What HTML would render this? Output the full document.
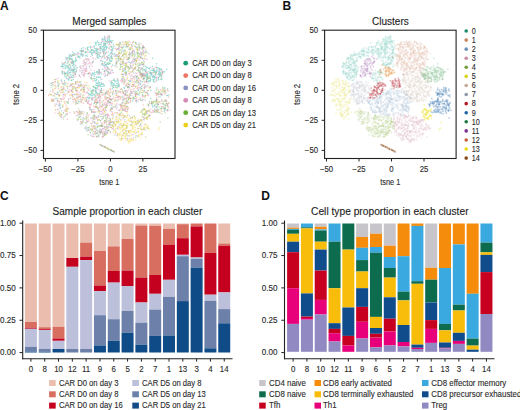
<!DOCTYPE html>
<html><head><meta charset="utf-8"><style>
html,body{margin:0;padding:0;background:#fff;width:520px;height:410px;overflow:hidden}
svg{display:block}
text{font-family:"Liberation Sans",sans-serif}
</style></head><body>
<svg width="520" height="410" viewBox="0 0 520 410">
<text x="0.0" y="9.6" font-size="12" text-anchor="start" fill="#111" font-weight="bold">A</text>
<text x="282.5" y="9.9" font-size="12" text-anchor="start" fill="#111" font-weight="bold">B</text>
<text x="-0.1" y="200.1" font-size="12" text-anchor="start" fill="#111" font-weight="bold">C</text>
<text x="261.2" y="200.0" font-size="12" text-anchor="start" fill="#111" font-weight="bold">D</text>
<defs><filter id="bl" x="-5%" y="-5%" width="110%" height="110%"><feGaussianBlur stdDeviation="0.35"/></filter></defs><g filter="url(#bl)"><path d="M71.5 63.4h0M92.8 49.4h0M76.2 71.8h0M65.7 90.6h0M101.3 90.3h0M142.8 76.0h0M99.7 72.6h0M136.1 76.7h0M66.6 73.1h0M147.5 73.3h0M123.9 87.6h0M95.6 80.9h0M147.3 74.4h0M143.7 78.7h0M112.8 85.5h0M84.9 62.4h0M144.6 88.2h0M67.0 58.5h0M103.4 48.2h0M142.3 99.5h0M83.6 74.7h0M55.2 79.4h0M90.3 94.3h0M72.7 55.2h0M119.3 84.9h0M100.6 145.1h0M162.7 73.1h0M65.9 57.6h0M75.5 61.6h0M167.7 89.1h0M56.5 94.3h0M112.0 50.4h0M148.7 68.6h0M73.7 68.9h0M161.6 94.2h0M98.4 77.2h0M103.7 45.4h0M97.2 87.2h0M125.3 69.4h0M106.0 52.8h0M70.2 58.2h0M145.0 85.0h0M74.9 69.8h0M161.6 76.7h0M125.4 74.5h0M111.8 42.8h0M117.9 84.9h0M104.3 49.1h0M73.6 63.1h0M73.0 69.5h0M164.7 110.9h0M91.1 77.7h0M96.6 92.8h0M73.0 70.1h0M149.9 78.1h0M63.9 66.7h0M100.9 79.1h0M166.7 69.2h0M159.0 74.3h0M118.6 86.5h0M152.9 77.5h0M93.4 50.8h0M75.1 71.7h0M91.7 53.3h0M85.2 51.7h0M138.9 94.9h0M111.1 86.0h0M123.4 71.1h0M98.5 80.9h0M130.6 81.3h0M79.7 56.6h0M128.9 84.5h0M71.2 55.0h0M98.5 58.1h0M93.0 52.5h0M82.7 54.1h0M65.7 73.5h0M89.0 94.0h0M111.0 61.5h0M74.0 72.0h0M75.3 73.4h0M93.6 74.0h0M69.6 69.4h0M110.3 53.9h0M116.9 81.0h0M67.2 67.8h0M104.9 42.9h0M148.4 81.3h0M144.4 90.8h0M167.9 110.5h0M88.3 98.4h0M103.5 65.0h0M92.6 90.1h0M89.8 97.2h0M112.9 40.7h0M157.3 106.4h0M159.4 76.0h0M83.1 66.1h0M157.1 70.8h0M110.9 52.9h0M99.6 85.3h0M111.5 55.7h0M108.4 52.0h0M95.0 91.2h0M104.7 47.4h0M164.8 91.8h0M92.5 95.4h0M104.4 44.3h0M138.5 94.1h0M71.5 58.7h0M154.4 105.5h0M106.3 70.5h0M152.3 76.4h0M105.3 64.6h0M97.8 54.7h0M110.9 150.2h0M103.9 43.0h0M164.5 87.9h0M145.5 70.7h0M111.4 60.4h0M103.4 50.8h0M152.9 106.7h0M88.0 73.7h0M95.4 91.3h0M91.2 49.9h0M69.2 56.4h0M97.3 54.1h0M64.2 64.8h0M160.5 74.4h0M105.3 65.2h0M104.0 54.2h0M166.0 101.1h0M164.6 71.8h0M107.4 42.6h0M146.4 67.9h0M156.5 63.8h0M109.6 102.1h0M123.2 74.6h0M112.3 88.6h0M146.2 70.9h0M57.6 82.3h0M148.0 78.7h0M62.2 73.3h0M100.4 46.6h0M150.8 72.6h0M69.8 78.1h0M99.5 93.3h0M104.4 71.3h0M102.7 65.1h0M161.1 73.2h0M112.5 49.4h0M140.9 64.2h0M142.7 75.5h0M155.5 77.8h0M98.3 83.9h0M159.2 70.9h0M165.3 109.0h0M67.0 58.1h0M157.2 70.4h0M107.4 64.2h0M143.2 75.6h0M115.7 85.4h0M94.4 103.1h0M89.3 97.9h0M75.0 61.0h0M111.0 82.3h0M109.3 64.1h0M71.4 70.0h0M102.2 50.5h0M88.2 50.1h0M105.0 76.2h0M80.2 51.1h0M144.6 78.7h0M133.5 69.9h0M104.9 147.2h0M99.2 55.7h0M151.9 103.9h0M71.8 62.2h0M100.1 50.7h0M102.7 51.5h0M108.3 57.4h0M107.5 67.2h0M98.5 86.1h0M100.4 92.0h0M67.5 86.8h0M95.1 50.4h0M144.0 74.4h0M75.8 59.3h0M111.3 84.3h0M67.6 67.6h0M150.8 90.4h0M107.4 40.5h0M97.8 93.7h0M104.2 43.7h0M101.8 83.6h0M101.2 48.6h0M136.1 93.6h0M154.4 82.0h0M156.7 71.4h0M142.7 70.7h0M98.5 45.1h0M90.0 88.2h0M100.4 48.3h0M128.6 86.9h0M161.9 79.2h0M64.4 73.6h0M153.0 79.7h0M65.1 116.1h0M97.2 83.6h0M90.7 78.2h0M158.1 104.6h0M114.5 53.5h0M150.0 72.4h0M161.2 108.4h0M162.9 107.1h0M153.4 81.2h0M72.8 70.7h0M71.4 59.7h0M103.0 56.0h0M103.4 43.5h0M118.2 82.6h0M111.0 40.8h0M97.0 52.0h0M67.7 62.5h0M74.2 67.2h0M114.9 81.8h0M60.1 105.0h0M140.3 80.8h0M147.3 75.7h0M88.5 93.6h0M101.9 63.8h0M152.4 66.2h0M102.1 49.5h0M88.2 46.9h0M91.8 74.1h0M97.0 54.0h0M96.9 72.9h0M138.5 90.4h0M125.2 90.8h0M102.4 38.5h0M74.6 53.4h0M70.5 67.9h0M100.3 76.9h0M94.3 76.3h0M158.6 77.4h0M103.5 43.4h0M109.9 72.5h0M105.6 44.3h0M65.4 68.6h0M149.5 101.7h0M118.8 53.2h0M101.7 84.0h0M101.4 88.6h0M103.3 39.8h0M70.4 68.1h0M104.5 36.6h0M107.4 75.1h0M106.1 147.7h0M108.0 148.6h0M153.4 75.4h0M107.7 71.4h0M140.4 84.4h0M145.1 76.1h0M102.5 39.8h0M69.5 64.7h0M89.2 66.2h0M151.3 75.1h0M141.7 68.8h0M96.2 80.5h0M96.1 48.4h0M136.5 77.7h0M128.9 87.4h0M152.5 70.6h0M67.9 71.7h0M59.8 104.2h0M67.0 65.5h0M113.3 47.0h0M109.2 63.0h0M95.1 90.4h0M73.9 66.7h0M157.2 104.5h0M130.6 94.9h0M73.2 54.3h0M118.7 85.7h0M113.5 83.4h0M158.3 104.1h0M97.2 71.6h0M112.3 83.1h0M99.9 144.7h0M79.3 75.7h0M101.1 84.3h0M109.6 39.8h0M154.7 110.9h0M96.7 77.6h0M62.4 64.9h0M143.1 73.9h0M112.4 53.9h0M100.3 53.0h0M163.4 104.0h0M126.2 73.5h0M129.1 97.3h0M90.6 46.4h0M65.9 78.0h0M86.9 55.0h0M67.5 74.0h0M92.1 75.1h0M142.4 76.5h0M79.5 56.9h0M73.5 64.1h0M90.5 47.8h0M79.9 58.0h0M110.6 149.9h0M102.4 61.5h0M101.3 82.7h0M64.6 80.7h0M91.2 75.6h0M99.3 44.4h0M111.6 105.6h0M105.0 58.2h0M93.4 94.1h0M71.6 62.3h0M160.0 96.9h0M145.1 86.9h0M123.9 54.2h0M153.4 70.2h0M72.8 52.2h0M80.2 50.9h0M111.9 82.6h0M91.9 97.6h0M85.9 59.0h0M106.3 64.4h0M69.8 69.5h0M79.1 101.7h0M137.8 49.2h0M73.3 79.6h0M76.4 60.5h0M51.1 94.6h0M108.8 101.7h0M84.1 88.1h0M158.0 74.6h0M105.6 53.6h0M146.9 77.7h0M68.2 76.1h0M114.5 84.4h0M104.4 85.5h0M72.2 63.5h0M156.9 67.2h0M147.6 93.8h0M105.3 40.0h0M153.6 69.2h0M98.6 42.7h0M98.9 73.2h0M81.9 70.5h0M95.6 93.1h0M73.6 70.8h0M72.9 54.7h0M96.4 72.0h0M103.9 86.0h0M98.5 53.9h0M112.5 65.1h0M101.4 44.6h0M167.3 109.5h0M91.0 90.9h0M71.1 75.9h0M163.0 71.9h0M151.4 103.5h0M107.9 58.1h0M109.1 35.6h0M94.8 74.6h0M106.3 48.2h0M99.1 93.9h0M95.0 78.5h0M64.7 72.6h0M92.3 90.5h0M83.2 47.8h0M114.1 79.0h0M81.4 48.8h0M71.6 56.4h0M140.2 72.8h0M75.3 74.4h0M156.8 88.1h0M96.9 77.0h0M104.0 146.8h0M95.5 43.7h0M107.1 47.3h0M156.5 99.2h0M127.7 86.9h0M78.0 52.6h0M90.4 47.0h0M125.9 71.6h0M98.9 69.4h0M107.2 42.8h0M128.5 59.1h0M117.9 86.9h0M100.9 47.1h0M104.4 39.8h0M154.0 68.5h0M57.7 92.7h0M146.0 75.3h0M156.8 80.3h0M141.7 86.3h0M104.4 62.9h0M63.2 63.7h0M155.5 73.7h0M72.4 65.7h0M94.6 94.9h0M152.4 106.1h0M118.2 83.9h0M65.4 62.7h0M102.0 84.3h0M96.2 85.6h0M96.5 51.2h0M144.2 69.9h0M95.4 87.7h0M107.1 63.0h0M95.8 90.3h0M133.6 97.3h0M68.4 78.4h0M111.4 83.5h0M110.4 41.0h0M136.2 100.5h0M102.5 56.8h0M105.2 47.0h0M111.6 60.6h0M92.9 89.4h0M89.1 97.6h0M150.3 81.3h0M62.8 88.9h0M151.9 73.0h0M62.7 66.4h0M140.6 75.2h0M96.6 49.7h0M72.7 72.0h0M66.1 76.8h0M104.0 49.4h0M161.6 69.3h0M109.4 39.9h0M106.9 56.6h0M87.1 56.2h0M85.8 52.3h0M73.6 64.6h0M90.8 93.7h0M168.9 94.9h0M154.2 76.9h0M160.5 74.1h0M101.5 89.9h0M100.3 90.3h0M139.8 83.9h0M103.5 84.3h0M75.6 58.0h0M91.6 50.1h0M100.6 56.4h0M62.8 72.9h0M122.4 74.6h0M77.9 52.4h0M148.0 77.9h0M94.7 72.8h0M69.4 54.7h0M81.7 50.3h0M114.6 80.5h0M85.3 52.8h0M73.1 75.1h0M158.9 68.4h0M160.3 72.4h0M94.6 52.7h0M99.7 73.6h0M113.4 44.5h0M156.6 71.3h0M94.4 46.1h0M161.8 75.8h0M158.8 109.5h0M160.0 75.3h0M71.6 76.9h0M67.1 67.3h0M101.1 60.5h0M114.2 85.0h0M76.6 70.0h0M64.8 73.9h0M142.3 76.4h0M60.6 107.7h0M148.5 105.2h0M72.8 61.1h0M96.2 82.8h0M96.7 82.9h0M158.6 73.4h0M146.3 74.0h0M158.5 112.5h0M72.3 59.5h0M96.0 43.3h0M94.0 94.5h0M160.3 69.4h0M111.8 52.5h0M144.7 78.6h0M106.3 66.3h0M73.9 61.4h0M149.4 69.1h0M160.1 75.4h0M160.8 79.3h0M135.8 90.9h0M154.4 79.0h0M143.8 73.9h0M96.3 48.6h0M109.1 55.3h0M94.8 95.1h0M130.6 91.6h0M94.9 48.7h0M117.6 79.8h0M131.9 45.2h0M97.4 85.6h0M92.2 92.1h0M147.1 67.4h0M118.2 82.0h0M93.4 86.5h0M70.8 74.8h0M68.1 102.8h0M116.6 83.3h0M97.8 102.2h0M110.7 41.2h0M71.7 80.3h0M161.8 79.0h0M79.1 56.7h0M98.7 82.4h0M97.0 42.4h0M73.6 62.8h0M147.7 77.9h0M111.5 58.2h0M99.4 70.4h0M113.0 48.5h0M144.3 74.2h0M141.5 88.6h0M70.4 66.7h0M149.0 71.7h0M152.8 58.3h0M148.8 76.1h0M107.5 38.9h0M97.0 56.0h0M153.5 69.8h0M99.6 85.4h0M80.8 54.6h0M101.4 73.9h0M92.4 90.8h0M109.4 37.6h0M82.7 56.2h0M94.1 51.8h0M109.3 48.1h0M82.3 54.4h0M83.3 50.4h0M65.9 66.1h0M154.0 79.7h0M99.0 56.7h0M156.0 77.5h0M109.3 73.2h0M118.7 86.2h0M150.7 98.6h0M150.4 78.5h0M129.8 81.3h0M143.6 47.6h0M98.6 58.0h0M158.2 78.7h0M91.5 50.4h0M150.3 80.5h0M68.1 76.0h0M164.5 109.6h0M138.3 82.4h0M110.9 82.6h0M110.5 53.6h0M121.8 79.1h0M77.0 97.2h0M59.2 105.7h0M104.7 50.7h0M158.6 79.7h0M109.0 38.9h0M160.0 68.8h0M102.5 69.3h0M81.4 51.7h0M110.4 61.5h0M111.2 41.6h0M99.6 77.3h0M70.1 65.1h0M112.8 85.3h0M135.5 42.6h0M111.8 52.0h0M165.0 105.3h0M69.1 70.2h0M161.5 79.6h0M100.3 49.1h0M159.5 72.4h0M126.1 72.6h0M115.5 87.2h0M92.3 93.4h0M61.4 80.6h0M69.3 59.3h0M141.6 74.8h0M153.6 72.0h0M109.4 60.4h0M113.5 80.3h0M154.3 71.1h0M85.9 70.1h0M96.7 48.6h0M109.5 58.4h0M149.2 68.1h0M62.4 71.7h0M51.3 85.5h0M156.0 71.9h0M64.8 76.0h0M99.5 46.7h0M72.6 70.6h0M74.5 69.7h0M97.3 57.4h0M105.1 61.7h0M76.1 54.4h0M142.2 73.6h0M79.9 66.8h0M97.4 88.1h0M111.3 47.1h0M67.9 71.0h0M145.7 66.4h0M69.6 72.8h0M105.2 40.1h0M89.5 52.1h0M74.0 69.6h0M108.2 72.3h0M94.2 87.4h0M112.3 70.2h0M155.4 74.9h0M142.5 76.5h0M96.1 91.6h0M160.4 72.2h0M91.0 52.1h0M133.1 99.3h0M147.3 77.3h0M166.9 95.4h0M142.3 47.7h0M110.3 57.0h0M111.0 99.7h0M113.5 87.6h0M124.4 88.2h0M94.5 80.1h0M111.7 57.1h0M100.9 44.5h0M104.6 62.6h0M154.2 76.2h0M74.8 68.8h0M156.8 69.9h0M105.7 43.5h0M67.0 60.1h0M146.7 81.4h0M61.5 80.1h0M73.4 61.5h0M101.3 42.2h0M108.9 41.9h0M99.5 83.0h0M107.1 59.7h0M87.4 48.8h0M85.4 55.7h0M75.7 65.8h0M102.1 86.4h0M149.9 81.6h0M102.4 46.7h0M81.2 55.3h0M142.8 95.3h0M143.7 77.8h0M65.2 84.0h0M95.8 85.3h0M97.3 50.2h0M90.2 52.5h0M61.2 66.7h0M66.2 77.1h0M140.4 57.3h0M141.1 100.6h0M153.8 70.4h0M99.3 93.8h0M95.8 96.7h0M100.4 48.5h0M151.6 74.3h0M144.3 69.4h0M159.7 91.8h0M145.1 76.2h0M93.3 89.9h0M108.3 64.3h0M111.9 57.1h0M61.7 66.2h0M154.8 77.6h0M154.8 72.3h0M102.1 64.1h0M104.7 65.7h0M68.9 79.9h0M151.1 70.3h0M104.8 44.0h0M136.4 101.9h0M68.2 66.6h0M104.0 85.3h0M67.5 75.6h0M98.1 52.2h0M165.0 88.1h0M164.3 111.6h0M94.0 86.9h0M82.5 51.5h0M109.0 37.3h0M164.3 71.8h0M160.9 75.0h0M65.4 62.0h0M103.9 48.9h0M73.0 75.6h0M122.8 47.2h0M165.2 107.1h0M92.5 62.8h0M157.0 103.3h0M78.2 57.3h0M96.6 79.6h0M114.7 81.1h0M86.3 52.3h0M135.5 96.6h0M97.3 87.6h0M67.7 58.0h0M155.1 71.8h0M76.7 67.7h0M106.0 49.7h0M68.3 79.8h0M91.1 95.5h0M58.4 85.1h0M144.4 78.3h0M107.4 63.7h0M104.9 38.2h0M70.8 72.3h0M100.6 86.2h0M109.4 43.5h0M96.1 45.0h0M69.1 57.7h0M97.3 88.2h0M115.2 80.9h0M146.8 79.8h0M67.2 73.2h0M95.4 42.5h0M109.2 63.1h0M68.0 63.8h0M73.8 65.0h0M94.3 47.0h0M68.4 68.0h0M97.5 49.5h0M138.8 70.7h0M159.1 69.0h0M146.7 80.3h0M150.6 79.4h0M153.9 79.6h0M97.5 41.1h0M159.8 76.3h0M156.3 72.9h0M110.0 41.8h0M150.2 74.1h0M92.8 73.0h0M102.0 64.3h0M71.1 70.8h0M153.2 76.9h0M95.9 88.8h0M117.3 85.5h0M156.7 100.8h0M62.0 72.0h0M78.0 55.8h0M99.3 71.2h0M112.1 49.4h0M65.3 68.0h0M89.4 107.8h0M137.0 80.1h0M72.5 77.2h0M89.6 94.7h0M103.6 53.1h0M61.2 66.4h0M75.9 54.6h0M65.6 65.4h0M140.6 72.3h0M105.3 45.5h0M91.3 91.1h0M113.9 85.5h0M111.7 49.4h0M105.5 41.0h0M141.8 74.7h0M106.7 41.3h0M87.3 47.8h0M157.9 67.7h0M154.8 70.7h0M149.4 80.8h0M72.0 69.6h0M68.8 74.0h0M151.8 74.8h0M106.5 46.5h0M96.9 48.9h0M70.0 55.9h0M103.5 46.4h0M132.7 101.0h0M111.5 150.5h0M98.9 72.4h0M91.8 54.6h0M111.6 46.7h0M134.6 56.0h0M81.3 53.5h0M138.8 94.7h0M91.1 93.3h0M159.5 73.5h0M109.0 41.3h0M104.9 45.4h0M92.3 55.2h0M150.1 76.8h0M112.4 58.8h0M107.7 67.0h0M51.5 83.3h0M83.0 54.4h0M97.0 83.8h0M56.1 98.3h0M122.2 50.0h0M63.8 83.5h0M154.6 108.9h0M150.5 73.6h0M155.0 71.0h0M153.5 76.2h0M100.4 84.9h0M145.4 71.7h0M145.5 69.7h0M69.3 68.6h0M129.3 62.6h0" stroke="#1fb0a0" stroke-width="1.5" stroke-linecap="round" stroke-opacity="0.45" fill="none"/>
<path d="M94.8 116.4h0M143.1 104.9h0M78.3 54.3h0M76.5 101.3h0M77.5 90.3h0M101.9 94.6h0M132.0 93.3h0M77.9 99.4h0M166.7 100.8h0M109.4 127.0h0M118.6 96.1h0M83.5 87.6h0M135.5 100.9h0M104.0 113.2h0M132.4 117.2h0M130.9 62.9h0M96.6 99.1h0M87.4 92.8h0M106.2 97.2h0M142.3 75.7h0M156.4 95.2h0M147.1 118.0h0M126.1 101.7h0M87.7 88.0h0M125.6 95.0h0M107.3 133.2h0M104.1 53.8h0M100.0 48.8h0M103.1 136.5h0M81.2 68.4h0M129.3 94.0h0M128.9 97.1h0M125.0 98.0h0M167.1 110.6h0M52.3 101.0h0M55.3 88.2h0M102.7 94.9h0M130.2 98.6h0M84.1 112.1h0M108.9 98.0h0M110.3 102.7h0M100.6 102.8h0M82.2 122.1h0M111.5 127.4h0M110.8 103.3h0M107.9 130.6h0M108.0 101.9h0M102.6 113.7h0M69.7 58.7h0M157.4 111.8h0M142.8 96.8h0M55.3 81.4h0M150.0 112.0h0M111.6 99.4h0M103.2 109.6h0M101.4 124.7h0M137.5 50.3h0M73.0 84.6h0M152.2 68.3h0M93.0 80.8h0M135.1 68.1h0M131.0 89.4h0M124.2 84.1h0M69.3 92.0h0M136.8 73.5h0M90.2 132.6h0M102.8 63.3h0M109.8 95.4h0M96.1 101.2h0M105.2 96.7h0M133.7 85.8h0M118.8 99.5h0M110.3 49.9h0M55.4 82.3h0M145.9 81.3h0M78.5 85.7h0M142.1 58.4h0M104.5 134.1h0M72.2 62.2h0M163.8 92.3h0M130.8 91.4h0M82.0 97.4h0M130.0 130.7h0M84.2 85.6h0M115.5 133.0h0M78.3 97.7h0M84.6 92.0h0M149.0 78.3h0M108.2 37.1h0M102.2 137.0h0M122.1 79.8h0M126.9 44.6h0M101.6 132.4h0M161.7 106.4h0M128.5 54.6h0M112.4 113.9h0M104.7 97.8h0M129.0 41.3h0M91.8 136.0h0M61.0 116.8h0M67.4 119.2h0M86.4 117.4h0M52.7 84.6h0M110.6 44.9h0M162.4 72.5h0M58.4 88.5h0M111.2 125.2h0M142.6 64.6h0M106.9 124.3h0M79.1 96.5h0M155.9 81.4h0M126.9 83.2h0M128.1 86.8h0M156.1 95.0h0M98.1 111.1h0M61.8 99.5h0M64.4 98.0h0M110.4 111.1h0M117.2 78.5h0M168.1 91.1h0M128.6 97.0h0M87.2 102.4h0M85.6 71.2h0M114.6 112.9h0M84.8 64.7h0M131.7 78.5h0M69.6 77.7h0M164.2 91.0h0M125.7 108.2h0M88.8 115.3h0M88.3 119.8h0M121.0 106.4h0M84.6 60.1h0M73.5 73.0h0M160.3 92.9h0M107.9 118.6h0M67.9 83.7h0M104.5 111.1h0M149.6 103.2h0M70.4 62.2h0M99.9 102.6h0M156.9 99.4h0M113.4 91.6h0M104.1 103.7h0M100.9 90.9h0M115.6 97.7h0M76.7 94.6h0M105.6 115.6h0M63.7 116.9h0M121.3 81.2h0M121.2 47.4h0M115.0 99.4h0M101.0 92.3h0M80.5 121.5h0M146.8 82.3h0M79.1 94.3h0M91.8 130.2h0M61.8 86.8h0M76.1 82.5h0M100.0 100.2h0M59.8 95.3h0M112.4 103.7h0M122.5 80.9h0M158.0 111.1h0M127.9 109.2h0M158.2 102.3h0M131.2 44.5h0M64.0 89.2h0M109.6 98.5h0M88.9 90.3h0M76.9 91.4h0M102.9 110.1h0M79.2 110.9h0M107.8 115.9h0M88.7 63.8h0M52.9 90.5h0M117.5 112.4h0M117.3 49.1h0M132.9 84.5h0M95.3 106.3h0M115.7 90.9h0M160.2 74.9h0M71.7 84.0h0M101.8 130.2h0M164.8 107.5h0M123.3 93.3h0M73.4 101.7h0M156.1 101.4h0M64.6 82.2h0M101.4 107.0h0M73.3 69.7h0M168.8 96.9h0M79.6 111.6h0M129.2 98.2h0M139.7 73.1h0M105.2 102.5h0M132.7 53.4h0M90.1 106.8h0M91.6 111.5h0M101.9 106.2h0M107.6 36.3h0M161.3 77.8h0M167.4 90.1h0M156.5 72.8h0M69.3 86.4h0M96.3 117.4h0M48.7 95.3h0M96.6 106.3h0M98.5 97.6h0M117.5 93.3h0M122.5 114.7h0M153.1 72.7h0M130.2 100.4h0M94.5 128.6h0M128.2 57.7h0M60.4 98.7h0M107.1 105.3h0M63.6 88.7h0M98.5 95.8h0M110.3 99.5h0M62.2 83.7h0M108.5 120.7h0M101.3 111.1h0M107.8 113.9h0M142.4 101.0h0M142.8 74.3h0M110.6 109.8h0M145.2 92.5h0M107.6 97.8h0M135.2 86.4h0M61.1 89.6h0M122.1 107.1h0M120.4 98.8h0M71.6 91.4h0M92.2 66.5h0M86.7 71.3h0M137.8 87.5h0M126.4 99.9h0M98.1 108.3h0M129.9 84.0h0M161.5 101.5h0M98.8 97.4h0M134.2 88.6h0M75.3 87.9h0M73.1 87.6h0M95.3 131.5h0M49.9 94.1h0M161.9 111.2h0M103.5 52.5h0M162.3 74.1h0M87.4 102.4h0M67.2 113.5h0M94.3 136.4h0M111.7 66.7h0M122.3 109.6h0M130.7 101.2h0M159.7 94.0h0M139.4 49.7h0M107.3 100.8h0M80.7 113.0h0M122.5 99.5h0M108.1 91.9h0M155.6 67.2h0M108.0 92.1h0M64.6 63.1h0M110.8 90.0h0M83.2 103.3h0M110.2 88.9h0M80.3 96.6h0M69.9 95.5h0M66.5 108.2h0M80.8 90.4h0M107.7 128.1h0M155.9 110.6h0M104.7 126.9h0M102.6 122.9h0M103.2 108.6h0M105.6 99.6h0M126.8 111.6h0M83.8 91.5h0M118.3 96.9h0M85.7 63.6h0M98.1 49.1h0M147.9 73.5h0M104.2 131.6h0M71.7 90.3h0M93.9 111.2h0M96.9 100.0h0M166.7 103.7h0M149.9 115.3h0M103.1 105.7h0M132.2 80.7h0M95.2 102.3h0M106.1 99.2h0M96.8 136.9h0M96.4 99.6h0M107.8 42.3h0M97.9 120.0h0M92.3 128.7h0M123.3 105.8h0M105.7 129.6h0M143.9 47.6h0M160.6 89.7h0M52.6 89.9h0M65.6 111.0h0M74.5 113.2h0M81.2 102.5h0M74.5 98.7h0M77.9 112.6h0M55.7 109.9h0M103.6 100.4h0M151.0 73.6h0M119.8 114.1h0M108.1 94.2h0M51.6 99.6h0M122.8 54.9h0M126.1 121.9h0M128.3 98.9h0M125.2 110.9h0M142.5 76.5h0M67.0 114.8h0M124.5 83.0h0M132.8 51.4h0M121.1 107.7h0M80.6 85.3h0M86.9 83.0h0M65.0 95.0h0M133.3 50.5h0M53.1 95.5h0M125.6 94.4h0M98.6 86.3h0M125.0 104.1h0M126.6 107.7h0M142.7 52.3h0M138.9 99.6h0M84.8 99.0h0M74.7 73.5h0M139.0 60.1h0M96.2 106.9h0M124.6 98.5h0M83.5 89.6h0M89.7 107.8h0M91.7 125.7h0M165.2 90.2h0M158.1 101.7h0M105.1 108.4h0M116.5 95.5h0M169.1 102.7h0M120.4 59.0h0M52.4 99.4h0M110.3 118.7h0M91.7 112.5h0M67.8 108.2h0M89.3 104.5h0M143.7 47.0h0M125.2 81.6h0M138.5 81.1h0M142.5 46.1h0M86.5 59.3h0M76.6 90.2h0M79.6 82.4h0M111.6 114.6h0M122.1 102.7h0M125.4 109.6h0M94.5 133.7h0M103.4 132.1h0M70.1 90.0h0M118.4 97.4h0M79.5 82.0h0M84.3 74.9h0M132.7 42.8h0M138.0 85.6h0M75.5 83.6h0M94.8 97.2h0M104.2 57.1h0M82.0 100.3h0M165.5 99.7h0M156.7 93.4h0M101.3 132.1h0M63.6 99.2h0M108.2 115.1h0M134.6 61.2h0M99.2 94.3h0M132.6 70.9h0M107.8 114.2h0M117.0 103.7h0M79.5 110.4h0M110.2 99.1h0M103.6 109.5h0M135.3 60.2h0M106.4 52.3h0M135.4 94.8h0M140.1 55.0h0M147.7 110.9h0M109.5 122.7h0M112.7 113.1h0M143.6 78.9h0M54.7 93.8h0M152.7 101.8h0M134.5 84.3h0M86.0 97.8h0M151.8 112.5h0M103.2 135.1h0M79.5 86.1h0M100.6 96.1h0M113.0 128.5h0M125.2 104.2h0M89.1 73.6h0M130.8 79.1h0M162.5 72.1h0M119.6 109.9h0M145.4 95.7h0M76.4 98.4h0M109.7 88.7h0M106.6 104.7h0M129.7 73.2h0M97.3 95.0h0M88.2 89.4h0M107.4 92.4h0M150.3 109.0h0M157.8 104.1h0M109.2 95.5h0M73.1 97.1h0M118.9 91.8h0M105.3 99.0h0M130.4 102.0h0M151.3 102.2h0M112.1 108.5h0M120.8 92.8h0M84.6 73.4h0M108.4 101.3h0M88.9 121.3h0M112.1 98.9h0M104.5 57.3h0M117.4 97.2h0M127.5 106.7h0M103.9 89.9h0M124.7 104.1h0M139.9 74.3h0M68.8 92.0h0M158.5 89.8h0M168.2 106.7h0M76.1 111.7h0M76.7 115.5h0M103.5 136.7h0M120.3 89.7h0M162.6 94.7h0M68.6 65.9h0M126.8 67.3h0M110.7 99.2h0M114.1 151.7h0M120.4 105.6h0M59.4 101.1h0M83.4 91.7h0M107.6 100.5h0M135.8 95.5h0M164.9 93.8h0M109.5 99.4h0M84.8 87.1h0M144.2 117.7h0M90.4 108.1h0M108.9 44.4h0M59.5 103.2h0M154.2 112.1h0M128.3 107.9h0M135.7 95.1h0M127.0 103.2h0M83.5 114.0h0M115.1 48.5h0M128.8 44.7h0M113.7 97.2h0M87.0 115.8h0M100.9 132.6h0M99.5 111.7h0M116.8 63.2h0M75.6 90.6h0M72.4 92.0h0M104.3 122.1h0M107.0 57.6h0M97.1 118.6h0M102.1 126.5h0M118.1 121.1h0M141.1 74.4h0M87.6 102.4h0M141.3 77.1h0M164.8 108.3h0M99.3 119.7h0M156.9 97.7h0M100.9 98.1h0M146.2 72.5h0M88.5 59.9h0M128.2 102.9h0M90.1 104.7h0M92.7 121.7h0M70.9 84.6h0M124.2 58.1h0M66.7 110.1h0M93.5 106.3h0M99.5 95.0h0M57.9 113.6h0M87.3 121.8h0M127.4 59.5h0M141.9 73.2h0M125.6 42.6h0M75.3 100.7h0M101.8 114.2h0M79.7 76.0h0M108.7 91.1h0M113.3 107.1h0M83.8 95.0h0M73.2 96.2h0M53.0 92.1h0M93.1 112.1h0M137.1 88.6h0M79.3 112.9h0M146.7 81.7h0M126.4 85.5h0M138.4 84.9h0M169.8 110.3h0M144.1 85.0h0M72.7 99.4h0M153.7 110.5h0M81.1 122.3h0M82.9 99.1h0M162.5 89.1h0M100.0 105.8h0M83.3 51.5h0M77.0 87.4h0M102.4 109.9h0M146.1 82.1h0M157.1 110.0h0M156.7 77.8h0M85.2 101.1h0M84.2 89.7h0M101.4 126.1h0M146.8 112.3h0M104.9 104.3h0M144.5 75.7h0M64.9 103.3h0M162.4 70.9h0M118.7 49.1h0M96.4 102.7h0M120.1 96.6h0M91.0 123.4h0M111.0 92.2h0M124.7 110.7h0M118.8 43.8h0" stroke="#f07868" stroke-width="1.5" stroke-linecap="round" stroke-opacity="0.45" fill="none"/>
<path d="M119.6 50.5h0M138.7 67.4h0M142.5 116.2h0M61.7 110.7h0M123.6 76.7h0M125.0 95.0h0M105.6 109.7h0M138.9 67.2h0M134.1 59.2h0M110.3 123.1h0M100.0 114.4h0M112.8 93.7h0M144.2 109.1h0M137.9 122.8h0M115.9 65.4h0M101.7 129.7h0M126.8 59.8h0M107.4 68.1h0M100.0 96.7h0M59.8 108.3h0M86.8 114.2h0M138.1 89.0h0M117.9 128.5h0M104.7 123.5h0M129.0 135.8h0M132.3 53.0h0M134.5 51.9h0M57.2 100.0h0M161.4 95.5h0M131.4 125.0h0M97.4 126.8h0M96.9 116.9h0M145.4 118.1h0M110.1 97.1h0M123.8 50.5h0M127.7 115.3h0M142.4 64.9h0M142.0 55.1h0M95.6 128.4h0M138.1 120.2h0M127.2 101.3h0M143.7 114.6h0M82.0 111.6h0M81.2 112.0h0M107.8 130.3h0M110.1 102.5h0M130.0 64.9h0M112.9 98.8h0M107.5 116.6h0M98.5 135.0h0M94.7 102.5h0M77.7 103.5h0M135.6 67.1h0M63.0 94.9h0M96.1 92.7h0M134.9 52.9h0M107.1 117.4h0M102.3 146.1h0M126.8 46.8h0M136.6 61.8h0M143.4 117.5h0M147.8 128.3h0M130.2 53.8h0M120.1 44.1h0M135.1 58.7h0M136.7 132.5h0M156.5 107.2h0M77.9 115.8h0M118.2 58.5h0M80.9 83.2h0M74.1 94.7h0M92.8 136.4h0M90.7 135.1h0M133.6 138.1h0M122.9 101.1h0M118.4 44.9h0M115.7 63.0h0M71.9 91.0h0M124.3 116.3h0M105.8 93.6h0M83.2 120.4h0M87.1 64.1h0M137.3 53.3h0M123.6 100.3h0M95.9 128.3h0M105.3 127.8h0M64.2 92.9h0M155.6 93.2h0M110.0 99.2h0M87.6 127.7h0M116.0 101.1h0M121.9 83.1h0M120.1 42.2h0M108.6 100.3h0M128.8 102.3h0M133.1 62.1h0M88.9 129.5h0M141.1 121.1h0M96.8 102.4h0M113.4 115.3h0M63.6 94.8h0M61.7 117.4h0M120.7 119.4h0M104.9 120.5h0M136.1 135.6h0M120.6 58.1h0M134.6 52.1h0M131.7 62.2h0M138.0 78.1h0M99.4 101.1h0M102.1 145.9h0M144.3 114.5h0M116.4 93.1h0M122.7 78.4h0M75.4 99.7h0M129.0 58.3h0M99.9 131.7h0M115.1 106.5h0M132.1 55.6h0M78.0 97.2h0M92.8 127.3h0M140.3 57.0h0M110.4 122.4h0M127.4 135.8h0M130.8 66.7h0M98.5 110.0h0M121.6 97.2h0M106.8 121.9h0M141.1 53.0h0M92.2 98.7h0M146.8 79.7h0M128.7 49.2h0M123.9 80.3h0M137.1 94.3h0M113.9 126.3h0M112.3 109.1h0M139.7 64.1h0M86.9 91.7h0M159.0 71.5h0M55.2 105.8h0M107.6 148.5h0M117.7 55.7h0M120.3 68.9h0M101.4 122.9h0M136.1 64.0h0M113.8 54.8h0M113.1 124.0h0M161.4 70.8h0M102.7 128.4h0M80.3 99.7h0M111.8 111.5h0M147.9 128.1h0M141.1 81.4h0M145.4 130.1h0M143.6 50.3h0M107.0 132.3h0M102.2 101.6h0M132.2 52.5h0M95.1 100.3h0M150.4 67.2h0M149.9 116.2h0M114.8 65.5h0M105.3 131.4h0M130.2 80.8h0M150.8 73.0h0M92.4 100.2h0M92.1 109.6h0M139.0 42.9h0M91.0 109.8h0M117.3 128.7h0M100.6 132.0h0M131.7 121.2h0M141.6 68.0h0M113.8 122.9h0M118.2 49.2h0M133.1 58.1h0M117.7 134.0h0M122.7 55.2h0M96.7 124.2h0M84.7 128.1h0M50.7 91.2h0M143.6 128.7h0M119.6 124.8h0M125.5 94.9h0M81.3 85.3h0M141.6 126.0h0M102.7 134.0h0M107.6 127.1h0M102.8 136.6h0M143.8 66.7h0M122.5 41.9h0M125.1 67.6h0M134.1 77.7h0M78.8 85.8h0M61.1 99.1h0M95.3 123.2h0M100.4 125.6h0M63.5 112.4h0M119.4 110.5h0M98.3 115.5h0M124.2 68.5h0M119.2 55.3h0M126.8 130.9h0M83.1 86.4h0M87.7 130.8h0M125.6 91.8h0M144.8 52.4h0M102.6 116.8h0M158.3 94.3h0M135.5 122.7h0M140.0 65.6h0M99.8 113.5h0M136.4 124.7h0M116.4 55.0h0M119.5 104.6h0M105.2 132.3h0M123.9 116.7h0M141.0 52.0h0M112.1 50.6h0M116.2 93.6h0M161.2 94.3h0M128.5 61.2h0M144.2 119.8h0M146.2 76.9h0M112.4 150.9h0M155.1 106.4h0M123.9 108.9h0M124.8 116.5h0M123.4 98.6h0M97.3 130.2h0M120.8 115.7h0M94.6 122.2h0M108.8 149.4h0M122.6 130.0h0M71.4 90.2h0M143.6 60.7h0M94.9 126.1h0M101.7 125.7h0M122.4 103.7h0M101.0 125.9h0M139.9 64.8h0M102.3 133.0h0M119.0 48.2h0M140.6 124.1h0M98.1 116.8h0M137.5 123.5h0M105.3 115.4h0M87.7 103.2h0M107.9 130.9h0M124.6 120.0h0M119.8 45.0h0M118.0 59.5h0M141.3 129.2h0M89.0 130.2h0M123.1 110.2h0M95.0 119.3h0M109.7 120.7h0M86.2 130.1h0M101.7 119.0h0M136.0 62.3h0M115.3 54.9h0M74.3 87.1h0M116.9 105.6h0M87.2 114.1h0M141.0 87.8h0M135.1 59.8h0M123.7 46.8h0M96.4 133.1h0M141.5 62.5h0M130.5 76.5h0M137.8 136.2h0M134.6 68.2h0M136.9 44.6h0M121.1 138.4h0M108.5 126.7h0M122.3 64.3h0M135.6 82.0h0M123.0 135.0h0M132.1 93.1h0M141.8 134.7h0M119.2 96.7h0M100.5 106.0h0M91.8 118.6h0M141.0 56.7h0M132.2 51.4h0M127.8 138.3h0M106.0 110.6h0M145.0 124.3h0M145.9 50.6h0M124.9 94.8h0M105.6 93.5h0M93.0 120.0h0M126.2 45.5h0M139.9 47.2h0M101.4 145.5h0M94.5 112.8h0M123.0 44.6h0M68.9 98.8h0M117.2 107.4h0M110.1 59.7h0M130.9 72.0h0M134.8 98.1h0M108.8 123.9h0M98.2 49.4h0M74.6 94.2h0M99.1 136.2h0M143.9 47.2h0M76.9 111.5h0M119.3 56.7h0M126.7 127.6h0M149.6 115.5h0M143.9 48.1h0M140.0 53.3h0M106.0 114.2h0M130.7 117.9h0M91.8 111.7h0M105.1 105.0h0M132.1 67.8h0M147.2 113.2h0M104.1 94.9h0M137.4 47.1h0M99.3 110.5h0M145.2 100.1h0M133.1 58.9h0M118.1 61.0h0M96.9 136.5h0M116.9 56.4h0M134.1 50.3h0M136.2 43.9h0M132.6 65.5h0M125.4 85.9h0M129.6 116.1h0M116.1 62.7h0M100.6 120.8h0M92.6 133.1h0M143.3 53.6h0M86.3 100.5h0M90.5 118.1h0M82.6 123.8h0M102.4 146.1h0M123.3 118.4h0M109.9 124.0h0M121.9 125.0h0M126.4 72.5h0M97.1 130.8h0M135.7 73.0h0M138.3 70.0h0M93.2 118.9h0M106.3 106.1h0M94.5 115.5h0M124.8 115.7h0M120.7 64.3h0M75.5 102.2h0M127.4 140.0h0M114.9 135.1h0M79.0 114.4h0M83.3 117.4h0M113.0 117.6h0M129.8 49.0h0M116.3 120.9h0M97.5 133.2h0M88.2 127.5h0M145.9 51.2h0M120.6 104.3h0M123.7 50.7h0M78.7 84.6h0M132.0 61.4h0M140.4 82.9h0M147.0 111.0h0M130.7 97.9h0M87.4 97.2h0M80.3 123.8h0M149.1 53.8h0M99.4 132.8h0M125.8 111.2h0M105.3 132.8h0M76.6 102.9h0M116.6 56.2h0M125.8 130.7h0M113.8 129.5h0M89.7 109.6h0M79.1 91.9h0M67.6 88.5h0M93.4 134.5h0M98.7 109.2h0M142.5 59.1h0M132.6 134.6h0M116.9 49.2h0M91.8 123.4h0M136.1 47.6h0M97.3 102.8h0M148.0 83.1h0M56.5 104.1h0M149.5 111.1h0M124.4 70.5h0M123.8 133.0h0M138.6 128.5h0M118.2 60.1h0M138.1 122.2h0M128.3 46.7h0M140.0 125.2h0M64.5 85.1h0M129.1 54.7h0M137.7 120.6h0M103.6 116.4h0M103.1 129.1h0M99.8 104.0h0M116.6 116.5h0M105.5 74.9h0M136.0 93.6h0M143.3 119.6h0M123.8 52.3h0M126.6 56.2h0M143.3 108.5h0M93.9 117.3h0M97.9 125.5h0M105.2 134.1h0M167.5 95.6h0M131.1 54.6h0M119.1 115.1h0M99.0 130.9h0M111.3 57.1h0M103.0 104.3h0M105.6 106.9h0M88.7 101.3h0M81.7 72.7h0M87.0 128.5h0M133.7 73.1h0M112.5 122.2h0M93.5 112.5h0M124.0 117.1h0M87.4 121.5h0M132.1 52.2h0M113.1 107.0h0M133.9 61.5h0M111.4 107.8h0M104.6 146.6h0M102.8 126.2h0M80.2 116.9h0M107.0 103.7h0M141.4 120.1h0M105.7 133.1h0M116.7 49.8h0M130.7 62.9h0M95.3 132.8h0M118.6 126.6h0M144.1 129.0h0M111.8 122.4h0M142.2 129.7h0M128.7 67.6h0M107.1 130.7h0M117.2 128.5h0M87.4 131.1h0M72.7 94.2h0M100.9 111.7h0M68.6 101.1h0M77.5 120.6h0M86.2 125.9h0M110.8 108.2h0M104.2 134.4h0M140.4 57.2h0M116.3 61.5h0M124.3 109.0h0M162.0 100.6h0M111.4 150.2h0M100.0 128.9h0M116.9 135.4h0M99.5 99.0h0M136.8 76.6h0M132.1 123.2h0M70.7 85.6h0M115.4 124.8h0M72.5 94.4h0M106.3 133.1h0M139.0 68.5h0M81.7 87.9h0M142.2 64.4h0M58.8 109.8h0M113.5 90.4h0M109.0 124.0h0M150.4 87.5h0M80.1 95.9h0M96.8 103.2h0M60.5 116.0h0M83.5 118.4h0M95.1 129.5h0M110.2 149.4h0M126.0 98.7h0M130.9 93.2h0" stroke="#8c96d0" stroke-width="1.5" stroke-linecap="round" stroke-opacity="0.45" fill="none"/>
<path d="M83.2 55.6h0M94.7 126.4h0M132.6 78.9h0M111.1 73.3h0M55.2 98.7h0M116.8 54.4h0M80.7 66.0h0M125.7 93.0h0M62.7 68.4h0M131.5 52.9h0M147.6 90.7h0M69.8 112.5h0M107.1 94.0h0M90.4 50.9h0M144.0 73.0h0M101.7 39.9h0M87.7 59.8h0M123.0 93.7h0M132.2 75.2h0M124.3 94.1h0M109.1 73.9h0M107.6 59.1h0M108.1 114.5h0M126.6 74.8h0M110.6 73.0h0M55.1 85.1h0M141.7 74.0h0M106.9 103.9h0M104.8 72.1h0M58.8 113.3h0M77.4 67.5h0M124.1 95.9h0M121.1 64.8h0M140.7 98.1h0M125.8 75.0h0M99.1 72.9h0M54.9 104.0h0M105.5 147.4h0M137.1 81.2h0M103.9 51.6h0M136.3 98.5h0M65.7 105.1h0M99.8 71.9h0M62.0 92.8h0M86.1 92.9h0M58.8 101.7h0M86.0 69.0h0M96.7 94.3h0M91.5 75.7h0M95.3 51.7h0M104.6 71.2h0M121.5 73.9h0M131.8 86.6h0M143.6 51.1h0M120.5 104.8h0M117.7 48.2h0M85.0 64.8h0M106.7 37.9h0M95.8 53.4h0M101.8 79.2h0M104.3 66.7h0M71.7 69.0h0M106.8 126.6h0M127.5 84.1h0M88.1 102.5h0M103.9 49.4h0M81.0 101.6h0M120.4 91.7h0M129.9 121.3h0M104.2 38.7h0M125.3 105.9h0M68.0 61.5h0M156.7 94.2h0M90.4 72.8h0M134.0 42.0h0M107.7 67.6h0M168.5 108.3h0M94.6 100.9h0M142.8 75.1h0M70.8 77.6h0M62.3 74.3h0M131.7 138.8h0M113.2 151.5h0M85.8 73.4h0M167.7 105.2h0M107.3 132.4h0M83.3 63.6h0M51.6 100.9h0M92.4 62.8h0M160.9 103.7h0M99.1 107.5h0M146.5 81.7h0M83.3 76.0h0M139.6 45.2h0M165.1 101.7h0M127.0 62.4h0M146.4 59.5h0M95.1 112.1h0M61.9 115.1h0M84.8 62.6h0M101.3 58.4h0M163.1 108.4h0M86.5 68.3h0M99.5 69.6h0M60.3 92.1h0M105.7 75.5h0M81.5 89.8h0M75.3 74.8h0M108.5 41.7h0M93.5 90.6h0M127.5 90.6h0M106.3 121.8h0M110.2 46.6h0M62.0 98.6h0M83.0 68.3h0M158.5 96.4h0M82.2 50.4h0M121.1 59.3h0M52.7 100.6h0M103.7 74.3h0M110.9 104.3h0M57.4 101.7h0M62.0 82.6h0M143.6 75.3h0M103.6 110.8h0M141.1 74.9h0M131.7 47.8h0M93.3 58.8h0M102.2 41.8h0M91.4 77.4h0M134.4 91.5h0M93.9 126.4h0M130.8 57.1h0M129.9 85.3h0M139.5 54.5h0M129.4 52.2h0M91.8 47.4h0M115.8 105.0h0M149.0 87.3h0M132.0 91.8h0M123.7 78.8h0M148.6 95.7h0M104.3 55.6h0M90.8 62.7h0M136.1 99.7h0M120.5 62.1h0M142.2 85.4h0M140.4 97.4h0M111.3 150.4h0M104.1 52.0h0M62.7 63.7h0M155.7 76.0h0M57.0 94.3h0M127.5 111.1h0M58.6 102.3h0M65.8 59.4h0M95.0 107.4h0M142.4 49.1h0M127.6 95.5h0M156.7 99.7h0M72.1 87.1h0M120.8 108.9h0M136.5 100.8h0M119.2 56.4h0M162.9 107.0h0M141.7 76.1h0M118.9 84.0h0M78.0 95.7h0M58.5 94.5h0M87.9 100.8h0M77.5 56.4h0M139.9 48.4h0M84.0 61.3h0M133.2 86.6h0M132.9 50.5h0M132.3 46.4h0M84.0 72.8h0M91.9 53.6h0M144.1 87.7h0M110.0 69.8h0M129.2 57.9h0M121.4 88.8h0M104.5 67.9h0M86.4 66.0h0M91.1 98.6h0M95.8 117.6h0M84.7 68.3h0M104.8 73.3h0M93.3 61.6h0M98.0 132.3h0M108.0 55.7h0M157.9 77.2h0M143.5 54.4h0M56.5 78.9h0M131.5 92.6h0M132.7 60.2h0M94.1 122.7h0M63.7 87.9h0M101.8 131.4h0M115.7 90.2h0M68.8 72.6h0M136.2 58.3h0M100.8 47.3h0M118.2 110.1h0M99.6 54.4h0M146.1 92.5h0M161.7 93.8h0M128.5 73.8h0M146.8 59.2h0M64.0 71.7h0M151.2 103.4h0M89.4 100.3h0M97.2 56.1h0M107.3 101.9h0M102.8 83.6h0M135.3 75.5h0M139.6 86.9h0M89.2 62.9h0M95.7 58.9h0M137.9 100.8h0M83.3 61.1h0M146.5 91.9h0M140.6 67.9h0M98.8 70.7h0M111.3 42.5h0M79.8 70.0h0M92.2 100.1h0M103.2 128.5h0M89.0 72.2h0M52.3 82.6h0M130.3 94.7h0M109.5 104.9h0M122.8 69.1h0M98.7 89.6h0M120.9 80.4h0M90.9 56.5h0M58.1 78.3h0M139.4 87.5h0M110.0 37.0h0M92.7 58.0h0M88.7 103.5h0M145.0 58.7h0M138.5 52.8h0M149.0 104.3h0M76.3 71.5h0M91.9 63.1h0M119.6 46.8h0M129.9 88.1h0M94.8 131.5h0M156.4 68.0h0M77.1 93.0h0M101.1 65.2h0M135.0 69.3h0M109.0 115.5h0M73.2 99.3h0M137.7 75.5h0M124.7 63.6h0M114.5 93.4h0M105.4 92.4h0M85.3 70.8h0M67.0 78.8h0M147.2 95.5h0M133.2 63.8h0M161.6 109.9h0M123.2 92.5h0M138.9 72.7h0M61.9 90.0h0M160.0 113.3h0M86.4 66.5h0M121.7 106.0h0M71.0 59.5h0M104.0 44.8h0M106.8 125.6h0M113.0 121.7h0M130.4 42.8h0M136.2 77.9h0M97.9 74.6h0M138.0 79.3h0M85.3 48.7h0M89.5 61.2h0M101.6 72.2h0M128.7 67.3h0M59.3 105.8h0M143.0 90.3h0M166.0 101.4h0M93.4 97.9h0M80.3 94.5h0M123.3 61.3h0M134.2 93.8h0M123.6 61.8h0M96.2 89.4h0M91.2 103.0h0M122.8 74.4h0M126.4 44.5h0M118.2 47.9h0M146.9 72.1h0M75.3 74.0h0M132.3 96.0h0M88.0 52.6h0M53.6 101.2h0M104.6 146.9h0M89.7 68.0h0M82.6 72.1h0M80.6 67.8h0M58.1 104.8h0M86.7 61.4h0M143.0 79.2h0M107.1 93.8h0M137.1 58.8h0M82.1 51.3h0M156.2 109.3h0M148.6 106.6h0M134.0 82.7h0M84.2 68.8h0M81.4 54.1h0M91.0 64.8h0M108.1 74.1h0M144.7 86.9h0M102.2 57.6h0M99.0 52.7h0M84.4 70.7h0M140.2 58.7h0M63.9 94.6h0M101.8 107.0h0M130.8 98.4h0M133.5 85.0h0M107.9 58.5h0M143.4 45.8h0M93.4 117.7h0M62.3 63.0h0M87.5 52.1h0M68.1 91.0h0M134.2 81.5h0M159.5 69.8h0M83.7 63.3h0M97.5 98.3h0M127.6 91.3h0M161.7 99.4h0M111.3 99.3h0M155.8 76.3h0M135.7 95.2h0M135.8 94.4h0M101.5 88.7h0M54.0 101.0h0M69.5 76.7h0M111.9 54.0h0M110.6 73.7h0M139.7 79.7h0M65.7 96.1h0M105.6 64.7h0M142.9 84.8h0M88.6 95.5h0M127.2 97.2h0M79.1 74.8h0M126.8 80.1h0M67.1 93.4h0M98.7 74.6h0M100.5 60.7h0M131.7 74.8h0M63.2 97.0h0M120.8 61.8h0M94.4 70.5h0M145.4 71.1h0M89.0 59.0h0M55.0 112.9h0M77.0 83.9h0M89.7 74.0h0M99.0 96.6h0M150.1 87.5h0M104.5 129.0h0M62.9 107.0h0M123.4 138.6h0M110.4 132.8h0M86.8 69.4h0M111.6 52.7h0M144.4 75.5h0M79.6 53.5h0M90.8 69.9h0M138.3 101.1h0M74.9 54.8h0M126.1 63.8h0M133.3 89.5h0M68.7 90.5h0M123.0 63.2h0M123.8 92.4h0M80.1 97.4h0M130.0 75.1h0M113.9 151.6h0M107.3 75.5h0M108.4 103.0h0M64.5 110.7h0M116.3 108.7h0M70.3 85.7h0M112.2 128.7h0M86.9 97.4h0M107.0 38.1h0M107.0 69.9h0M89.2 76.5h0M154.1 69.9h0M100.0 72.3h0M106.0 68.2h0M82.8 72.6h0M140.3 70.3h0M117.6 101.1h0M109.6 117.9h0M133.3 76.7h0M166.7 104.9h0M143.2 96.1h0M119.1 53.8h0M158.5 104.4h0M102.6 112.3h0M73.3 54.2h0M128.5 132.0h0M133.5 69.1h0M139.4 82.7h0M152.8 76.5h0M134.4 76.6h0M80.0 71.8h0M68.9 99.5h0M117.5 97.4h0M77.4 53.6h0M104.8 37.3h0M70.7 55.9h0M91.3 104.9h0M72.6 62.9h0M118.4 80.4h0M154.8 92.1h0M57.7 109.6h0M105.8 147.1h0M110.3 41.9h0M100.7 52.7h0M119.2 86.7h0M156.2 79.8h0M103.9 93.4h0M167.2 110.8h0M128.7 89.8h0M137.1 94.2h0M126.2 90.6h0M110.8 121.9h0M61.8 81.4h0M146.5 85.9h0M106.9 91.7h0M100.1 100.6h0M65.2 101.6h0M85.0 69.3h0M105.5 41.8h0M101.3 90.7h0M112.7 72.5h0M110.2 72.6h0M75.7 81.4h0M107.5 75.4h0M86.6 120.4h0M124.8 90.9h0M104.7 122.7h0M107.5 57.3h0M90.8 104.4h0M100.8 129.8h0M72.0 95.2h0M126.2 74.3h0M62.1 114.7h0M124.1 109.6h0M93.0 61.5h0M114.8 45.9h0M100.0 43.3h0M57.7 85.7h0M144.6 82.5h0M77.7 86.9h0M80.9 115.1h0M111.8 102.3h0M58.4 83.6h0M67.2 113.8h0M145.8 87.2h0M108.6 69.0h0M152.7 110.6h0M93.3 46.7h0M134.9 98.4h0M141.2 74.1h0M75.0 65.1h0M145.3 74.5h0M134.6 78.9h0M81.7 74.4h0M101.4 145.5h0M110.6 71.8h0M141.1 53.4h0M148.0 94.3h0M108.4 71.2h0M103.8 41.4h0M131.3 67.7h0M87.7 58.5h0M100.2 72.3h0M138.2 89.6h0M124.8 106.4h0M97.9 101.2h0M77.3 94.1h0M129.0 86.2h0M84.3 75.9h0M152.9 111.9h0M111.6 70.3h0M88.2 73.7h0M108.6 48.8h0M83.1 84.4h0M67.0 58.1h0M143.4 64.4h0M93.2 98.5h0M138.4 89.7h0M143.6 99.4h0M65.0 73.8h0M121.4 47.0h0M94.3 98.0h0M167.8 104.2h0M122.6 81.2h0M109.2 122.8h0M141.5 89.8h0M105.9 106.0h0M82.8 66.2h0M127.0 77.9h0M130.5 65.9h0M113.5 72.5h0M94.0 109.8h0M157.7 93.9h0M61.9 62.4h0M106.8 59.9h0M77.9 113.4h0M100.1 91.7h0M105.8 70.7h0M80.5 76.9h0M114.3 56.2h0M83.1 70.5h0M54.1 81.9h0M104.1 68.1h0M143.7 96.3h0M122.7 109.0h0M83.6 63.4h0M109.3 80.8h0M127.7 86.1h0M143.6 51.4h0M119.3 92.1h0M158.4 94.7h0M124.6 73.3h0M73.7 77.4h0M102.4 145.4h0M140.2 87.5h0M105.5 68.9h0M117.9 96.4h0M97.8 98.2h0M75.1 76.6h0M111.2 81.2h0" stroke="#e08cc0" stroke-width="1.5" stroke-linecap="round" stroke-opacity="0.45" fill="none"/>
<path d="M137.1 83.3h0M106.4 119.5h0M57.8 92.0h0M144.2 81.2h0M126.8 95.0h0M124.7 80.8h0M143.5 63.4h0M75.1 88.9h0M80.0 116.3h0M81.3 99.3h0M142.9 62.9h0M116.0 58.5h0M165.4 105.2h0M121.9 56.6h0M63.6 87.1h0M99.6 131.8h0M140.3 99.5h0M136.8 76.3h0M81.4 123.7h0M144.8 96.1h0M89.3 127.3h0M155.3 104.6h0M90.6 129.9h0M50.9 87.8h0M106.6 98.6h0M122.3 76.8h0M116.5 63.9h0M121.5 88.9h0M61.3 101.4h0M146.2 111.2h0M123.2 102.7h0M136.0 81.7h0M156.2 107.1h0M100.2 126.1h0M145.8 51.9h0M101.8 126.0h0M126.5 65.2h0M86.3 101.3h0M106.9 121.1h0M112.3 125.5h0M125.4 46.7h0M141.4 92.7h0M146.9 92.4h0M139.7 48.1h0M78.4 108.8h0M80.5 86.3h0M106.6 98.6h0M141.3 54.3h0M105.3 120.8h0M105.7 129.8h0M138.5 47.6h0M77.5 81.4h0M155.0 112.1h0M103.9 115.0h0M54.5 96.0h0M55.0 93.4h0M98.1 120.0h0M86.0 118.9h0M110.3 119.4h0M97.5 108.4h0M132.3 117.2h0M68.2 109.0h0M107.2 105.8h0M94.1 121.8h0M118.6 56.7h0M132.9 55.3h0M59.5 115.1h0M59.6 95.7h0M102.8 124.7h0M146.8 92.9h0M125.7 67.1h0M94.8 116.0h0M130.4 68.6h0M140.1 91.4h0M125.1 50.2h0M138.5 44.7h0M145.1 97.2h0M110.4 63.4h0M137.0 52.9h0M83.9 90.2h0M150.0 86.7h0M132.9 71.8h0M141.5 111.6h0M139.6 71.4h0M163.8 89.1h0M142.4 68.4h0M122.9 110.6h0M85.7 122.6h0M80.8 89.8h0M128.9 44.2h0M65.9 83.0h0M110.9 100.1h0M137.0 70.6h0M91.5 78.9h0M105.9 118.5h0M128.0 66.6h0M90.3 132.2h0M85.2 122.4h0M130.0 98.5h0M137.5 65.9h0M133.6 54.0h0M128.0 67.8h0M113.9 121.4h0M104.5 121.0h0M61.5 89.8h0M126.9 42.1h0M82.0 119.3h0M115.3 107.0h0M95.7 95.7h0M87.2 49.8h0M156.7 90.1h0M147.9 104.2h0M134.4 116.3h0M148.3 116.7h0M126.7 98.0h0M75.8 104.0h0M125.2 54.2h0M147.0 52.7h0M139.0 71.2h0M111.6 150.4h0M114.0 101.3h0M141.9 110.5h0M134.2 45.5h0M118.8 60.8h0M58.8 95.0h0M167.7 106.6h0M122.7 96.9h0M142.5 52.4h0M106.2 126.9h0M86.0 116.6h0M100.8 132.5h0M160.8 94.3h0M121.9 51.9h0M156.2 89.9h0M157.0 111.1h0M135.1 63.8h0M129.9 53.0h0M83.7 89.3h0M145.7 137.1h0M162.7 87.3h0M165.9 92.8h0M148.6 110.9h0M125.2 49.7h0M142.3 94.8h0M129.2 58.8h0M72.9 83.2h0M144.5 109.6h0M93.3 131.3h0M86.4 99.6h0M82.4 95.7h0M165.2 108.4h0M116.3 113.1h0M147.8 78.0h0M120.5 50.1h0M116.9 62.3h0M96.3 53.6h0M96.9 107.0h0M120.4 67.4h0M81.2 113.7h0M157.3 92.9h0M147.3 78.7h0M95.8 106.7h0M163.6 104.3h0M137.9 57.9h0M97.6 107.8h0M99.9 130.2h0M81.1 93.8h0M126.4 102.8h0M137.5 54.6h0M122.8 62.1h0M97.5 103.1h0M131.6 86.5h0M146.6 118.9h0M158.6 93.1h0M97.6 126.8h0M146.1 114.1h0M81.2 101.5h0M139.4 121.8h0M97.8 120.2h0M137.1 57.1h0M81.1 84.7h0M108.7 124.8h0M68.8 60.7h0M138.0 50.9h0M158.5 91.4h0M125.3 72.8h0M108.2 62.8h0M128.0 58.4h0M110.1 122.2h0M89.0 128.1h0M98.0 72.0h0M79.1 112.1h0M76.2 88.0h0M83.9 90.4h0M93.4 78.4h0M53.6 100.6h0M157.5 109.1h0M97.6 123.1h0M103.1 117.7h0M72.8 86.6h0M125.0 51.3h0M77.1 119.4h0M156.4 111.0h0M127.4 109.4h0M163.0 103.6h0M162.9 90.7h0M100.0 134.1h0M109.2 69.0h0M139.1 65.2h0M98.9 117.0h0M125.5 62.9h0M109.5 102.5h0M68.0 103.3h0M133.1 77.0h0M115.7 91.8h0M133.2 98.2h0M66.9 111.6h0M144.9 115.3h0M90.9 128.9h0M142.5 81.7h0M153.6 102.5h0M120.8 53.4h0M122.7 125.8h0M120.4 113.6h0M143.1 69.2h0M120.9 66.6h0M92.6 117.0h0M136.4 60.6h0M119.2 45.5h0M127.3 46.9h0M59.5 111.9h0M105.5 94.1h0M127.0 92.5h0M142.5 113.8h0M99.2 125.9h0M61.2 115.1h0M128.1 86.9h0M129.3 68.8h0M116.5 64.3h0M138.8 55.7h0M137.5 52.6h0M127.3 42.4h0M113.9 151.9h0M122.3 90.3h0M58.4 86.4h0M138.5 78.3h0M142.0 112.3h0M121.3 105.3h0M140.7 123.9h0M71.3 80.3h0M80.7 111.9h0M121.7 66.4h0M57.8 100.5h0M65.2 74.3h0M78.5 100.9h0M124.9 44.4h0M67.3 102.0h0M68.1 92.1h0M117.0 88.0h0M93.4 61.3h0M128.7 58.0h0M108.8 130.5h0M167.3 104.9h0M136.2 47.9h0M164.9 100.5h0M108.0 90.2h0M162.5 103.6h0M110.3 96.2h0M128.6 80.6h0M135.0 68.8h0M160.2 122.1h0M126.9 126.3h0M75.5 82.3h0M94.4 118.4h0M148.4 105.1h0M111.9 109.1h0M122.2 108.0h0M166.1 103.5h0M63.5 113.2h0M144.5 114.9h0M75.3 84.2h0M135.5 86.8h0M80.4 119.3h0M126.5 43.9h0M109.9 93.1h0M118.2 91.1h0M112.0 80.8h0M144.3 61.9h0M71.3 84.9h0M75.9 94.5h0M125.4 65.5h0M155.0 101.1h0M141.8 57.8h0M88.5 73.4h0M128.1 71.1h0M143.1 110.1h0M98.5 97.3h0M53.1 82.9h0M128.6 99.3h0M121.6 105.2h0M121.8 47.8h0M128.7 84.3h0M126.8 95.5h0M126.2 106.3h0M92.3 78.6h0M139.7 71.8h0M110.0 124.8h0M62.7 106.4h0M142.1 49.0h0M125.3 69.3h0M107.9 73.3h0M105.0 107.4h0M127.3 101.3h0M146.9 76.8h0M82.0 121.9h0M73.6 75.7h0M57.9 98.6h0M116.2 87.0h0M135.1 54.8h0M124.6 99.7h0M93.8 103.8h0M129.5 95.7h0M119.8 69.5h0M117.1 44.7h0M78.0 103.0h0M139.3 46.6h0M153.0 103.8h0M98.9 126.5h0M142.8 92.5h0M88.1 130.0h0M130.5 48.1h0M72.3 96.1h0M117.9 122.6h0M123.5 59.8h0M91.5 91.7h0M106.8 128.3h0M164.9 90.5h0M91.6 99.5h0M63.1 84.3h0M123.3 63.0h0M146.8 117.3h0M156.2 112.3h0M125.4 103.2h0M86.9 85.8h0M143.9 65.0h0M123.7 64.9h0M122.8 96.9h0M88.0 117.6h0M129.9 49.6h0M91.7 50.1h0M153.7 101.5h0M121.6 112.8h0M130.7 65.9h0M140.8 43.9h0M73.2 89.1h0M142.1 62.5h0M97.2 136.3h0M119.3 52.7h0M129.5 56.3h0M138.7 56.4h0M116.4 44.6h0M168.4 103.6h0M167.9 117.9h0M122.2 48.2h0M154.8 101.1h0M129.7 55.0h0M100.4 120.4h0M161.3 108.3h0M122.9 69.0h0M136.0 43.0h0M74.0 112.0h0M83.2 97.6h0M84.4 119.1h0M127.0 106.4h0M88.1 134.8h0M81.1 51.1h0M59.7 90.6h0M147.7 85.8h0M135.7 137.2h0M61.4 114.3h0M66.1 110.1h0M102.9 146.2h0M85.8 128.6h0M106.1 92.9h0M123.6 57.0h0M110.2 131.8h0M121.4 51.9h0M157.7 93.9h0M148.7 115.2h0M112.7 86.7h0M105.2 94.7h0M129.5 67.9h0M128.3 131.0h0M50.1 83.8h0M98.2 136.0h0M125.4 66.0h0M102.5 92.8h0M72.8 55.3h0M110.5 110.0h0M116.9 67.0h0M133.8 98.5h0M96.9 133.2h0M133.4 91.6h0M63.2 91.2h0M123.3 91.8h0M70.7 97.9h0M138.1 55.4h0M94.4 115.1h0M121.1 59.4h0M163.7 101.6h0M120.5 65.0h0M145.6 112.0h0M124.4 105.8h0M138.1 65.4h0M106.0 117.5h0M94.0 125.7h0M116.6 62.3h0M66.6 102.0h0M112.9 151.0h0M104.3 126.6h0M137.0 92.0h0M128.8 69.6h0M122.3 62.8h0M125.8 54.8h0M78.9 117.6h0M112.7 94.6h0M87.0 112.5h0M144.1 58.3h0M62.2 105.8h0M87.4 112.9h0M155.6 101.9h0M111.0 127.6h0M135.4 46.6h0M72.4 61.2h0M106.1 114.9h0M101.4 126.1h0M151.6 101.3h0M143.9 64.1h0M136.9 52.6h0M140.9 44.0h0M135.4 92.8h0M117.1 99.7h0M74.3 55.6h0M148.3 90.6h0M92.5 129.7h0M115.6 56.3h0M97.4 127.6h0M119.2 58.7h0M96.1 104.6h0M119.9 63.5h0M130.8 48.9h0M102.8 118.5h0M85.5 52.2h0M95.8 134.4h0M82.3 113.3h0M125.2 93.7h0M119.0 46.8h0M106.5 91.5h0M85.5 84.9h0M132.7 84.6h0M95.7 99.2h0M59.4 84.2h0M72.5 89.0h0M140.6 69.4h0M123.2 91.9h0M63.0 119.1h0M131.0 49.1h0M145.7 55.7h0M165.3 113.0h0M127.1 65.9h0M143.0 78.6h0M111.7 46.7h0M116.8 90.9h0M53.1 85.9h0M108.6 130.1h0M104.6 135.5h0M127.5 87.4h0M122.4 91.4h0M126.1 133.6h0M145.8 113.0h0M138.8 67.6h0M108.3 149.2h0M86.7 118.7h0M140.8 73.9h0M96.7 130.0h0M120.1 42.4h0M62.2 71.0h0M123.6 125.2h0M138.1 69.5h0M83.0 121.8h0M130.6 124.8h0M116.1 95.0h0M120.1 43.7h0M138.8 53.4h0M119.1 117.9h0M129.5 54.0h0M162.0 113.7h0M110.5 121.0h0M93.3 86.8h0M122.5 71.6h0M86.4 123.1h0M120.9 67.1h0M156.9 101.0h0M138.8 63.3h0M139.5 92.7h0M128.3 99.7h0M53.5 99.3h0M79.3 116.9h0M125.4 41.5h0M127.2 45.9h0M166.9 103.2h0M163.9 108.5h0M56.0 86.8h0M122.2 61.1h0M159.7 102.3h0M107.9 97.4h0M140.4 89.0h0M118.4 58.3h0M95.8 112.0h0M65.8 114.5h0M105.5 44.0h0M132.6 51.8h0M102.3 104.7h0M128.0 42.8h0M100.7 116.5h0M134.7 59.5h0M112.3 126.1h0M118.1 56.9h0M151.9 103.4h0M152.4 103.1h0M124.7 79.4h0M135.7 64.6h0M144.3 113.6h0M86.0 127.6h0M133.3 41.5h0M80.3 81.4h0M144.0 91.4h0M123.8 82.6h0M120.0 58.9h0M142.7 47.6h0M126.2 85.1h0M162.3 91.7h0M124.4 54.1h0M136.8 80.4h0M93.6 115.4h0M104.4 133.5h0M107.7 69.2h0M76.1 90.2h0M159.1 107.0h0M112.5 92.6h0M104.3 70.8h0M106.4 107.5h0M78.4 118.9h0M101.6 92.4h0M91.3 110.3h0M105.7 134.5h0M95.6 88.1h0M79.6 114.2h0" stroke="#78b840" stroke-width="1.5" stroke-linecap="round" stroke-opacity="0.45" fill="none"/>
<path d="M63.2 104.7h0M122.4 139.0h0M134.8 131.2h0M123.3 133.3h0M116.5 121.8h0M116.0 132.5h0M133.0 126.5h0M129.8 46.9h0M124.7 129.4h0M124.2 115.9h0M82.5 91.8h0M88.9 86.0h0M140.5 112.2h0M121.7 115.6h0M122.9 105.8h0M125.7 135.7h0M115.2 100.5h0M140.1 119.5h0M125.4 128.3h0M76.0 100.3h0M135.6 117.5h0M133.1 140.6h0M128.8 130.9h0M124.0 42.4h0M93.7 128.1h0M127.9 140.5h0M114.3 104.3h0M84.8 82.0h0M132.1 129.2h0M130.3 130.8h0M126.0 131.2h0M134.4 80.0h0M143.6 129.4h0M117.2 127.7h0M144.4 109.5h0M118.2 119.6h0M140.2 127.1h0M147.0 125.9h0M125.9 57.7h0M126.2 128.7h0M118.2 51.2h0M130.6 138.3h0M59.9 115.1h0M125.7 138.3h0M134.6 67.8h0M131.5 135.6h0M116.9 122.8h0M128.2 120.4h0M57.8 80.7h0M66.3 106.4h0M127.6 78.7h0M147.1 117.4h0M158.2 129.6h0M78.1 82.6h0M124.0 132.5h0M113.4 132.0h0M135.1 129.5h0M129.2 141.5h0M100.4 144.8h0M127.1 116.7h0M123.7 125.1h0M145.1 124.2h0M149.2 77.8h0M135.9 122.0h0M123.3 129.9h0M149.3 88.5h0M122.4 70.7h0M131.9 139.9h0M122.6 67.2h0M122.3 117.7h0M148.4 110.2h0M134.2 131.8h0M119.5 116.1h0M128.4 142.7h0M133.1 128.6h0M142.6 116.8h0M138.4 131.2h0M108.1 148.6h0M126.4 53.3h0M134.2 131.8h0M89.7 42.9h0M70.7 94.0h0M131.2 125.7h0M51.5 95.2h0M142.5 114.3h0M131.6 72.2h0M160.0 112.0h0M116.8 95.6h0M117.9 133.7h0M122.4 125.6h0M114.6 122.7h0M126.3 138.5h0M147.8 125.6h0M82.0 86.1h0M145.6 110.8h0M121.2 123.8h0M135.6 43.4h0M136.2 61.3h0M66.6 111.2h0M121.1 110.9h0M120.4 132.8h0M112.8 125.3h0M124.8 136.2h0M73.2 92.1h0M115.9 59.7h0M120.5 128.3h0M123.5 123.0h0M54.2 89.2h0M129.4 132.6h0M142.6 109.9h0M140.2 76.9h0M98.2 112.0h0M139.9 134.9h0M61.2 87.2h0M141.3 63.2h0M74.3 99.0h0M120.0 140.3h0M123.1 127.7h0M141.5 119.7h0M145.2 110.1h0M120.4 97.5h0M125.2 137.1h0M116.7 44.5h0M142.1 134.1h0M122.3 127.1h0M145.1 127.7h0M142.2 121.8h0M137.2 60.2h0M129.7 141.2h0M141.2 120.4h0M141.2 133.4h0M98.7 111.9h0M128.1 120.1h0M131.2 132.0h0M106.5 148.3h0M122.4 135.4h0M132.4 123.5h0M106.0 122.6h0M95.5 101.4h0M82.8 88.9h0M120.9 134.9h0M121.7 137.8h0M145.1 112.9h0M142.4 132.8h0M131.9 125.4h0M129.7 120.9h0M66.0 85.9h0M119.3 135.1h0M137.9 128.8h0M114.9 121.9h0M148.2 115.9h0M139.3 120.5h0M156.3 103.1h0M133.1 128.1h0M134.9 127.6h0M134.1 56.9h0M109.3 93.4h0M127.3 126.7h0M154.9 74.1h0M124.0 129.5h0M65.2 109.6h0M141.0 120.3h0M67.3 75.0h0M115.8 128.9h0M105.3 112.2h0M147.6 128.1h0M135.1 117.7h0M137.4 121.7h0M78.7 87.8h0M141.7 119.7h0M116.2 119.4h0M135.3 133.5h0M51.4 101.2h0M79.3 87.7h0M112.0 58.2h0M55.8 109.5h0M137.9 81.2h0M133.0 132.1h0M162.0 91.0h0M126.9 128.3h0M133.8 121.5h0M129.8 139.9h0M132.1 98.3h0M129.7 94.5h0M120.0 122.3h0M133.7 121.3h0M121.1 127.7h0M160.7 109.4h0M111.5 121.4h0M117.9 126.9h0M144.0 76.8h0M118.6 56.5h0M138.1 136.4h0M145.8 94.7h0M123.6 54.7h0M78.1 97.6h0M106.4 135.1h0M95.0 127.3h0M145.6 49.0h0M120.7 59.3h0M120.7 123.7h0M137.5 130.9h0M72.6 89.1h0M54.8 105.7h0M55.0 85.8h0M120.8 128.6h0M126.6 134.3h0M116.0 117.9h0M119.9 129.1h0M121.6 74.3h0M128.8 131.7h0M135.5 122.4h0M114.7 124.0h0M124.5 134.3h0M130.2 49.8h0M54.5 79.7h0M132.8 122.6h0M67.4 86.2h0M136.5 123.4h0M122.7 131.3h0M122.3 62.8h0M74.4 86.5h0M136.2 86.5h0M140.7 129.2h0M130.2 118.5h0M144.6 129.3h0M115.9 124.9h0M91.5 126.3h0M142.7 54.8h0M134.1 125.0h0M130.5 121.2h0M112.6 119.0h0M126.5 64.3h0M136.1 121.1h0M128.2 82.8h0M115.2 126.2h0M135.7 124.4h0M132.6 85.1h0M121.6 136.2h0M144.9 118.4h0M130.9 139.8h0M106.4 107.2h0M136.8 60.1h0M125.5 72.6h0M118.7 119.5h0M113.1 126.0h0M129.4 140.1h0M125.8 117.1h0M127.0 51.8h0M132.2 46.6h0M125.3 65.0h0M123.6 77.4h0M147.4 119.0h0M125.9 117.4h0M115.2 130.5h0M124.9 121.6h0M121.2 139.4h0M64.1 101.7h0M123.6 133.5h0M132.4 127.5h0M145.0 53.8h0M124.7 125.1h0M118.2 121.8h0M119.8 115.4h0M145.7 110.7h0M140.6 137.6h0M129.7 133.3h0M138.9 78.0h0M127.6 123.4h0M126.6 125.0h0M159.3 128.1h0M115.6 131.8h0M138.6 132.8h0M119.2 134.0h0M128.8 119.2h0M137.4 63.9h0M142.3 129.7h0M126.7 126.9h0M133.3 65.0h0M127.1 113.1h0M138.3 135.8h0M135.4 96.3h0M113.9 131.3h0M125.0 53.2h0M137.9 123.8h0M126.5 56.0h0M121.8 44.9h0M125.9 132.1h0M71.3 94.4h0M110.2 149.6h0M135.2 119.0h0M119.5 127.5h0M150.3 118.4h0M118.1 44.8h0M63.0 92.4h0M124.7 124.1h0M118.3 134.0h0M131.9 118.7h0M146.7 127.8h0M125.6 132.2h0M96.6 123.6h0M135.1 121.8h0M121.7 136.3h0M61.2 92.2h0M135.7 67.3h0M128.5 132.2h0M125.4 53.6h0M134.8 118.5h0M139.1 125.9h0M136.5 123.8h0M126.5 117.1h0M116.8 117.8h0M149.1 129.4h0M130.2 141.9h0M113.3 127.3h0M116.0 124.2h0M136.8 97.0h0M105.9 147.3h0M101.9 101.9h0M123.7 115.2h0M75.9 103.7h0M135.8 121.9h0M132.9 131.7h0M93.4 91.8h0M144.4 127.0h0M107.5 148.6h0M112.6 116.0h0M117.8 114.5h0M126.6 52.3h0M133.3 139.2h0M122.8 55.6h0M62.3 89.2h0M127.2 115.4h0M59.9 113.0h0M137.3 48.5h0M118.0 54.8h0M129.0 71.4h0M126.8 44.0h0M134.0 122.3h0M131.9 121.5h0M133.0 68.9h0M133.4 139.5h0M121.3 139.6h0M118.6 121.3h0M143.3 127.8h0M104.1 146.8h0M127.1 76.0h0M134.5 133.1h0M123.7 44.2h0M145.7 114.4h0M121.2 131.3h0M114.8 100.2h0M121.5 59.2h0M136.7 49.6h0M119.5 138.0h0M132.5 48.8h0M93.1 119.3h0M132.1 82.6h0M141.0 133.8h0M120.9 125.8h0M77.0 94.8h0M128.0 125.4h0M159.6 101.3h0M123.7 115.4h0M127.9 41.9h0M144.8 56.3h0M138.3 135.0h0M137.2 93.2h0M144.0 88.0h0M128.8 119.0h0M128.7 131.6h0M119.5 135.1h0M112.8 118.8h0M78.4 88.0h0M124.0 116.9h0M125.9 68.8h0M100.2 108.6h0M65.3 94.8h0M131.6 71.7h0M119.6 52.6h0M146.7 127.5h0M139.5 121.4h0M94.7 132.8h0M124.8 125.1h0M114.2 123.6h0M129.3 136.1h0M124.7 136.4h0M119.1 113.9h0M135.7 139.9h0M58.6 81.0h0M60.5 113.3h0M132.0 118.2h0M124.2 129.0h0M118.0 136.1h0M139.6 56.8h0M130.8 130.6h0M126.0 139.2h0M140.2 128.4h0M58.8 96.2h0M145.6 125.1h0M128.8 45.5h0M83.6 98.0h0M149.0 128.2h0M50.0 94.0h0M121.6 140.0h0M115.2 131.1h0M142.3 90.5h0M138.4 121.8h0M121.0 120.6h0M127.2 133.8h0M156.6 93.1h0M144.7 108.8h0M125.9 125.4h0M69.4 64.2h0M124.5 107.4h0M118.6 53.8h0M132.4 56.0h0M104.7 111.3h0M126.6 134.8h0" stroke="#f0cc18" stroke-width="1.5" stroke-linecap="round" stroke-opacity="0.45" fill="none"/>
<path d="M352.6 63.4h0M357.3 71.8h0M380.8 72.6h0M348.1 58.5h0M347.0 57.6h0M393.1 50.4h0M387.1 52.8h0M385.4 49.1h0M354.1 69.5h0M372.2 77.7h0M374.5 50.8h0M366.3 51.7h0M385.0 51.6h0M363.8 54.1h0M392.1 61.5h0M355.1 72.0h0M376.4 51.7h0M350.7 69.4h0M391.4 53.9h0M386.0 42.9h0M350.8 58.7h0M376.9 53.4h0M392.0 52.9h0M392.6 55.7h0M385.8 47.4h0M352.8 69.0h0M374.1 80.8h0M378.9 54.7h0M385.0 43.0h0M385.3 38.7h0M372.3 49.9h0M378.4 54.1h0M386.4 65.2h0M388.5 42.6h0M351.9 77.6h0M391.4 49.9h0M391.5 63.4h0M383.8 65.1h0M393.6 49.4h0M356.1 61.0h0M380.3 55.7h0M383.8 51.5h0M382.4 58.4h0M348.7 67.6h0M388.5 40.5h0M385.3 43.7h0M382.3 48.6h0M356.4 74.8h0M391.3 46.6h0M384.5 43.5h0M348.8 62.5h0M383.3 41.8h0M372.5 77.4h0M383.0 63.8h0M383.2 49.5h0M372.9 74.1h0M355.7 53.4h0M351.6 67.9h0M381.4 76.9h0M375.4 76.3h0M346.5 68.6h0M384.4 39.8h0M351.5 68.1h0M350.6 64.7h0M377.3 80.5h0M377.2 48.4h0M394.4 47.0h0M390.3 63.0h0M377.4 53.6h0M358.6 56.4h0M381.4 53.0h0M347.0 78.0h0M373.0 53.6h0M360.6 56.9h0M383.5 61.5h0M379.1 72.0h0M348.4 75.0h0M361.3 50.9h0M374.5 78.4h0M387.4 64.4h0M349.3 76.1h0M353.3 63.5h0M393.1 58.2h0M379.7 42.7h0M354.7 70.8h0M354.0 54.7h0M382.5 44.6h0M352.2 75.9h0M390.2 35.6h0M375.9 74.6h0M387.4 48.2h0M376.1 78.5h0M364.3 47.8h0M362.5 48.8h0M356.4 74.4h0M378.0 77.0h0M371.5 47.0h0M382.0 47.1h0M385.5 39.8h0M344.3 63.7h0M353.5 65.7h0M377.6 51.2h0M349.5 78.4h0M384.6 52.5h0M352.4 80.3h0M353.8 72.0h0M388.0 56.6h0M381.7 56.4h0M379.2 49.1h0M375.7 52.7h0M394.5 44.5h0M379.0 74.6h0M388.9 42.3h0M353.9 61.1h0M353.4 59.5h0M377.4 48.6h0M391.2 59.7h0M379.3 49.4h0M363.2 51.3h0M391.8 41.2h0M378.1 42.4h0M354.7 62.8h0M355.8 73.5h0M394.1 48.5h0M351.5 66.7h0M361.9 54.6h0M389.0 58.5h0M382.5 73.9h0M343.4 63.0h0M363.8 56.2h0M375.2 51.8h0M364.4 50.4h0M347.0 66.1h0M380.1 56.7h0M349.2 76.0h0M362.5 51.7h0M350.2 70.2h0M345.9 76.0h0M353.7 70.6h0M392.7 52.7h0M360.7 53.5h0M353.9 55.3h0M370.6 52.1h0M354.4 54.2h0M382.0 44.5h0M348.1 60.1h0M385.9 37.3h0M354.5 61.5h0M388.2 59.7h0M368.5 48.8h0M366.5 55.7h0M353.5 61.2h0M371.3 52.5h0M342.3 66.7h0M381.5 48.5h0M349.7 65.9h0M389.4 64.3h0M393.0 57.1h0M385.8 65.7h0M379.2 52.2h0M390.1 37.3h0M385.0 48.9h0M386.0 38.2h0M390.5 43.5h0M350.2 57.7h0M376.5 42.5h0M356.1 65.1h0M378.6 41.1h0M352.2 70.8h0M389.7 48.8h0M343.1 72.0h0M359.1 55.8h0M384.7 53.1h0M346.1 73.8h0M392.8 49.4h0M386.6 41.0h0M343.0 62.4h0M387.8 41.3h0M368.4 47.8h0M349.9 74.0h0M387.6 46.5h0M395.4 56.2h0M372.9 54.6h0M386.0 45.4h0M373.4 55.2h0M350.4 68.6h0" stroke="#22a088" stroke-width="1.8" stroke-linecap="round" stroke-opacity="0.16" fill="none"/>
<path d="M419.8 67.4h0M412.6 52.9h0M397.0 65.4h0M407.9 59.8h0M412.0 62.9h0M403.0 56.6h0M413.4 53.0h0M397.6 63.9h0M423.1 55.1h0M402.2 64.8h0M424.7 51.1h0M399.3 51.2h0M416.0 52.9h0M398.8 48.2h0M422.4 54.3h0M416.2 58.7h0M419.6 47.6h0M399.3 58.5h0M399.7 56.7h0M415.1 42.0h0M418.1 52.9h0M423.5 68.4h0M414.2 62.1h0M420.7 45.2h0M401.7 58.1h0M408.1 62.4h0M409.1 66.6h0M410.1 41.3h0M414.7 54.0h0M410.1 58.3h0M409.1 67.8h0M416.7 43.4h0M428.1 52.7h0M411.9 66.7h0M402.2 59.3h0M399.9 60.8h0M420.8 64.1h0M423.6 52.4h0M398.8 55.7h0M397.8 44.5h0M401.4 68.9h0M411.0 53.0h0M424.7 50.3h0M395.9 65.5h0M401.5 67.4h0M421.0 48.4h0M403.9 62.1h0M422.7 68.0h0M410.3 57.9h0M399.3 49.2h0M414.2 58.1h0M415.2 56.9h0M418.9 49.2h0M405.3 68.5h0M417.3 58.3h0M397.5 55.0h0M426.7 49.0h0M424.2 69.2h0M417.5 60.6h0M400.3 45.5h0M408.4 46.9h0M400.7 46.8h0M421.0 64.8h0M420.5 49.7h0M411.3 49.8h0M400.1 48.2h0M400.9 45.0h0M399.1 59.5h0M414.3 63.8h0M423.8 54.8h0M407.6 43.9h0M416.2 59.8h0M425.4 61.9h0M422.6 62.5h0M417.9 60.1h0M413.3 46.6h0M406.4 65.0h0M404.7 61.8h0M421.0 47.2h0M399.3 47.9h0M403.9 54.9h0M413.9 51.4h0M413.0 45.2h0M398.2 44.7h0M420.4 46.6h0M425.0 47.2h0M414.4 50.5h0M411.6 48.1h0M420.1 60.1h0M404.6 59.8h0M418.5 47.1h0M399.2 61.0h0M414.4 65.0h0M413.7 65.5h0M421.9 43.9h0M400.4 52.7h0M419.8 56.4h0M407.6 56.0h0M402.9 44.9h0M410.8 55.0h0M424.4 53.6h0M404.0 69.0h0M417.1 43.0h0M399.2 44.8h0M415.7 61.2h0M413.7 70.9h0M401.9 61.8h0M401.8 64.3h0M410.6 67.9h0M416.8 67.3h0M407.2 63.8h0M398.0 67.0h0M404.1 63.2h0M410.9 49.0h0M427.0 51.2h0M413.1 61.4h0M402.2 59.4h0M430.2 53.8h0M407.7 52.3h0M403.9 55.6h0M397.7 62.3h0M418.4 48.5h0M410.1 71.4h0M423.6 59.1h0M404.8 44.2h0M418.0 52.6h0M402.6 59.2h0M422.0 44.0h0M417.8 49.6h0M407.9 67.3h0M400.3 58.7h0M407.7 56.2h0M412.2 54.6h0M412.1 49.1h0M425.9 56.3h0M408.2 65.9h0M401.2 43.7h0M419.9 53.4h0M410.6 54.0h0M411.8 62.9h0M405.3 58.1h0M407.0 68.8h0M412.4 67.7h0M400.7 52.6h0M406.5 41.5h0M403.3 61.1h0M402.5 47.0h0M413.7 51.8h0M415.8 59.5h0M399.2 56.9h0M411.6 65.9h0M409.9 45.5h0M401.1 58.9h0M420.1 68.5h0M405.5 54.1h0M415.7 56.0h0M424.7 51.4h0M399.8 49.1h0" stroke="#c8805c" stroke-width="1.8" stroke-linecap="round" stroke-opacity="0.18" fill="none"/>
<path d="M406.8 93.0h0M399.7 96.1h0M404.0 105.8h0M396.3 100.5h0M407.2 101.7h0M388.0 103.9h0M395.4 104.3h0M404.3 102.7h0M391.2 102.5h0M390.0 98.0h0M391.4 102.7h0M381.7 102.8h0M391.9 103.3h0M383.7 113.7h0M385.0 115.0h0M404.0 101.1h0M375.7 100.9h0M391.1 99.2h0M409.9 102.3h0M392.0 100.1h0M397.9 95.6h0M397.5 93.1h0M376.8 95.7h0M373.3 98.7h0M379.3 112.0h0M392.0 104.3h0M368.3 102.4h0M406.8 108.2h0M408.6 111.1h0M385.6 111.1h0M394.5 91.6h0M396.7 97.7h0M386.7 115.6h0M382.1 92.3h0M373.2 109.6h0M372.1 109.8h0M378.7 107.8h0M392.7 105.6h0M390.4 93.4h0M382.5 107.0h0M400.5 110.5h0M408.5 109.4h0M383.0 106.2h0M406.7 91.8h0M398.6 93.3h0M403.6 114.7h0M390.6 102.5h0M391.7 109.8h0M401.5 113.6h0M386.6 94.1h0M369.8 103.5h0M407.5 99.9h0M403.4 90.3h0M395.6 93.4h0M386.5 92.4h0M368.8 103.2h0M389.1 92.1h0M391.3 88.9h0M389.1 90.2h0M393.0 109.1h0M407.9 111.6h0M403.3 108.0h0M398.0 105.6h0M384.2 105.7h0M379.6 97.3h0M402.7 105.2h0M407.3 106.3h0M384.7 100.4h0M375.6 112.8h0M400.9 114.1h0M406.3 110.9h0M402.2 107.7h0M405.7 99.7h0M374.9 103.8h0M377.3 106.9h0M372.9 111.7h0M372.7 99.5h0M382.9 107.0h0M380.4 110.5h0M372.8 112.5h0M378.6 98.3h0M402.7 112.8h0M408.3 97.2h0M384.7 109.5h0M393.8 113.1h0M389.5 103.0h0M397.4 108.7h0M400.7 109.9h0M387.7 104.7h0M378.4 95.0h0M398.7 101.1h0M390.3 95.5h0M392.1 99.7h0M405.5 105.8h0M411.5 102.0h0M393.2 108.5h0M379.8 109.2h0M372.4 104.9h0M393.2 98.9h0M405.8 104.1h0M398.2 99.7h0M391.8 99.2h0M388.7 100.5h0M387.6 91.5h0M371.9 104.4h0M371.5 108.1h0M369.8 101.3h0M405.2 109.6h0M394.2 107.0h0M392.9 102.3h0M368.7 102.4h0M397.2 95.0h0M409.3 102.9h0M371.2 104.7h0M381.3 108.6h0M370.5 107.8h0M394.4 107.1h0M375.1 109.8h0M394.6 90.4h0M377.9 103.2h0M393.6 92.6h0M387.5 107.5h0M377.5 102.7h0M372.4 110.3h0M385.8 111.3h0M392.1 92.2h0" stroke="#6f93b8" stroke-width="1.8" stroke-linecap="round" stroke-opacity="0.18" fill="none"/>
<path d="M403.5 139.0h0M397.6 121.8h0M419.0 122.8h0M406.8 135.7h0M406.5 128.3h0M409.9 130.9h0M412.5 125.0h0M424.7 129.4h0M419.2 120.2h0M398.3 127.7h0M399.3 119.6h0M407.3 128.7h0M411.7 138.3h0M412.6 135.6h0M404.4 129.9h0M413.0 139.9h0M403.4 117.7h0M419.5 131.2h0M412.3 125.7h0M402.3 123.8h0M401.5 132.8h0M415.5 116.3h0M404.6 123.0h0M421.0 134.9h0M401.1 140.3h0M395.0 126.3h0M404.2 127.7h0M423.2 134.1h0M426.8 137.1h0M429.0 128.1h0M413.5 123.5h0M402.0 134.9h0M402.8 137.8h0M423.5 132.8h0M398.4 128.7h0M420.4 120.5h0M394.9 122.9h0M416.0 127.6h0M424.7 128.7h0M422.7 126.0h0M416.2 117.7h0M418.5 121.7h0M416.4 133.5h0M407.9 130.9h0M414.1 132.1h0M414.9 121.5h0M403.7 130.0h0M397.1 117.9h0M401.0 129.1h0M421.8 123.9h0M421.7 124.1h0M418.6 123.5h0M405.7 120.0h0M421.8 129.2h0M425.7 129.3h0M422.4 129.2h0M397.0 124.9h0M393.7 119.0h0M396.3 126.2h0M394.1 121.7h0M404.1 135.0h0M422.9 134.7h0M406.9 117.1h0M426.1 124.3h0M402.3 139.4h0M413.5 127.5h0M399.3 121.8h0M410.8 133.3h0M407.0 132.1h0M416.3 119.0h0M405.8 124.1h0M413.0 118.7h0M406.7 132.2h0M416.2 121.8h0M402.8 136.3h0M408.5 140.0h0M404.5 138.6h0M415.9 118.5h0M407.6 117.1h0M404.8 115.2h0M414.0 131.7h0M398.9 114.5h0M409.6 132.0h0M394.9 129.5h0M415.1 122.3h0M402.4 139.6h0M424.4 127.8h0M415.6 133.1h0M419.7 128.5h0M402.0 125.8h0M400.2 115.1h0M405.1 117.1h0M422.5 120.1h0M404.7 125.2h0M400.6 135.1h0M423.3 129.7h0M398.3 128.5h0M405.9 125.1h0M395.3 123.6h0M410.4 136.1h0M405.8 136.4h0M400.2 113.9h0M393.4 126.1h0M413.2 123.2h0M399.1 136.1h0M407.7 134.8h0" stroke="#c88aa0" stroke-width="1.8" stroke-linecap="round" stroke-opacity="0.2" fill="none"/>
<path d="M391.4 123.1h0M390.5 127.0h0M382.8 129.7h0M380.7 131.8h0M388.4 133.2h0M362.5 123.7h0M384.2 136.5h0M374.8 128.1h0M376.7 128.4h0M362.3 112.0h0M365.2 112.1h0M363.3 122.1h0M388.2 117.4h0M387.9 126.6h0M359.0 115.8h0M379.2 120.0h0M373.9 136.4h0M383.9 124.7h0M375.9 116.0h0M386.4 127.8h0M385.6 134.1h0M368.7 127.7h0M370.0 129.5h0M386.0 120.5h0M382.7 132.4h0M371.4 132.2h0M385.6 121.0h0M367.5 117.4h0M391.5 122.4h0M393.9 125.3h0M387.9 121.9h0M387.3 126.9h0M381.9 132.5h0M369.9 115.3h0M383.8 128.4h0M389.0 118.6h0M374.4 131.3h0M372.9 130.2h0M360.3 110.9h0M378.9 120.2h0M365.8 128.1h0M383.9 136.6h0M375.2 122.7h0M384.2 117.7h0M383.7 116.8h0M392.6 121.4h0M384.3 128.5h0M372.0 128.9h0M382.1 125.9h0M389.0 130.9h0M385.8 126.9h0M375.5 118.4h0M368.3 114.1h0M374.1 120.0h0M359.0 112.6h0M391.1 124.8h0M389.9 123.9h0M380.0 126.5h0M369.2 130.0h0M387.9 128.3h0M391.4 118.7h0M378.0 136.5h0M378.3 136.3h0M375.6 133.7h0M384.5 132.1h0M381.5 120.4h0M373.7 133.1h0M391.0 124.0h0M378.2 130.8h0M374.3 118.9h0M375.6 115.5h0M391.3 131.8h0M379.3 136.0h0M385.6 129.0h0M391.5 132.8h0M384.3 135.1h0M378.0 133.2h0M368.1 112.5h0M372.9 123.4h0M382.5 126.1h0M384.7 116.4h0M384.2 129.1h0M383.9 118.5h0M375.0 117.3h0M364.6 114.0h0M382.0 132.6h0M389.7 130.1h0M362.0 115.1h0M378.2 118.6h0M383.9 126.2h0M361.3 116.9h0M364.1 121.8h0M380.4 119.7h0M376.4 132.8h0M368.5 131.1h0M367.3 125.9h0M385.3 134.4h0M381.8 116.5h0M362.2 122.3h0M367.1 127.6h0M387.4 133.1h0M382.5 126.1h0M364.6 118.4h0M372.1 123.4h0M360.7 114.2h0" stroke="#86b040" stroke-width="1.8" stroke-linecap="round" stroke-opacity="0.2" fill="none"/>
<path d="M346.8 90.6h0M336.3 98.7h0M350.9 112.5h0M337.6 94.3h0M340.9 108.3h0M338.3 100.0h0M332.0 87.8h0M339.9 113.3h0M336.0 104.0h0M346.8 105.1h0M349.3 109.0h0M340.6 115.1h0M336.5 82.3h0M344.7 94.8h0M347.0 83.0h0M348.5 119.2h0M341.4 92.1h0M342.9 99.5h0M346.2 116.1h0M336.3 105.8h0M344.8 116.9h0M340.9 95.3h0M347.1 85.9h0M345.7 82.2h0M337.6 78.9h0M342.2 99.1h0M332.2 94.6h0M332.5 101.2h0M329.8 95.3h0M341.5 98.7h0M343.3 83.7h0M340.6 111.9h0M336.1 85.8h0M339.5 86.4h0M348.5 86.2h0M348.4 102.0h0M347.6 108.2h0M334.2 82.9h0M333.7 89.9h0M345.2 101.7h0M339.2 104.8h0M349.2 102.8h0M334.2 95.5h0M346.8 96.1h0M344.1 92.4h0M344.7 99.2h0M340.8 90.6h0M347.2 110.1h0M348.2 93.4h0M344.3 97.0h0M332.4 85.5h0M341.0 113.0h0M348.7 88.5h0M338.8 109.6h0M337.6 104.1h0M346.3 84.0h0M340.6 103.2h0M344.1 119.1h0M338.8 85.7h0M339.0 113.6h0M346.4 94.8h0M346.9 114.5h0M335.2 81.9h0M339.9 109.8h0M341.6 116.0h0M346.0 103.3h0M344.9 83.5h0" stroke="#d8d41c" stroke-width="1.8" stroke-linecap="round" stroke-opacity="0.2" fill="none"/>
<path d="M418.2 83.3h0M407.9 95.0h0M417.2 76.7h0M405.0 87.6h0M413.1 93.3h0M425.7 88.2h0M419.2 89.0h0M421.4 99.5h0M426.1 85.0h0M425.9 96.1h0M403.4 76.8h0M402.6 88.9h0M406.9 75.0h0M404.5 71.1h0M412.9 86.6h0M419.6 94.1h0M408.7 78.7h0M405.3 84.1h0M421.2 91.4h0M430.4 88.5h0M404.3 74.6h0M431.1 86.7h0M403.2 79.8h0M412.7 72.2h0M411.1 98.5h0M403.8 78.4h0M425.1 74.4h0M409.7 86.9h0M420.1 71.2h0M424.7 75.3h0M418.2 94.3h0M430.1 87.3h0M429.7 95.7h0M417.6 100.8h0M427.9 82.3h0M411.3 80.8h0M425.2 87.7h0M402.5 88.8h0M414.0 84.5h0M412.6 92.6h0M428.7 93.8h0M419.0 81.2h0M410.8 94.5h0M427.6 91.9h0M411.3 100.4h0M408.8 86.9h0M423.6 81.7h0M423.5 101.0h0M408.1 92.5h0M411.0 88.1h0M419.6 78.3h0M411.8 101.2h0M418.8 75.5h0M409.7 80.6h0M428.3 95.5h0M420.0 72.7h0M416.7 82.0h0M413.2 93.1h0M404.7 77.4h0M415.3 93.8h0M416.9 90.9h0M420.0 78.0h0M410.6 95.7h0M415.1 82.7h0M423.9 92.5h0M422.6 88.6h0M415.3 81.5h0M416.5 96.3h0M416.8 95.2h0M428.8 85.8h0M414.4 89.5h0M411.9 79.1h0M426.5 95.7h0M410.8 73.2h0M411.8 97.9h0M420.5 82.7h0M427.8 81.4h0M429.1 83.1h0M421.0 74.3h0M422.2 100.6h0M418.2 94.2h0M429.4 90.6h0M417.5 101.9h0M405.9 90.9h0M406.3 93.7h0M413.8 84.6h0M416.8 95.1h0M424.1 78.6h0M407.3 74.3h0M414.8 73.1h0M408.6 87.4h0M425.1 88.0h0M422.2 74.4h0M427.9 79.8h0M426.4 74.5h0M403.6 71.6h0M415.7 78.9h0M419.3 89.6h0M410.1 86.2h0M419.5 89.7h0M421.5 89.0h0M403.7 81.2h0M407.5 85.5h0M404.9 82.6h0M407.3 85.1h0M413.8 101.0h0" stroke="#c0aa98" stroke-width="1.8" stroke-linecap="round" stroke-opacity="0.2" fill="none"/>
<path d="M357.6 101.3h0M368.5 92.8h0M362.1 101.6h0M355.2 94.7h0M365.0 90.2h0M359.4 97.7h0M365.7 92.0h0M359.1 97.2h0M360.2 96.5h0M356.9 104.0h0M354.0 83.2h0M363.5 95.7h0M359.1 95.7h0M370.0 90.3h0M362.2 84.7h0M352.8 84.0h0M362.4 85.3h0M357.3 88.0h0M354.5 101.7h0M359.9 85.8h0M359.8 87.8h0M353.9 86.6h0M360.2 101.7h0M360.4 87.7h0M353.7 89.1h0M352.5 90.2h0M364.3 103.3h0M355.5 86.5h0M361.4 96.6h0M355.4 87.1h0M352.8 90.3h0M352.4 84.9h0M357.0 94.5h0M365.9 99.0h0M364.6 89.6h0M357.7 90.2h0M351.2 90.0h0M356.6 83.6h0M367.4 100.5h0M364.3 97.6h0M368.0 97.4h0M356.8 81.4h0M353.6 89.0h0M353.1 95.2h0M356.7 90.6h0M353.5 92.0h0M353.8 94.2h0M366.3 101.1h0M357.2 90.2h0" stroke="#9098a8" stroke-width="1.8" stroke-linecap="round" stroke-opacity="0.18" fill="none"/>
<path d="M393.9 85.5h0M371.4 94.3h0M370.9 97.2h0M373.6 95.4h0M376.5 91.3h0M380.6 93.3h0M396.8 85.4h0M392.1 82.3h0M379.6 86.1h0M382.5 88.6h0M376.2 90.4h0M374.5 94.1h0M395.6 84.4h0M373.4 90.5h0M399.0 86.9h0M399.3 83.9h0M377.3 85.6h0M376.9 90.3h0M392.5 83.5h0M374.0 89.4h0M403.5 74.6h0M395.7 80.5h0M393.1 80.8h0M395.3 85.0h0M375.1 94.5h0M375.9 95.1h0M379.8 82.4h0M380.7 85.4h0M373.5 90.8h0M399.8 86.2h0M392.0 82.6h0M394.6 80.3h0M375.3 87.4h0M377.2 91.6h0M376.9 85.3h0M382.4 90.7h0M378.4 87.6h0M395.0 85.5h0M372.2 93.3h0M390.4 80.8h0M378.1 83.8h0" stroke="#b01c28" stroke-width="1.8" stroke-linecap="round" stroke-opacity="0.32" fill="none"/>
<path d="M437.3 107.1h0M438.4 106.4h0M431.1 112.0h0M436.1 112.1h0M434.0 106.7h0M437.8 94.2h0M447.1 101.1h0M442.0 103.7h0M446.4 109.0h0M439.2 104.6h0M442.3 108.4h0M444.0 107.1h0M449.2 91.1h0M441.4 92.9h0M447.0 92.8h0M430.7 103.2h0M437.8 99.7h0M439.4 104.1h0M439.3 102.3h0M438.4 92.9h0M444.5 104.0h0M444.7 104.3h0M439.6 91.4h0M445.9 107.5h0M437.2 101.4h0M448.5 90.1h0M442.8 93.8h0M432.3 103.4h0M448.4 109.5h0M439.4 94.3h0M433.5 106.1h0M442.6 101.5h0M440.8 94.0h0M441.1 113.3h0M447.8 103.7h0M439.9 109.5h0M429.6 105.2h0M446.0 90.5h0M450.2 102.7h0M445.6 109.6h0M442.4 108.3h0M432.9 112.5h0M447.8 104.9h0M439.6 89.8h0M448.3 110.8h0M440.8 91.8h0M446.0 93.8h0M440.7 101.3h0M448.0 103.2h0M448.9 104.2h0M433.0 103.4h0M450.9 110.3h0M443.6 89.1h0" stroke="#1f63a5" stroke-width="1.8" stroke-linecap="round" stroke-opacity="0.3" fill="none"/>
<path d="M428.6 73.3h0M442.7 76.7h0M431.0 78.1h0M438.2 70.8h0M433.3 68.3h0M426.6 70.7h0M430.3 77.8h0M427.3 70.9h0M423.8 75.5h0M438.3 70.4h0M443.5 72.5h0M437.8 71.4h0M443.0 79.2h0M431.1 72.4h0M428.4 75.7h0M436.8 76.0h0M434.5 75.4h0M426.2 76.1h0M432.4 75.1h0M431.5 67.2h0M431.9 73.0h0M423.5 76.5h0M425.1 76.8h0M421.3 72.8h0M423.9 74.3h0M435.1 68.5h0M437.9 80.3h0M425.3 69.9h0M442.7 69.3h0M429.1 77.9h0M442.9 75.8h0M423.4 76.4h0M439.7 73.4h0M427.4 74.0h0M425.8 78.6h0M430.5 69.1h0M441.9 79.3h0M435.5 79.0h0M442.9 79.0h0M429.9 76.1h0M434.7 72.0h0M426.5 71.1h0M424.7 78.9h0M435.2 69.9h0M435.3 76.2h0M437.9 69.9h0M432.7 74.3h0M436.2 71.8h0M431.7 79.4h0M434.3 76.9h0M436.1 71.0h0M426.5 71.7h0" stroke="#3a9a50" stroke-width="1.8" stroke-linecap="round" stroke-opacity="0.2" fill="none"/>
<path d="M361.8 66.0h0M366.1 64.8h0M373.5 62.8h0M364.4 76.0h0M364.1 68.3h0M365.7 60.1h0M371.9 62.7h0M367.5 66.0h0M374.4 61.6h0M367.8 71.3h0M366.8 63.6h0M369.6 73.4h0M363.7 72.1h0M364.8 63.3h0M365.4 74.9h0M367.0 70.1h0M367.9 69.4h0M371.9 69.9h0M370.2 73.6h0M363.9 72.6h0M361.1 71.8h0M366.1 69.3h0M374.1 61.5h0M365.4 75.9h0M360.8 76.0h0" stroke="#7a3090" stroke-width="1.8" stroke-linecap="round" stroke-opacity="0.22" fill="none"/>
<path d="M388.5 68.1h0M385.9 72.1h0M385.4 66.7h0M385.5 71.3h0M386.8 75.5h0M391.0 72.5h0M388.8 71.4h0M379.9 70.7h0M390.4 73.2h0M383.6 69.3h0M379.8 74.6h0M393.4 70.2h0M381.1 72.3h0M391.3 72.6h0M389.7 69.0h0M391.7 71.8h0M386.9 70.7h0M385.2 68.1h0M385.4 70.8h0" stroke="#e6862e" stroke-width="1.8" stroke-linecap="round" stroke-opacity="0.35" fill="none"/>
<path d="M423.6 116.2h0M424.8 114.6h0M423.6 114.3h0M429.7 110.9h0M429.3 115.9h0M425.3 119.8h0M426.0 115.3h0M423.6 113.8h0M423.1 112.3h0M426.0 118.4h0M424.2 110.1h0M428.5 119.0h0M426.8 110.7h0M428.8 110.9h0M431.4 109.0h0M426.7 112.0h0M424.4 119.6h0M424.4 108.5h0M425.3 117.7h0M427.9 112.3h0" stroke="#e8dc10" stroke-width="1.8" stroke-linecap="round" stroke-opacity="0.35" fill="none"/>
<path d="M381.7 145.1h0M383.4 146.1h0M392.0 150.2h0M394.3 151.5h0M383.2 145.9h0M381.0 144.7h0M385.1 146.8h0M393.5 150.9h0M395.0 151.9h0M384.0 146.2h0M395.0 151.6h0M389.4 149.2h0M382.5 145.5h0M391.3 149.4h0" stroke="#8a4a18" stroke-width="1.8" stroke-linecap="round" stroke-opacity="0.33" fill="none"/>
<path d="M364.3 55.6h0M359.4 54.3h0M343.8 68.4h0M384.5 48.2h0M371.5 50.9h0M356.6 61.6h0M354.8 68.9h0M379.5 77.2h0M384.8 45.4h0M385.2 53.8h0M381.1 48.8h0M388.7 59.1h0M354.7 63.1h0M345.0 66.7h0M356.2 71.7h0M358.5 67.5h0M379.6 80.9h0M360.8 56.6h0M352.3 55.0h0M379.6 58.1h0M374.1 52.5h0M346.8 73.5h0M356.4 73.4h0M394.0 40.7h0M389.5 52.0h0M385.5 44.3h0M385.0 49.4h0M392.5 60.4h0M384.5 50.8h0M349.1 61.5h0M345.3 64.8h0M350.9 78.1h0M348.1 58.1h0M388.5 64.2h0M389.3 37.1h0M352.5 70.0h0M372.6 78.9h0M391.7 44.9h0M368.3 49.8h0M395.6 53.5h0M363.3 50.4h0M353.9 70.7h0M352.5 59.7h0M384.1 56.0h0M392.1 40.8h0M355.3 67.2h0M369.3 46.9h0M378.0 72.9h0M383.5 38.5h0M385.4 55.6h0M386.7 44.3h0M354.6 73.0h0M385.2 52.0h0M346.9 59.4h0M383.6 39.8h0M348.1 65.5h0M390.7 39.8h0M343.5 64.9h0M393.5 53.9h0M371.7 46.4h0M368.0 55.0h0M354.6 64.1h0M361.0 58.0h0M380.4 44.4h0M349.9 60.7h0M386.1 58.2h0M389.3 62.8h0M389.1 55.7h0M353.9 52.2h0M350.9 69.5h0M354.4 79.6h0M386.7 53.6h0M381.9 47.3h0M388.7 36.3h0M386.4 40.0h0M380.0 73.2h0M345.1 71.7h0M378.3 56.1h0M377.5 72.0h0M379.6 53.9h0M393.6 65.1h0M389.0 58.1h0M345.8 72.6h0M388.2 47.3h0M359.1 52.6h0M391.1 37.0h0M385.5 62.9h0M357.4 71.5h0M391.5 41.0h0M383.6 56.8h0M392.7 60.6h0M392.8 66.7h0M343.8 66.4h0M377.7 49.7h0M390.5 39.9h0M366.9 52.3h0M345.7 63.1h0M354.7 64.6h0M348.1 78.8h0M356.7 58.0h0M372.7 50.1h0M359.0 52.4h0M375.8 72.8h0M350.5 54.7h0M352.1 59.5h0M366.4 52.8h0M385.1 44.8h0M375.5 46.1h0M352.7 76.9h0M348.2 67.3h0M382.2 60.5h0M345.9 73.9h0M382.7 72.2h0M373.4 78.6h0M392.9 52.5h0M387.4 66.3h0M376.0 48.7h0M354.7 75.7h0M362.5 54.1h0M352.8 80.3h0M360.2 56.7h0M380.5 70.4h0M388.6 38.9h0M378.1 56.0h0M390.5 37.6h0M368.6 52.1h0M363.4 54.4h0M379.7 58.0h0M393.0 54.0h0M386.7 64.7h0M385.8 50.7h0M391.5 61.5h0M392.3 41.6h0M381.6 60.7h0M387.5 52.3h0M375.5 70.5h0M377.8 48.6h0M390.6 58.4h0M343.5 71.7h0M380.6 46.7h0M386.2 61.7h0M356.0 54.8h0M386.3 40.1h0M388.1 38.1h0M392.8 57.1h0M385.7 62.6h0M355.9 68.8h0M386.8 43.5h0M351.8 55.9h0M382.4 42.2h0M390.0 41.9h0M385.6 57.3h0M362.3 55.3h0M378.4 50.2h0M347.3 77.1h0M342.8 66.2h0M383.2 64.1h0M350.0 79.9h0M366.6 52.2h0M346.5 62.0h0M388.6 57.3h0M354.1 75.6h0M390.0 44.4h0M377.7 79.6h0M392.8 46.7h0M381.1 43.3h0M357.8 67.7h0M387.1 49.7h0M349.4 79.8h0M351.9 72.3h0M377.2 45.0h0M390.3 63.1h0M354.9 65.0h0M349.5 68.0h0M383.1 64.3h0M348.1 58.1h0M393.2 49.4h0M357.0 54.6h0M386.4 45.5h0M387.9 59.9h0M353.1 69.6h0M378.0 48.9h0M384.6 46.4h0M392.7 46.7h0M362.4 53.5h0M390.1 41.3h0M393.5 58.8h0M388.8 67.0h0M350.5 64.2h0" stroke="#22a088" stroke-width="1.8" stroke-linecap="round" stroke-opacity="0.16" fill="none"/>
<path d="M400.7 50.5h0M420.0 67.2h0M397.9 54.4h0M397.1 58.5h0M415.6 51.9h0M405.1 42.4h0M404.9 50.5h0M426.9 51.9h0M407.6 65.2h0M407.0 57.7h0M407.9 46.8h0M418.6 50.3h0M416.2 68.1h0M414.0 55.3h0M406.8 67.1h0M406.2 50.2h0M403.7 67.2h0M414.0 71.8h0M407.5 53.3h0M415.7 52.1h0M412.8 62.2h0M418.1 70.6h0M408.0 44.6h0M414.6 69.9h0M409.6 54.6h0M427.5 59.5h0M418.6 65.9h0M413.2 55.6h0M423.7 64.6h0M421.4 57.0h0M397.0 59.7h0M422.2 53.0h0M409.8 49.2h0M411.9 57.1h0M420.6 54.5h0M403.0 51.9h0M416.2 63.8h0M399.9 53.2h0M423.5 49.1h0M413.3 52.5h0M400.3 56.4h0M401.6 50.1h0M398.0 62.3h0M419.0 57.9h0M398.4 49.1h0M403.8 55.2h0M405.0 54.2h0M424.9 66.7h0M403.6 41.9h0M406.2 67.6h0M413.8 60.2h0M400.3 55.3h0M425.9 52.4h0M421.7 67.9h0M409.3 57.7h0M399.7 56.5h0M422.1 52.0h0M404.7 54.7h0M401.9 53.4h0M409.6 59.1h0M402.0 66.6h0M397.6 64.3h0M402.8 66.4h0M405.8 63.6h0M406.0 44.4h0M417.3 47.9h0M416.1 68.8h0M396.4 54.9h0M407.6 64.3h0M404.8 46.8h0M411.5 42.8h0M422.9 57.8h0M408.1 51.8h0M413.3 51.4h0M402.9 47.8h0M425.0 47.6h0M426.1 53.8h0M423.2 49.0h0M406.4 69.3h0M400.9 69.5h0M423.8 52.3h0M421.1 53.3h0M421.3 58.7h0M404.4 63.0h0M401.5 59.0h0M418.5 63.9h0M424.8 47.0h0M404.8 64.9h0M398.0 56.4h0M411.0 49.6h0M415.2 50.3h0M411.8 65.9h0M423.2 62.5h0M424.7 47.6h0M397.5 44.6h0M397.2 62.7h0M413.8 42.8h0M416.6 42.6h0M419.4 70.0h0M416.4 60.2h0M404.7 57.0h0M404.8 50.7h0M401.6 65.0h0M400.2 53.8h0M399.1 54.8h0M409.9 69.6h0M407.9 44.0h0M406.9 54.8h0M425.2 58.3h0M399.3 60.1h0M409.4 46.7h0M410.2 54.7h0M404.9 52.3h0M401.0 63.5h0M403.9 47.2h0M409.0 41.9h0M426.8 55.7h0M409.9 44.7h0M397.9 63.2h0M401.2 42.4h0M419.2 69.5h0M402.0 67.1h0M409.8 67.6h0M408.5 59.5h0M412.7 71.7h0M421.5 57.2h0M397.4 61.5h0M409.1 42.8h0M420.7 56.8h0M416.8 64.6h0M414.4 41.5h0M423.3 64.4h0M399.7 53.8h0M403.3 50.0h0M413.5 56.0h0M399.9 43.8h0M410.4 62.6h0" stroke="#c8805c" stroke-width="1.8" stroke-linecap="round" stroke-opacity="0.18" fill="none"/>
<path d="M393.9 93.7h0M385.1 113.2h0M377.7 99.1h0M387.3 97.2h0M405.4 94.1h0M387.7 98.6h0M410.0 97.1h0M408.3 101.3h0M394.0 98.8h0M375.8 102.5h0M401.6 104.8h0M392.7 99.4h0M401.5 91.7h0M378.6 108.4h0M377.2 101.2h0M388.3 105.8h0M386.3 96.7h0M399.9 99.5h0M386.9 93.6h0M404.7 100.3h0M389.7 100.3h0M380.2 107.5h0M394.5 115.3h0M375.5 103.1h0M385.8 97.8h0M376.2 112.1h0M402.2 110.9h0M379.2 111.1h0M395.1 101.3h0M402.7 97.2h0M391.5 111.1h0M393.4 109.1h0M396.9 105.0h0M392.9 111.5h0M376.1 107.4h0M376.6 101.4h0M383.3 101.6h0M376.2 100.3h0M401.9 108.9h0M381.1 100.2h0M373.5 100.2h0M409.0 109.2h0M390.7 98.5h0M378.6 103.1h0M372.2 98.6h0M376.4 106.3h0M386.4 112.2h0M396.8 90.2h0M389.9 101.7h0M372.7 111.5h0M400.6 104.6h0M388.2 105.3h0M373.3 100.1h0M397.3 93.6h0M388.9 113.9h0M390.6 104.9h0M405.0 108.9h0M401.9 115.7h0M379.9 97.4h0M368.5 102.4h0M402.4 105.3h0M403.4 109.6h0M389.2 91.9h0M398.1 88.0h0M384.3 108.6h0M402.8 106.0h0M391.0 93.1h0M387.5 107.2h0M377.5 99.6h0M381.6 106.0h0M404.4 105.8h0M387.1 110.6h0M406.0 94.8h0M372.3 103.0h0M386.7 93.5h0M408.4 101.3h0M389.2 94.2h0M398.3 107.4h0M378.9 102.2h0M406.7 94.4h0M407.7 107.7h0M405.7 98.5h0M370.8 107.8h0M386.2 105.0h0M386.2 108.4h0M370.4 104.5h0M406.5 103.2h0M392.4 99.3h0M406.5 109.6h0M399.5 97.4h0M380.3 94.3h0M388.9 114.2h0M398.1 103.7h0M391.3 99.1h0M380.1 96.6h0M381.7 96.1h0M383.0 101.9h0M388.5 92.4h0M383.7 112.3h0M400.0 91.8h0M387.2 114.9h0M408.6 106.7h0M385.0 89.9h0M395.9 100.2h0M388.0 91.7h0M381.2 100.6h0M376.8 99.2h0M374.6 112.5h0M397.9 90.9h0M380.6 111.7h0M392.5 107.8h0M382.0 98.1h0M374.6 106.3h0M380.6 95.0h0M405.9 106.4h0M379.0 101.2h0M382.0 111.7h0M389.8 91.1h0M405.4 109.0h0M375.4 98.0h0M380.6 99.0h0M381.1 105.8h0M386.0 104.3h0M400.4 92.1h0M382.7 92.4h0M378.9 98.2h0" stroke="#6f93b8" stroke-width="1.8" stroke-linecap="round" stroke-opacity="0.18" fill="none"/>
<path d="M415.9 131.2h0M404.4 133.3h0M397.1 132.5h0M414.1 126.5h0M405.3 115.9h0M413.5 117.2h0M399.0 128.5h0M421.2 119.5h0M416.7 117.5h0M414.2 140.6h0M408.8 115.3h0M428.1 125.9h0M406.8 138.3h0M428.9 128.3h0M398.0 122.8h0M409.3 120.4h0M411.0 121.3h0M426.2 124.2h0M405.4 116.3h0M400.6 116.1h0M409.5 142.7h0M396.6 133.0h0M417.2 135.6h0M403.5 125.6h0M395.7 122.7h0M410.5 132.6h0M422.6 119.7h0M406.3 137.1h0M403.4 127.1h0M426.2 127.7h0M410.8 141.2h0M422.3 133.4h0M412.3 132.0h0M426.5 130.1h0M413.0 125.4h0M400.4 135.1h0M419.0 128.8h0M396.0 121.9h0M412.8 121.2h0M420.5 121.8h0M414.2 128.1h0M408.4 126.7h0M428.7 128.1h0M397.3 119.4h0M416.6 122.7h0M401.1 122.3h0M414.8 121.3h0M417.5 124.7h0M419.2 136.4h0M403.8 125.8h0M405.9 116.5h0M401.8 123.7h0M418.6 130.9h0M401.9 128.6h0M409.9 131.7h0M403.8 131.3h0M411.3 118.5h0M408.0 126.3h0M415.2 125.0h0M416.8 124.4h0M402.7 136.2h0M418.9 136.2h0M402.2 138.4h0M412.0 139.8h0M394.2 126.0h0M410.5 140.1h0M407.0 117.4h0M406.0 121.6h0M405.8 125.1h0M400.9 115.4h0M421.7 137.6h0M407.7 125.0h0M396.7 131.8h0M423.4 129.7h0M408.2 113.1h0M419.4 135.8h0M400.6 127.5h0M399.4 134.0h0M403.0 125.0h0M405.9 115.7h0M396.0 135.1h0M409.4 131.0h0M409.6 132.2h0M394.1 117.6h0M397.9 117.8h0M430.2 129.4h0M397.1 124.2h0M416.9 121.9h0M425.5 127.0h0M393.7 116.0h0M413.7 134.6h0M397.7 116.5h0M404.8 115.4h0M419.4 135.0h0M393.9 118.8h0M400.2 117.9h0M405.1 116.9h0M399.7 126.6h0M392.9 122.4h0M416.8 139.9h0M398.0 135.4h0M411.9 130.6h0M407.1 139.2h0M426.7 125.1h0M430.1 128.2h0M396.3 131.1h0M402.1 120.6h0" stroke="#c88aa0" stroke-width="1.8" stroke-linecap="round" stroke-opacity="0.2" fill="none"/>
<path d="M387.5 119.5h0M378.0 116.9h0M381.3 126.1h0M388.9 130.3h0M382.9 126.0h0M388.6 116.6h0M379.6 135.0h0M359.5 108.8h0M386.4 120.8h0M371.3 132.6h0M367.1 118.9h0M391.4 119.4h0M371.8 135.1h0M375.2 121.8h0M366.8 122.6h0M387.0 118.5h0M366.3 122.4h0M381.0 131.7h0M363.1 119.3h0M373.9 127.3h0M387.4 121.8h0M375.0 126.4h0M369.4 119.8h0M394.2 124.0h0M388.1 132.3h0M386.4 131.4h0M361.6 121.5h0M388.9 115.9h0M378.7 126.8h0M376.9 117.6h0M389.8 124.8h0M379.1 132.3h0M391.2 122.2h0M370.1 128.1h0M360.2 112.1h0M388.7 127.1h0M376.4 123.2h0M381.5 125.6h0M358.2 119.4h0M380.0 117.0h0M368.8 130.8h0M386.3 132.3h0M389.6 120.7h0M387.5 135.1h0M373.7 117.0h0M375.7 122.2h0M375.9 131.5h0M376.4 131.5h0M376.0 126.1h0M379.2 116.8h0M389.9 130.5h0M370.1 130.2h0M367.3 130.1h0M382.8 119.0h0M361.5 119.3h0M377.9 136.9h0M379.0 120.0h0M363.1 121.9h0M380.2 136.2h0M358.0 111.5h0M369.1 117.6h0M381.7 120.8h0M363.7 123.8h0M365.5 119.1h0M369.2 134.8h0M377.7 123.6h0M366.9 128.6h0M364.4 117.4h0M394.1 128.5h0M369.3 127.5h0M390.7 117.9h0M387.1 117.5h0M386.4 132.8h0M385.4 126.6h0M360.0 117.6h0M374.5 134.5h0M370.0 121.3h0M392.1 127.6h0M357.8 115.5h0M378.5 127.6h0M367.7 120.4h0M386.3 134.1h0M368.1 128.5h0M368.5 121.5h0M367.8 118.7h0M385.4 122.1h0M377.8 130.0h0M383.2 126.5h0M391.6 121.0h0M368.4 121.8h0M360.4 112.9h0M374.7 115.4h0M385.5 133.5h0M390.1 124.0h0" stroke="#86b040" stroke-width="1.8" stroke-linecap="round" stroke-opacity="0.2" fill="none"/>
<path d="M338.9 92.0h0M342.8 110.7h0M342.4 101.4h0M343.1 92.8h0M344.1 94.9h0M341.0 115.1h0M336.1 93.4h0M340.7 95.7h0M345.3 92.9h0M342.8 117.4h0M332.6 95.2h0M348.6 86.8h0M342.1 116.8h0M342.6 89.8h0M339.5 88.5h0M345.5 98.0h0M339.9 95.0h0M342.3 87.2h0M338.5 101.7h0M341.2 105.0h0M349.0 83.7h0M339.6 94.5h0M334.0 90.5h0M346.3 109.6h0M334.7 100.6h0M344.8 87.9h0M344.6 112.4h0M336.9 109.5h0M344.7 88.7h0M333.4 82.6h0M338.8 92.7h0M342.3 115.1h0M331.0 94.1h0M343.9 88.9h0M338.9 100.5h0M349.2 92.1h0M340.4 105.8h0M336.8 109.9h0M343.8 106.4h0M350.0 98.8h0M334.7 101.2h0M339.0 98.6h0M344.2 84.3h0M349.2 91.0h0M335.1 101.0h0M355.1 112.0h0M342.5 114.3h0M342.5 80.6h0M335.8 93.8h0M344.0 107.0h0M344.3 91.2h0M345.6 110.7h0M343.3 105.8h0M342.9 81.4h0M340.5 101.1h0M343.2 114.7h0M339.5 85.1h0M339.5 83.6h0M348.3 113.8h0M334.6 99.3h0M349.7 101.1h0M337.1 86.8h0M334.1 92.1h0M341.6 113.3h0M331.1 94.0h0M337.2 98.3h0" stroke="#d8d41c" stroke-width="1.8" stroke-linecap="round" stroke-opacity="0.2" fill="none"/>
<path d="M413.7 78.9h0M405.8 80.8h0M416.6 100.9h0M406.5 74.5h0M407.7 74.8h0M410.4 94.0h0M420.0 94.9h0M411.7 81.3h0M425.5 90.8h0M422.5 92.7h0M423.9 96.8h0M412.1 89.4h0M408.6 84.1h0M414.8 85.8h0M426.2 97.2h0M429.1 78.7h0M403.0 83.1h0M419.1 78.1h0M417.2 93.6h0M408.6 90.6h0M408.0 83.2h0M409.2 86.8h0M407.8 98.0h0M421.3 76.9h0M422.2 74.9h0M411.0 85.3h0M412.8 78.5h0M413.1 91.8h0M421.5 97.4h0M422.2 81.4h0M421.5 84.4h0M408.7 95.5h0M417.6 77.7h0M428.9 78.0h0M403.6 80.9h0M428.4 78.7h0M410.2 97.3h0M412.7 86.5h0M426.2 86.9h0M411.4 94.7h0M420.5 87.5h0M411.0 84.0h0M409.2 86.9h0M417.3 100.5h0M420.9 83.9h0M416.6 86.8h0M411.6 76.5h0M406.6 72.6h0M424.1 90.3h0M409.8 84.3h0M407.9 95.5h0M413.4 96.0h0M424.9 73.9h0M428.0 76.8h0M409.4 98.9h0M405.6 83.0h0M424.1 79.2h0M425.8 86.9h0M411.9 98.4h0M406.5 85.9h0M416.9 94.4h0M402.9 79.1h0M420.8 79.7h0M416.5 94.8h0M431.2 87.5h0M415.6 84.3h0M425.5 75.5h0M419.4 101.1h0M414.9 98.5h0M414.5 91.6h0M411.1 75.1h0M414.2 99.3h0M424.3 96.1h0M405.5 88.2h0M415.5 76.6h0M423.9 95.3h0M416.5 92.8h0M409.8 89.8h0M407.3 90.6h0M427.6 85.9h0M413.2 82.6h0M416.9 95.5h0M404.3 91.9h0M403.5 91.4h0M416.0 98.4h0M422.3 74.1h0M429.1 94.3h0M423.0 73.2h0M418.1 80.1h0M427.8 81.7h0M419.5 84.9h0M425.1 91.4h0M417.9 80.4h0M431.5 87.5h0M412.0 93.2h0M421.3 87.5h0" stroke="#c0aa98" stroke-width="1.8" stroke-linecap="round" stroke-opacity="0.2" fill="none"/>
<path d="M358.6 90.3h0M359.0 99.4h0M363.6 91.8h0M364.6 87.6h0M368.8 88.0h0M357.1 100.3h0M365.9 82.0h0M367.2 92.9h0M354.1 84.6h0M359.2 82.6h0M350.4 92.0h0M362.0 83.2h0M363.1 97.4h0M351.8 94.0h0M363.1 86.1h0M354.3 92.1h0M368.0 91.7h0M353.2 87.1h0M357.8 94.6h0M360.2 94.3h0M357.2 82.5h0M358.0 91.4h0M362.2 93.8h0M365.2 88.1h0M350.4 86.4h0M352.7 91.4h0M356.4 87.9h0M354.2 87.6h0M354.3 99.3h0M361.9 90.4h0M364.9 91.5h0M361.4 94.5h0M362.3 102.5h0M359.1 103.0h0M368.0 83.0h0M353.4 96.1h0M354.3 89.1h0M363.1 100.3h0M367.1 97.8h0M351.4 85.7h0M351.8 97.9h0M357.5 98.4h0M359.8 84.6h0M369.3 89.4h0M354.2 97.1h0M357.7 102.9h0M360.2 91.9h0M364.5 91.7h0M366.6 84.9h0M358.1 94.8h0M358.8 86.9h0M352.0 84.6h0M359.5 88.0h0M358.4 94.1h0M364.9 95.0h0M354.3 96.2h0M351.8 85.6h0M353.8 99.4h0M364.0 99.1h0M362.8 87.9h0M361.2 95.9h0" stroke="#9098a8" stroke-width="1.8" stroke-linecap="round" stroke-opacity="0.18" fill="none"/>
<path d="M382.4 90.3h0M400.4 84.9h0M377.7 92.8h0M398.0 81.0h0M369.4 98.4h0M373.7 90.1h0M380.7 85.3h0M376.1 91.2h0M393.4 88.6h0M379.4 83.9h0M392.4 84.3h0M378.9 93.7h0M382.9 83.6h0M374.6 90.6h0M371.1 88.2h0M399.3 82.6h0M396.0 81.8h0M382.8 84.0h0M400.0 84.0h0M399.8 85.7h0M393.4 83.1h0M382.4 82.7h0M373.0 97.6h0M376.7 93.1h0M383.9 83.6h0M372.1 90.9h0M395.2 79.0h0M376.5 87.7h0M370.2 97.6h0M384.6 84.3h0M377.8 82.9h0M378.5 85.6h0M374.5 86.5h0M397.7 83.3h0M372.6 91.7h0M393.9 85.3h0M396.6 87.2h0M378.5 88.1h0M380.6 83.0h0M399.5 80.4h0M383.2 86.4h0M400.3 86.7h0M380.4 93.8h0M385.1 85.3h0M375.1 86.9h0M395.8 81.1h0M378.4 88.2h0M396.3 80.9h0M377.0 88.8h0M370.7 94.7h0M372.4 91.1h0M381.2 91.7h0M381.5 84.9h0M392.3 81.2h0" stroke="#b01c28" stroke-width="1.8" stroke-linecap="round" stroke-opacity="0.32" fill="none"/>
<path d="M447.8 100.8h0M442.7 94.2h0M437.5 95.2h0M436.4 104.6h0M448.2 110.6h0M435.5 105.5h0M437.6 107.2h0M448.8 105.2h0M436.7 93.2h0M444.9 89.1h0M444.2 108.4h0M439.6 96.4h0M445.3 91.0h0M441.9 94.3h0M438.1 111.1h0M430.6 101.7h0M443.8 87.3h0M446.3 108.4h0M438.3 104.5h0M441.1 96.9h0M438.6 109.1h0M444.1 103.6h0M443.1 91.0h0M437.9 88.1h0M437.6 99.2h0M430.1 104.3h0M446.0 100.5h0M450.0 94.9h0M447.2 103.5h0M447.1 101.4h0M437.3 109.3h0M446.3 90.2h0M439.2 101.7h0M437.3 112.3h0M434.8 101.5h0M449.5 103.6h0M435.9 101.1h0M437.8 93.4h0M448.0 95.4h0M438.9 104.1h0M432.4 102.2h0M436.7 101.9h0M435.9 92.1h0M432.7 101.3h0M443.7 94.7h0M446.1 88.1h0M446.3 107.1h0M445.9 108.3h0M433.8 110.6h0M434.0 111.9h0M445.0 108.5h0M437.8 100.8h0M440.8 102.3h0M433.5 103.1h0M435.7 108.9h0" stroke="#1f63a5" stroke-width="1.8" stroke-linecap="round" stroke-opacity="0.3" fill="none"/>
<path d="M423.9 76.0h0M424.8 78.7h0M443.8 73.1h0M447.8 69.2h0M440.1 74.3h0M429.5 81.3h0M440.5 76.0h0M433.4 76.4h0M441.6 74.4h0M445.7 71.8h0M427.5 67.9h0M437.6 63.8h0M431.9 72.6h0M442.2 73.2h0M436.6 77.8h0M424.3 75.6h0M425.7 78.7h0M423.8 70.7h0M434.1 79.7h0M434.5 81.2h0M439.0 77.2h0M442.4 77.8h0M438.0 67.2h0M437.6 72.8h0M427.3 76.9h0M427.1 75.3h0M436.6 73.7h0M443.4 74.1h0M431.4 81.3h0M421.7 75.2h0M436.7 67.2h0M435.3 76.9h0M441.6 74.1h0M440.0 68.4h0M437.7 71.3h0M441.1 75.3h0M428.0 72.1h0M423.6 76.5h0M428.2 67.4h0M428.8 77.9h0M425.4 74.2h0M437.1 77.5h0M431.5 78.5h0M431.4 80.5h0M439.7 79.7h0M441.1 68.8h0M442.6 79.6h0M435.4 71.1h0M437.1 71.9h0M423.3 73.6h0M443.6 72.1h0M441.5 72.2h0M428.4 77.3h0M433.9 76.5h0M424.8 77.8h0M437.3 79.8h0M434.9 70.4h0M425.4 69.4h0M426.2 76.2h0M432.2 70.3h0M445.4 71.8h0M442.0 75.0h0M427.3 72.5h0M435.0 79.6h0M437.4 72.9h0M431.3 74.1h0M435.9 70.7h0M432.9 74.8h0M427.2 82.1h0M440.6 73.5h0M431.2 76.8h0M443.5 70.9h0M434.6 76.2h0" stroke="#3a9a50" stroke-width="1.8" stroke-linecap="round" stroke-opacity="0.2" fill="none"/>
<path d="M366.0 62.4h0M364.7 74.7h0M367.1 69.0h0M364.2 66.1h0M368.2 64.1h0M366.9 73.4h0M365.9 62.6h0M366.7 71.2h0M365.1 61.3h0M365.1 72.8h0M370.3 62.9h0M376.8 58.9h0M364.4 61.1h0M360.9 70.0h0M372.0 56.5h0M373.8 58.0h0M373.0 63.1h0M367.5 66.5h0M367.8 61.4h0M367.6 59.3h0M360.2 74.8h0M370.1 59.0h0M370.8 74.0h0M365.7 73.4h0M373.6 62.8h0M362.8 74.4h0M363.9 66.2h0M361.6 76.9h0" stroke="#7a3090" stroke-width="1.8" stroke-linecap="round" stroke-opacity="0.22" fill="none"/>
<path d="M388.5 75.1h0M385.6 67.9h0M390.3 69.0h0M382.2 65.2h0M391.7 73.7h0M388.4 75.5h0M389.3 72.3h0M386.6 74.9h0M393.8 72.5h0M392.4 57.1h0M392.7 70.3h0M394.6 72.5h0" stroke="#e6862e" stroke-width="1.8" stroke-linecap="round" stroke-opacity="0.35" fill="none"/>
<path d="M421.6 112.2h0M428.2 118.0h0M426.5 118.1h0M427.3 111.2h0M425.5 109.5h0M439.3 129.6h0M429.5 110.2h0M422.6 111.6h0M426.7 110.8h0M425.6 109.6h0M426.2 112.9h0M427.7 118.9h0M441.3 122.1h0M425.6 114.9h0M430.7 115.5h0M427.9 117.3h0M428.1 111.0h0M430.6 111.1h0M425.8 108.8h0" stroke="#e8dc10" stroke-width="1.8" stroke-linecap="round" stroke-opacity="0.35" fill="none"/>
<path d="M386.6 147.4h0M389.2 148.6h0M386.0 147.2h0M387.2 147.7h0M387.6 148.3h0M388.6 148.6h0M386.9 147.1h0M385.7 146.6h0M392.5 150.2h0M383.5 145.4h0" stroke="#8a4a18" stroke-width="1.8" stroke-linecap="round" stroke-opacity="0.33" fill="none"/>
<path d="M373.9 49.4h0M347.7 73.1h0M376.7 80.9h0M353.8 55.2h0M382.8 39.9h0M351.3 58.2h0M356.0 69.8h0M392.9 42.8h0M354.1 70.1h0M382.0 79.1h0M372.8 53.3h0M380.2 72.9h0M372.6 75.7h0M374.7 74.0h0M348.3 67.8h0M384.6 65.0h0M387.8 37.9h0M382.9 79.2h0M352.6 58.7h0M386.4 64.6h0M383.9 63.3h0M350.3 56.4h0M385.1 54.2h0M343.4 74.3h0M343.3 73.3h0M381.5 46.6h0M353.3 62.2h0M370.8 42.9h0M390.4 64.1h0M383.3 50.5h0M369.3 50.1h0M361.3 51.1h0M352.9 62.2h0M381.2 50.7h0M389.4 57.4h0M388.6 67.2h0M376.2 50.4h0M356.9 59.3h0M389.6 41.7h0M379.6 45.1h0M381.5 48.3h0M345.5 73.6h0M371.8 78.2h0M378.1 52.0h0M350.7 77.7h0M378.1 54.0h0M372.9 47.4h0M394.9 54.8h0M384.6 43.4h0M385.6 36.6h0M343.8 63.7h0M351.5 62.2h0M349.0 71.7h0M355.0 66.7h0M354.3 54.3h0M378.3 71.6h0M377.8 77.6h0M348.6 74.0h0M373.2 75.1h0M371.6 47.8h0M372.3 75.6h0M352.7 62.3h0M354.4 69.7h0M349.9 72.6h0M357.5 60.5h0M380.7 54.4h0M392.4 42.5h0M393.2 50.6h0M352.7 56.4h0M376.6 43.7h0M380.0 69.4h0M388.3 42.8h0M346.5 62.7h0M388.2 63.0h0M386.3 47.0h0M346.3 74.3h0M347.2 76.8h0M385.1 49.4h0M368.2 56.2h0M343.9 72.9h0M362.8 50.3h0M354.2 75.1h0M380.8 73.6h0M357.7 70.0h0M366.4 48.7h0M377.3 82.8h0M377.1 43.3h0M355.0 61.4h0M356.4 74.0h0M369.1 52.6h0M390.2 55.3h0M351.9 74.8h0M383.3 57.6h0M392.6 58.2h0M380.1 52.7h0M390.4 48.1h0M372.8 50.1h0M372.6 50.4h0M350.6 76.7h0M391.6 53.6h0M385.3 57.1h0M390.1 38.9h0M380.7 77.3h0M351.2 65.1h0M362.2 51.1h0M392.9 52.0h0M381.4 49.1h0M350.4 59.3h0M390.5 60.4h0M355.6 69.7h0M378.4 57.4h0M357.2 54.4h0M392.4 47.1h0M349.0 71.0h0M350.7 72.8h0M355.1 69.6h0M372.1 52.1h0M391.4 57.0h0M375.6 80.1h0M358.5 53.6h0M353.7 62.9h0M356.8 65.8h0M383.5 46.7h0M391.4 41.9h0M381.8 52.7h0M355.4 55.6h0M386.6 41.8h0M385.9 44.0h0M349.3 66.6h0M348.6 75.6h0M363.6 51.5h0M359.3 57.3h0M367.4 52.3h0M348.8 58.0h0M388.1 57.6h0M388.5 63.7h0M343.3 71.0h0M374.4 46.7h0M348.3 73.2h0M349.1 63.8h0M375.4 47.0h0M378.6 49.5h0M391.1 41.8h0M373.9 73.0h0M384.9 41.4h0M380.4 71.2h0M346.4 68.0h0M353.6 77.2h0M386.6 44.0h0M342.3 66.4h0M346.7 65.4h0M364.4 51.5h0M351.1 55.9h0M380.0 72.4h0M364.1 54.4h0M354.8 77.4h0M356.2 76.6h0" stroke="#22a088" stroke-width="1.8" stroke-linecap="round" stroke-opacity="0.16" fill="none"/>
<path d="M415.2 59.2h0M424.6 63.4h0M410.9 46.9h0M424.0 62.9h0M406.4 69.4h0M423.5 64.9h0M411.1 64.9h0M416.7 67.1h0M406.5 46.7h0M417.7 61.8h0M420.8 48.1h0M415.7 67.8h0M411.3 53.8h0M401.2 44.1h0M399.5 44.9h0M396.8 63.0h0M411.5 68.6h0M419.6 44.7h0M403.5 70.7h0M418.4 53.3h0M423.2 58.4h0M401.2 42.2h0M422.0 64.2h0M410.0 44.2h0M408.0 42.1h0M417.3 61.3h0M406.3 54.2h0M415.3 45.5h0M422.4 63.2h0M412.8 47.8h0M410.5 52.2h0M417.2 64.0h0M401.6 62.1h0M418.3 60.2h0M406.3 49.7h0M410.3 58.8h0M402.3 47.4h0M420.1 42.9h0M412.3 44.5h0M414.0 50.5h0M413.4 46.4h0M418.6 54.6h0M418.2 57.1h0M419.1 50.9h0M409.1 58.4h0M424.6 54.4h0M413.8 53.4h0M406.1 51.3h0M420.2 65.2h0M427.9 59.2h0M406.6 62.9h0M421.1 65.6h0M409.6 61.2h0M403.9 69.1h0M401.8 59.3h0M426.1 58.7h0M419.6 52.8h0M410.4 68.8h0M419.9 55.7h0M418.6 52.6h0M408.4 42.4h0M424.7 60.7h0M416.1 69.3h0M409.8 58.0h0M403.4 62.8h0M417.1 62.3h0M415.7 68.2h0M418.0 44.6h0M403.4 64.3h0M406.5 65.5h0M409.2 71.1h0M422.1 56.7h0M409.8 67.3h0M404.4 61.3h0M427.0 50.6h0M407.3 45.5h0M407.5 44.5h0M404.1 44.6h0M412.0 72.0h0M416.2 54.8h0M418.2 58.8h0M400.4 56.7h0M425.0 48.1h0M413.2 67.8h0M414.2 58.9h0M424.5 45.8h0M425.0 65.0h0M423.6 46.1h0M417.3 43.9h0M406.1 53.2h0M410.6 56.3h0M403.3 48.2h0M421.2 55.0h0M402.5 51.9h0M406.5 66.0h0M406.5 53.6h0M419.2 55.4h0M423.4 47.7h0M419.2 65.4h0M414.6 69.1h0M397.7 56.2h0M403.4 62.8h0M414.1 68.9h0M398.0 49.2h0M417.2 47.6h0M416.5 46.6h0M425.0 64.1h0M405.5 70.5h0M421.5 57.3h0M396.7 56.3h0M413.6 48.8h0M411.9 48.9h0M400.1 46.8h0M421.7 69.4h0M396.2 48.5h0M395.9 45.9h0M413.2 52.2h0M419.9 67.6h0M415.0 61.5h0M397.8 49.8h0M419.9 63.3h0M422.2 53.4h0M406.7 42.6h0M408.3 45.9h0M424.5 64.4h0M399.5 58.3h0M423.8 47.6h0" stroke="#c8805c" stroke-width="1.8" stroke-linecap="round" stroke-opacity="0.18" fill="none"/>
<path d="M406.1 95.0h0M386.7 109.7h0M383.0 94.6h0M381.1 114.4h0M388.2 94.0h0M381.1 96.7h0M404.1 93.7h0M389.2 114.5h0M391.2 97.1h0M406.1 98.0h0M383.8 94.9h0M411.3 98.6h0M389.1 101.9h0M387.7 98.6h0M384.3 109.6h0M369.2 102.5h0M390.9 95.4h0M406.4 105.9h0M390.7 102.1h0M397.1 101.1h0M404.0 110.6h0M377.9 102.4h0M380.5 101.1h0M393.5 113.9h0M396.2 106.5h0M396.4 107.0h0M379.6 110.0h0M409.7 97.0h0M403.8 96.9h0M384.7 110.8h0M395.7 112.9h0M401.5 97.5h0M402.1 106.4h0M379.8 111.9h0M381.0 102.6h0M385.2 103.7h0M382.0 90.9h0M397.4 113.1h0M396.1 99.4h0M378.0 107.0h0M369.0 100.8h0M393.5 103.7h0M376.9 106.7h0M384.0 110.1h0M407.5 102.8h0M398.6 112.4h0M396.8 90.9h0M406.6 94.9h0M404.4 93.3h0M410.3 98.2h0M386.3 102.5h0M371.2 106.8h0M399.3 110.1h0M377.7 106.3h0M370.5 100.3h0M379.6 97.6h0M388.4 101.9h0M380.9 113.5h0M396.8 91.8h0M379.6 95.8h0M391.4 99.5h0M382.4 111.1h0M388.7 97.8h0M403.2 107.1h0M401.5 98.8h0M404.5 98.6h0M379.2 108.3h0M390.1 115.5h0M403.5 103.7h0M388.4 100.8h0M403.6 99.5h0M386.4 115.4h0M391.9 90.0h0M391.4 96.2h0M404.2 110.2h0M386.7 99.6h0M399.4 96.9h0M399.3 91.1h0M375.0 111.2h0M378.0 100.0h0M376.3 102.3h0M387.2 99.2h0M400.3 96.7h0M386.1 107.4h0M397.3 87.0h0M388.2 93.8h0M406.1 104.1h0M387.1 114.2h0M397.6 95.5h0M385.2 94.9h0M403.9 96.9h0M408.7 91.3h0M392.7 114.6h0M403.2 102.7h0M375.9 97.2h0M408.1 106.4h0M389.3 115.1h0M387.4 106.1h0M387.2 92.9h0M386.3 94.7h0M383.6 92.8h0M391.6 110.0h0M404.9 92.4h0M406.3 104.2h0M404.4 91.8h0M401.7 104.3h0M390.8 88.7h0M406.9 111.2h0M386.4 99.0h0M370.8 109.6h0M401.9 92.8h0M398.6 97.4h0M393.8 94.6h0M389.5 101.3h0M378.4 102.8h0M398.5 97.2h0M385.0 93.4h0M401.4 89.7h0M380.9 104.0h0M377.2 104.6h0M401.5 105.6h0M390.6 99.4h0M409.4 107.9h0M384.1 104.3h0M386.7 106.9h0M408.1 103.2h0M394.8 97.2h0M388.1 103.7h0M382.9 114.2h0M391.9 108.2h0M374.3 98.5h0M389.0 97.4h0M376.9 112.0h0M374.2 112.1h0M383.4 104.7h0M387.0 106.0h0M383.5 109.9h0M403.8 109.0h0M405.6 107.4h0M401.2 96.6h0M407.1 98.7h0M399.0 96.4h0M405.8 110.7h0" stroke="#6f93b8" stroke-width="1.8" stroke-linecap="round" stroke-opacity="0.18" fill="none"/>
<path d="M405.8 129.4h0M402.8 115.6h0M410.1 135.8h0M409.0 140.5h0M413.2 129.2h0M411.4 130.8h0M407.1 131.2h0M421.3 127.1h0M417.8 132.5h0M405.1 132.5h0M394.5 132.0h0M416.2 129.5h0M410.3 141.5h0M413.4 117.2h0M414.7 138.1h0M408.2 116.7h0M404.8 125.1h0M417.0 122.0h0M412.8 138.8h0M415.3 131.8h0M414.2 128.6h0M411.1 130.7h0M422.2 121.1h0M415.3 131.8h0M401.8 119.4h0M399.0 133.7h0M407.4 138.5h0M428.9 125.6h0M395.0 121.4h0M408.5 135.8h0M405.9 136.2h0M401.6 128.3h0M423.3 121.8h0M422.3 120.4h0M409.2 120.1h0M403.5 135.4h0M410.8 120.9h0M398.8 134.0h0M400.7 124.8h0M405.1 129.5h0M422.1 120.3h0M396.9 128.9h0M422.8 119.7h0M408.0 128.3h0M410.9 139.9h0M402.2 127.7h0M399.0 126.9h0M405.0 116.7h0M407.7 134.3h0M416.6 122.4h0M395.8 124.0h0M405.6 134.3h0M413.9 122.6h0M417.6 123.4h0M411.6 121.2h0M417.2 121.1h0M399.8 119.5h0M408.9 138.3h0M396.3 130.5h0M404.7 133.5h0M407.2 121.9h0M408.7 123.4h0M419.7 132.8h0M400.3 134.0h0M407.8 127.6h0M399.0 122.6h0M409.9 119.2h0M411.8 117.9h0M407.8 126.9h0M395.0 131.3h0M410.7 116.1h0M419.0 123.8h0M404.4 118.4h0M416.8 137.2h0M427.8 127.8h0M420.2 125.9h0M417.6 123.8h0M397.4 120.9h0M411.3 141.9h0M394.4 127.3h0M414.4 139.2h0M408.3 115.4h0M406.9 130.7h0M413.0 121.5h0M414.5 139.5h0M399.7 121.3h0M404.9 133.0h0M419.2 122.2h0M402.3 131.3h0M421.1 125.2h0M418.8 120.6h0M400.6 138.0h0M422.1 133.8h0M409.1 125.4h0M407.2 133.6h0M399.2 121.1h0M409.9 119.0h0M411.7 124.8h0M409.8 131.6h0M425.2 129.0h0M427.8 127.5h0M420.6 121.4h0M413.1 118.2h0M405.3 129.0h0M396.5 124.8h0M421.3 128.4h0M402.7 140.0h0M419.5 121.8h0M408.3 133.8h0M407.0 125.4h0" stroke="#c88aa0" stroke-width="1.8" stroke-linecap="round" stroke-opacity="0.2" fill="none"/>
<path d="M375.9 116.4h0M375.8 126.4h0M361.1 116.3h0M367.9 114.2h0M385.8 123.5h0M370.4 127.3h0M371.7 129.9h0M378.5 126.8h0M363.1 111.6h0M392.6 127.4h0M388.0 121.1h0M393.4 125.5h0M389.0 130.6h0M382.5 124.7h0M386.8 129.8h0M364.3 120.4h0M388.4 132.4h0M377.0 128.3h0M383.3 137.0h0M372.9 136.0h0M392.3 125.2h0M388.0 124.3h0M367.1 116.6h0M382.5 122.9h0M387.1 122.6h0M362.3 113.7h0M381.0 130.2h0M381.7 132.0h0M377.8 124.2h0M382.9 130.2h0M383.8 134.0h0M360.7 111.6h0M378.7 123.1h0M382.9 131.4h0M379.4 115.5h0M381.1 134.1h0M377.4 117.4h0M375.6 128.6h0M376.1 127.3h0M380.3 125.9h0M378.4 130.2h0M375.4 136.4h0M382.8 125.7h0M361.8 111.9h0M383.4 133.0h0M361.8 113.0h0M388.8 128.1h0M376.1 119.3h0M383.7 122.9h0M390.8 120.7h0M372.6 126.3h0M385.3 131.6h0M377.5 133.1h0M387.9 125.6h0M389.6 126.7h0M372.9 118.6h0M373.4 128.7h0M386.8 129.6h0M372.8 125.7h0M374.5 117.7h0M371.6 118.1h0M382.4 132.1h0M360.6 110.4h0M390.6 122.7h0M360.1 114.4h0M378.6 133.2h0M393.3 128.7h0M375.5 115.1h0M361.4 123.8h0M380.5 132.8h0M375.1 125.7h0M368.5 112.9h0M357.2 111.7h0M384.6 136.7h0M391.9 121.9h0M373.6 129.7h0M374.2 119.3h0M379.0 125.5h0M376.9 134.4h0M363.4 113.3h0M385.8 122.7h0M380.1 130.9h0M381.9 129.8h0M368.1 115.8h0M393.6 122.2h0M385.7 135.5h0M386.8 133.1h0M373.8 121.7h0M367.5 123.1h0M388.2 130.7h0M360.4 116.9h0M358.6 120.6h0M375.8 132.8h0M381.1 128.9h0M390.3 122.8h0M359.0 113.4h0M359.5 118.9h0M376.2 129.5h0M386.8 134.5h0" stroke="#86b040" stroke-width="1.8" stroke-linecap="round" stroke-opacity="0.2" fill="none"/>
<path d="M344.3 104.7h0M336.3 79.4h0M344.7 87.1h0M336.2 85.1h0M333.4 101.0h0M336.4 88.2h0M339.9 101.7h0M336.4 81.4h0M338.9 80.7h0M347.4 106.4h0M335.6 96.0h0M338.7 82.3h0M332.7 100.9h0M343.0 115.1h0M333.8 84.6h0M347.7 111.2h0M343.1 98.6h0M335.3 89.2h0M333.8 100.6h0M343.1 82.6h0M338.1 94.3h0M339.7 102.3h0M340.9 104.2h0M342.9 86.8h0M345.1 89.2h0M345.7 80.7h0M331.8 91.2h0M349.1 103.3h0M348.0 111.6h0M342.2 89.6h0M339.2 78.3h0M335.9 105.7h0M348.3 113.5h0M335.6 79.7h0M344.6 113.2h0M343.0 90.0h0M341.7 107.7h0M346.7 111.0h0M355.6 113.2h0M332.7 99.6h0M348.1 114.8h0M346.1 95.0h0M345.0 94.6h0M333.5 99.4h0M348.9 108.2h0M340.3 105.7h0M336.1 112.9h0M342.3 92.2h0M331.2 83.8h0M349.8 90.5h0M343.4 89.2h0M347.7 102.0h0M350.0 99.5h0M342.6 80.1h0M349.9 92.0h0M345.6 85.1h0M346.3 101.6h0M340.5 84.2h0M334.2 85.9h0M347.8 110.1h0M339.7 81.0h0M339.9 96.2h0M332.6 83.3h0" stroke="#d8d41c" stroke-width="1.8" stroke-linecap="round" stroke-opacity="0.2" fill="none"/>
<path d="M404.7 76.7h0M425.3 81.2h0M423.4 99.5h0M428.7 90.7h0M425.1 73.0h0M423.4 75.7h0M413.3 75.2h0M406.7 95.0h0M417.9 76.3h0M422.8 74.0h0M405.2 95.9h0M421.8 98.1h0M415.5 80.0h0M418.2 81.2h0M417.1 81.7h0M410.0 84.5h0M417.4 98.5h0M402.6 73.9h0M428.0 92.4h0M417.9 73.5h0M427.9 92.9h0M423.9 75.1h0M427.0 81.3h0M420.7 71.4h0M411.9 91.4h0M427.6 81.7h0M431.9 90.4h0M427.9 79.7h0M405.0 80.3h0M415.5 91.5h0M421.4 80.8h0M419.6 90.4h0M406.3 90.8h0M404.8 78.8h0M417.2 99.7h0M423.3 85.4h0M423.4 94.8h0M410.0 87.4h0M422.8 76.1h0M402.4 81.2h0M411.7 94.9h0M407.3 73.5h0M414.3 86.6h0M406.4 72.8h0M415.2 77.7h0M420.8 73.1h0M427.2 92.5h0M409.6 73.8h0M416.4 75.5h0M420.7 86.9h0M419.0 100.8h0M413.2 98.3h0M414.2 77.0h0M426.9 94.7h0M414.3 98.2h0M407.0 71.6h0M426.3 92.5h0M402.0 80.4h0M416.3 86.4h0M422.8 86.3h0M418.9 87.5h0M415.3 88.6h0M414.7 97.3h0M402.7 74.3h0M417.3 86.5h0M404.3 92.5h0M409.3 82.8h0M422.1 87.8h0M413.7 85.1h0M413.3 80.7h0M417.3 77.9h0M419.1 79.3h0M409.7 99.3h0M403.9 74.4h0M420.8 71.8h0M411.7 91.6h0M415.9 98.1h0M420.0 99.6h0M426.3 100.1h0M414.6 85.0h0M406.3 81.6h0M419.6 81.1h0M410.9 81.3h0M419.4 82.4h0M419.1 85.6h0M424.0 84.8h0M407.5 72.5h0M416.8 73.0h0M407.9 80.1h0M407.2 72.6h0M412.8 74.8h0M417.9 97.0h0M421.5 82.9h0M421.4 70.3h0M414.4 76.7h0M418.1 92.0h0M408.2 76.0h0M417.1 93.6h0M416.6 96.6h0M418.3 93.2h0M425.7 82.5h0M421.9 73.9h0M422.4 77.1h0M426.9 87.2h0M419.9 70.7h0M420.6 92.7h0M409.4 99.7h0M424.7 99.4h0M418.2 88.6h0M422.6 89.8h0M417.9 76.6h0M405.8 79.4h0M425.2 85.0h0M408.1 77.9h0M422.9 74.7h0M430.5 80.8h0M423.4 90.5h0M424.8 96.3h0M419.9 94.7h0M408.8 86.1h0M405.7 73.3h0" stroke="#c0aa98" stroke-width="1.8" stroke-linecap="round" stroke-opacity="0.2" fill="none"/>
<path d="M356.2 88.9h0M362.4 99.3h0M370.0 86.0h0M367.4 101.3h0M358.8 103.5h0M361.6 86.3h0M358.6 81.4h0M353.0 91.0h0M359.6 85.7h0M365.3 85.6h0M361.9 89.8h0M356.5 99.7h0M362.6 89.8h0M355.4 99.0h0M364.8 89.3h0M361.4 99.7h0M363.9 88.9h0M367.5 99.6h0M362.3 101.5h0M365.0 90.4h0M364.2 86.4h0M359.2 97.6h0M358.2 93.0h0M359.6 100.9h0M351.0 95.5h0M356.6 82.3h0M356.4 84.2h0M355.6 98.7h0M355.7 94.2h0M361.7 85.3h0M368.0 85.8h0M360.7 82.4h0M352.4 94.4h0M360.6 82.0h0M358.1 97.2h0M356.6 102.2h0M358.1 83.9h0M360.6 86.1h0M361.2 97.4h0M357.0 103.7h0M368.5 97.2h0M365.9 87.1h0M356.4 100.7h0M364.2 84.4h0M361.4 81.4h0M353.6 94.4h0M364.7 98.0h0M358.1 87.4h0M365.3 89.7h0" stroke="#9098a8" stroke-width="1.8" stroke-linecap="round" stroke-opacity="0.18" fill="none"/>
<path d="M378.3 87.2h0M399.0 84.9h0M399.7 86.5h0M392.2 86.0h0M370.1 94.0h0M377.8 94.3h0M377.2 92.7h0M370.4 97.9h0M381.5 92.0h0M378.3 83.6h0M398.3 78.5h0M369.6 93.6h0M394.6 83.4h0M382.2 84.3h0M393.0 82.6h0M385.5 85.5h0M385.0 86.0h0M380.2 93.9h0M379.8 89.6h0M375.7 94.9h0M383.1 84.3h0M371.9 93.7h0M382.6 89.9h0M381.4 90.3h0M374.5 97.9h0M377.3 89.4h0M398.7 79.8h0M373.3 92.1h0M399.3 82.0h0M379.7 86.3h0M382.6 88.7h0M369.7 95.5h0M373.4 93.4h0M393.8 86.7h0M374.5 91.8h0M394.6 87.6h0M376.9 96.7h0M374.4 89.9h0M372.2 95.5h0M381.7 86.2h0M374.4 86.8h0M398.4 85.5h0M376.7 88.1h0" stroke="#b01c28" stroke-width="1.8" stroke-linecap="round" stroke-opacity="0.32" fill="none"/>
<path d="M448.8 89.1h0M446.5 105.2h0M445.8 110.9h0M442.5 95.5h0M449.0 110.5h0M438.5 111.8h0M445.9 91.8h0M445.6 87.9h0M449.6 108.3h0M444.9 92.3h0M446.2 101.7h0M441.1 112.0h0M442.8 106.4h0M433.0 103.9h0M437.8 90.1h0M429.0 104.2h0M437.2 95.0h0M448.8 106.6h0M437.3 89.9h0M438.0 99.4h0M444.0 107.0h0M439.1 111.1h0M435.8 110.9h0M437.4 103.1h0M439.7 93.1h0M449.9 96.9h0M437.5 111.0h0M444.0 90.7h0M432.5 103.5h0M441.8 109.4h0M442.3 94.3h0M436.2 106.4h0M434.7 102.5h0M443.0 111.2h0M448.4 104.9h0M443.6 103.6h0M437.0 110.6h0M442.7 109.9h0M429.5 105.1h0M436.1 101.1h0M441.7 89.7h0M439.6 112.5h0M429.7 106.6h0M434.1 103.8h0M442.8 99.4h0M431.8 98.6h0M449.0 117.9h0M446.6 99.7h0M446.1 105.3h0M438.8 93.9h0M433.8 101.8h0M444.8 101.6h0M439.6 104.4h0M449.3 106.7h0M445.4 111.6h0M448.6 95.6h0M435.3 112.1h0M438.1 103.3h0M446.4 113.0h0M438.0 97.7h0M443.1 113.7h0M438.0 101.0h0M443.1 100.6h0M438.8 93.9h0M434.8 110.5h0M443.4 91.7h0M438.2 110.0h0M437.7 93.1h0M440.2 107.0h0M439.5 94.7h0" stroke="#1f63a5" stroke-width="1.8" stroke-linecap="round" stroke-opacity="0.3" fill="none"/>
<path d="M428.4 74.4h0M429.8 68.6h0M434.0 77.5h0M440.3 70.9h0M430.1 78.3h0M435.5 82.0h0M437.0 81.4h0M433.5 66.2h0M440.1 71.5h0M439.7 77.4h0M442.5 70.8h0M422.8 68.8h0M433.6 70.6h0M424.2 73.9h0M441.3 74.9h0M436.0 74.1h0M434.5 70.2h0M439.1 74.6h0M428.0 77.7h0M434.7 69.2h0M434.2 72.7h0M444.1 71.9h0M437.5 68.0h0M433.0 73.0h0M429.0 73.5h0M441.4 72.4h0M441.4 69.4h0M432.1 73.6h0M441.2 75.4h0M430.1 71.7h0M433.9 58.3h0M434.6 69.8h0M440.6 69.8h0M435.1 79.7h0M436.9 76.3h0M439.3 78.7h0M440.6 72.4h0M422.7 74.8h0M430.3 68.1h0M426.8 66.4h0M436.5 74.9h0M423.6 76.5h0M431.0 81.6h0M435.9 77.6h0M435.9 72.3h0M425.5 78.3h0M440.2 69.0h0M427.8 80.3h0M440.9 76.3h0M421.7 72.3h0M439.0 67.7h0M437.8 77.8h0M425.6 75.7h0M431.6 73.6h0M426.6 69.7h0" stroke="#3a9a50" stroke-width="1.8" stroke-linecap="round" stroke-opacity="0.2" fill="none"/>
<path d="M368.8 59.8h0M362.3 68.4h0M369.1 73.7h0M371.5 72.8h0M364.4 63.6h0M367.6 68.3h0M374.4 58.8h0M365.9 64.7h0M370.3 66.2h0M360.4 75.7h0M369.8 63.8h0M365.8 68.3h0M367.0 59.0h0M363.0 70.5h0M370.1 72.2h0M373.3 66.5h0M374.5 61.3h0M366.4 70.8h0M370.6 61.2h0M370.8 68.0h0M361.7 67.8h0M365.3 68.8h0M372.1 64.8h0M365.5 70.7h0M361.0 66.8h0M370.3 76.5h0M362.8 72.7h0M369.6 59.9h0M368.8 58.5h0M369.3 73.7h0M364.2 70.5h0M364.7 63.4h0" stroke="#7a3090" stroke-width="1.8" stroke-linecap="round" stroke-opacity="0.22" fill="none"/>
<path d="M392.2 73.3h0M390.2 73.9h0M391.7 73.0h0M380.9 71.9h0M385.7 71.2h0M387.4 70.5h0M388.8 67.6h0M386.1 76.2h0M380.6 69.6h0M384.8 74.3h0M391.1 69.8h0M385.9 73.3h0M389.0 73.3h0M389.2 74.1h0M388.1 69.9h0M387.1 68.2h0M388.6 75.4h0M389.5 71.2h0M381.3 72.3h0M388.8 69.2h0M386.6 68.9h0" stroke="#e6862e" stroke-width="1.8" stroke-linecap="round" stroke-opacity="0.35" fill="none"/>
<path d="M424.2 104.9h0M425.3 109.1h0M424.5 117.5h0M428.2 117.4h0M423.7 116.8h0M425.4 114.5h0M429.4 116.7h0M423.0 110.5h0M423.7 109.9h0M426.3 110.1h0M431.0 116.2h0M427.2 114.1h0M431.0 115.3h0M440.4 128.1h0M428.3 113.2h0M431.4 118.4h0M429.8 115.2h0M426.8 114.4h0M426.9 113.0h0M425.4 113.6h0" stroke="#e8dc10" stroke-width="1.8" stroke-linecap="round" stroke-opacity="0.35" fill="none"/>
<path d="M381.5 144.8h0M392.7 150.4h0M388.7 148.5h0M392.4 150.4h0M389.1 148.6h0M391.7 149.9h0M389.9 149.4h0M382.5 145.5h0M385.7 146.9h0M391.3 149.6h0M383.5 146.1h0M387.0 147.3h0M394.0 151.0h0M385.2 146.8h0M395.2 151.7h0M392.6 150.5h0" stroke="#8a4a18" stroke-width="1.8" stroke-linecap="round" stroke-opacity="0.33" fill="none"/></g>
<rect x="43.5" y="30.2" width="131.5" height="128.3" fill="none" stroke="#222" stroke-width="1.1"/>
<line x1="40.5" y1="30.2" x2="43.5" y2="30.2" stroke="#222" stroke-width="1"/>
<text x="37.0" y="33.05" font-size="8.2" text-anchor="end" fill="#2b2b2b" stroke="#2b2b2b" stroke-width="0.12" textLength="8.68" lengthAdjust="spacingAndGlyphs">50</text>
<line x1="40.5" y1="60.3" x2="43.5" y2="60.3" stroke="#222" stroke-width="1"/>
<text x="37.0" y="63.15" font-size="8.2" text-anchor="end" fill="#2b2b2b" stroke="#2b2b2b" stroke-width="0.12" textLength="8.68" lengthAdjust="spacingAndGlyphs">25</text>
<line x1="40.5" y1="90.3" x2="43.5" y2="90.3" stroke="#222" stroke-width="1"/>
<text x="37.0" y="93.14999999999999" font-size="8.2" text-anchor="end" fill="#2b2b2b" stroke="#2b2b2b" stroke-width="0.12" textLength="4.34" lengthAdjust="spacingAndGlyphs">0</text>
<line x1="40.5" y1="120.3" x2="43.5" y2="120.3" stroke="#222" stroke-width="1"/>
<text x="37.0" y="123.14999999999999" font-size="8.2" text-anchor="end" fill="#2b2b2b" stroke="#2b2b2b" stroke-width="0.12" textLength="13.23" lengthAdjust="spacingAndGlyphs">−25</text>
<line x1="40.5" y1="150.4" x2="43.5" y2="150.4" stroke="#222" stroke-width="1"/>
<text x="37.0" y="153.25" font-size="8.2" text-anchor="end" fill="#2b2b2b" stroke="#2b2b2b" stroke-width="0.12" textLength="13.23" lengthAdjust="spacingAndGlyphs">−50</text>
<line x1="45.4" y1="158.5" x2="45.4" y2="161.5" stroke="#222" stroke-width="1"/>
<text x="45.4" y="171.9" font-size="8.2" text-anchor="middle" fill="#2b2b2b" stroke="#2b2b2b" stroke-width="0.12" textLength="13.23" lengthAdjust="spacingAndGlyphs">−50</text>
<line x1="77.9" y1="158.5" x2="77.9" y2="161.5" stroke="#222" stroke-width="1"/>
<text x="77.9" y="171.9" font-size="8.2" text-anchor="middle" fill="#2b2b2b" stroke="#2b2b2b" stroke-width="0.12" textLength="13.23" lengthAdjust="spacingAndGlyphs">−25</text>
<line x1="110.4" y1="158.5" x2="110.4" y2="161.5" stroke="#222" stroke-width="1"/>
<text x="110.4" y="171.9" font-size="8.2" text-anchor="middle" fill="#2b2b2b" stroke="#2b2b2b" stroke-width="0.12" textLength="4.34" lengthAdjust="spacingAndGlyphs">0</text>
<line x1="142.9" y1="158.5" x2="142.9" y2="161.5" stroke="#222" stroke-width="1"/>
<text x="142.9" y="171.9" font-size="8.2" text-anchor="middle" fill="#2b2b2b" stroke="#2b2b2b" stroke-width="0.12" textLength="8.68" lengthAdjust="spacingAndGlyphs">25</text>
<text x="109.2" y="185.4" font-size="8.8" text-anchor="middle" fill="#2b2b2b" stroke="#2b2b2b" stroke-width="0.12" textLength="20.1" lengthAdjust="spacingAndGlyphs">tsne 1</text>
<text transform="translate(18.5,94.4) rotate(-90)" x="0" y="0" font-size="8.8" text-anchor="middle" fill="#2b2b2b" stroke="#2b2b2b" stroke-width="0.12" textLength="20.9" lengthAdjust="spacingAndGlyphs">tsne 2</text>
<text x="109.3" y="24.8" font-size="10" text-anchor="middle" fill="#222" stroke="#222" stroke-width="0.12">Merged samples</text>
<rect x="324.6" y="30.2" width="131.5" height="128.3" fill="none" stroke="#222" stroke-width="1.1"/>
<line x1="321.6" y1="30.2" x2="324.6" y2="30.2" stroke="#222" stroke-width="1"/>
<text x="318.1" y="33.05" font-size="8.2" text-anchor="end" fill="#2b2b2b" stroke="#2b2b2b" stroke-width="0.12" textLength="8.68" lengthAdjust="spacingAndGlyphs">50</text>
<line x1="321.6" y1="60.3" x2="324.6" y2="60.3" stroke="#222" stroke-width="1"/>
<text x="318.1" y="63.15" font-size="8.2" text-anchor="end" fill="#2b2b2b" stroke="#2b2b2b" stroke-width="0.12" textLength="8.68" lengthAdjust="spacingAndGlyphs">25</text>
<line x1="321.6" y1="90.3" x2="324.6" y2="90.3" stroke="#222" stroke-width="1"/>
<text x="318.1" y="93.14999999999999" font-size="8.2" text-anchor="end" fill="#2b2b2b" stroke="#2b2b2b" stroke-width="0.12" textLength="4.34" lengthAdjust="spacingAndGlyphs">0</text>
<line x1="321.6" y1="120.3" x2="324.6" y2="120.3" stroke="#222" stroke-width="1"/>
<text x="318.1" y="123.14999999999999" font-size="8.2" text-anchor="end" fill="#2b2b2b" stroke="#2b2b2b" stroke-width="0.12" textLength="13.23" lengthAdjust="spacingAndGlyphs">−25</text>
<line x1="321.6" y1="150.4" x2="324.6" y2="150.4" stroke="#222" stroke-width="1"/>
<text x="318.1" y="153.25" font-size="8.2" text-anchor="end" fill="#2b2b2b" stroke="#2b2b2b" stroke-width="0.12" textLength="13.23" lengthAdjust="spacingAndGlyphs">−50</text>
<line x1="326.5" y1="158.5" x2="326.5" y2="161.5" stroke="#222" stroke-width="1"/>
<text x="326.5" y="171.9" font-size="8.2" text-anchor="middle" fill="#2b2b2b" stroke="#2b2b2b" stroke-width="0.12" textLength="13.23" lengthAdjust="spacingAndGlyphs">−50</text>
<line x1="359.0" y1="158.5" x2="359.0" y2="161.5" stroke="#222" stroke-width="1"/>
<text x="359.0" y="171.9" font-size="8.2" text-anchor="middle" fill="#2b2b2b" stroke="#2b2b2b" stroke-width="0.12" textLength="13.23" lengthAdjust="spacingAndGlyphs">−25</text>
<line x1="391.5" y1="158.5" x2="391.5" y2="161.5" stroke="#222" stroke-width="1"/>
<text x="391.5" y="171.9" font-size="8.2" text-anchor="middle" fill="#2b2b2b" stroke="#2b2b2b" stroke-width="0.12" textLength="4.34" lengthAdjust="spacingAndGlyphs">0</text>
<line x1="424.0" y1="158.5" x2="424.0" y2="161.5" stroke="#222" stroke-width="1"/>
<text x="424.0" y="171.9" font-size="8.2" text-anchor="middle" fill="#2b2b2b" stroke="#2b2b2b" stroke-width="0.12" textLength="8.68" lengthAdjust="spacingAndGlyphs">25</text>
<text x="390.3" y="185.4" font-size="8.8" text-anchor="middle" fill="#2b2b2b" stroke="#2b2b2b" stroke-width="0.12" textLength="20.1" lengthAdjust="spacingAndGlyphs">tsne 1</text>
<text transform="translate(299.6,94.4) rotate(-90)" x="0" y="0" font-size="8.8" text-anchor="middle" fill="#2b2b2b" stroke="#2b2b2b" stroke-width="0.12" textLength="20.9" lengthAdjust="spacingAndGlyphs">tsne 2</text>
<text x="390.40000000000003" y="24.8" font-size="10" text-anchor="middle" fill="#222" stroke="#222" stroke-width="0.12">Clusters</text>
<circle cx="185.7" cy="63.20" r="2.4" fill="#1b9e77"/>
<text x="192.2" y="66.05" font-size="8.2" text-anchor="start" fill="#2b2b2b" stroke="#2b2b2b" stroke-width="0.12" textLength="59.45" lengthAdjust="spacingAndGlyphs">CAR D0 on day 3</text>
<circle cx="185.7" cy="75.58" r="2.4" fill="#ee7264"/>
<text x="192.2" y="78.42999999999999" font-size="8.2" text-anchor="start" fill="#2b2b2b" stroke="#2b2b2b" stroke-width="0.12" textLength="59.45" lengthAdjust="spacingAndGlyphs">CAR D0 on day 8</text>
<circle cx="185.7" cy="87.96" r="2.4" fill="#8b93c4"/>
<text x="192.2" y="90.81" font-size="8.2" text-anchor="start" fill="#2b2b2b" stroke="#2b2b2b" stroke-width="0.12" textLength="63.7" lengthAdjust="spacingAndGlyphs">CAR D0 on day 16</text>
<circle cx="185.7" cy="100.34" r="2.4" fill="#d78ab8"/>
<text x="192.2" y="103.19" font-size="8.2" text-anchor="start" fill="#2b2b2b" stroke="#2b2b2b" stroke-width="0.12" textLength="59.45" lengthAdjust="spacingAndGlyphs">CAR D5 on day 8</text>
<circle cx="185.7" cy="112.72" r="2.4" fill="#6aae36"/>
<text x="192.2" y="115.57" font-size="8.2" text-anchor="start" fill="#2b2b2b" stroke="#2b2b2b" stroke-width="0.12" textLength="63.7" lengthAdjust="spacingAndGlyphs">CAR D5 on day 13</text>
<circle cx="185.7" cy="125.10" r="2.4" fill="#ead019"/>
<text x="192.2" y="127.95" font-size="8.2" text-anchor="start" fill="#2b2b2b" stroke="#2b2b2b" stroke-width="0.12" textLength="63.7" lengthAdjust="spacingAndGlyphs">CAR D5 on day 21</text>
<circle cx="466.2" cy="31.00" r="1.8" fill="#1b8a68"/>
<text x="471.8" y="33.85" font-size="8.2" text-anchor="start" fill="#2b2b2b" stroke="#2b2b2b" stroke-width="0.12" textLength="4.0" lengthAdjust="spacingAndGlyphs">0</text>
<circle cx="466.2" cy="40.08" r="1.8" fill="#c8805c"/>
<text x="471.8" y="42.93" font-size="8.2" text-anchor="start" fill="#2b2b2b" stroke="#2b2b2b" stroke-width="0.12" textLength="4.0" lengthAdjust="spacingAndGlyphs">1</text>
<circle cx="466.2" cy="49.16" r="1.8" fill="#6f93b8"/>
<text x="471.8" y="52.01" font-size="8.2" text-anchor="start" fill="#2b2b2b" stroke="#2b2b2b" stroke-width="0.12" textLength="4.0" lengthAdjust="spacingAndGlyphs">2</text>
<circle cx="466.2" cy="58.24" r="1.8" fill="#c88aa0"/>
<text x="471.8" y="61.09" font-size="8.2" text-anchor="start" fill="#2b2b2b" stroke="#2b2b2b" stroke-width="0.12" textLength="4.0" lengthAdjust="spacingAndGlyphs">3</text>
<circle cx="466.2" cy="67.32" r="1.8" fill="#73a03a"/>
<text x="471.8" y="70.16999999999999" font-size="8.2" text-anchor="start" fill="#2b2b2b" stroke="#2b2b2b" stroke-width="0.12" textLength="4.0" lengthAdjust="spacingAndGlyphs">4</text>
<circle cx="466.2" cy="76.40" r="1.8" fill="#d8d41c"/>
<text x="471.8" y="79.25" font-size="8.2" text-anchor="start" fill="#2b2b2b" stroke="#2b2b2b" stroke-width="0.12" textLength="4.0" lengthAdjust="spacingAndGlyphs">5</text>
<circle cx="466.2" cy="85.48" r="1.8" fill="#c0aa98"/>
<text x="471.8" y="88.33" font-size="8.2" text-anchor="start" fill="#2b2b2b" stroke="#2b2b2b" stroke-width="0.12" textLength="4.0" lengthAdjust="spacingAndGlyphs">6</text>
<circle cx="466.2" cy="94.56" r="1.8" fill="#9098a8"/>
<text x="471.8" y="97.41" font-size="8.2" text-anchor="start" fill="#2b2b2b" stroke="#2b2b2b" stroke-width="0.12" textLength="4.0" lengthAdjust="spacingAndGlyphs">7</text>
<circle cx="466.2" cy="103.64" r="1.8" fill="#b01c28"/>
<text x="471.8" y="106.49" font-size="8.2" text-anchor="start" fill="#2b2b2b" stroke="#2b2b2b" stroke-width="0.12" textLength="4.0" lengthAdjust="spacingAndGlyphs">8</text>
<circle cx="466.2" cy="112.72" r="1.8" fill="#1f63a5"/>
<text x="471.8" y="115.57" font-size="8.2" text-anchor="start" fill="#2b2b2b" stroke="#2b2b2b" stroke-width="0.12" textLength="4.0" lengthAdjust="spacingAndGlyphs">9</text>
<circle cx="466.2" cy="121.80" r="1.8" fill="#1f7a40"/>
<text x="471.8" y="124.64999999999999" font-size="8.2" text-anchor="start" fill="#2b2b2b" stroke="#2b2b2b" stroke-width="0.12" textLength="8.01" lengthAdjust="spacingAndGlyphs">10</text>
<circle cx="466.2" cy="130.88" r="1.8" fill="#7a3090"/>
<text x="471.8" y="133.73" font-size="8.2" text-anchor="start" fill="#2b2b2b" stroke="#2b2b2b" stroke-width="0.12" textLength="7.47" lengthAdjust="spacingAndGlyphs">11</text>
<circle cx="466.2" cy="139.96" r="1.8" fill="#c8603a"/>
<text x="471.8" y="142.81" font-size="8.2" text-anchor="start" fill="#2b2b2b" stroke="#2b2b2b" stroke-width="0.12" textLength="8.01" lengthAdjust="spacingAndGlyphs">12</text>
<circle cx="466.2" cy="149.04" r="1.8" fill="#e8dc10"/>
<text x="471.8" y="151.89000000000001" font-size="8.2" text-anchor="start" fill="#2b2b2b" stroke="#2b2b2b" stroke-width="0.12" textLength="8.01" lengthAdjust="spacingAndGlyphs">13</text>
<circle cx="466.2" cy="158.12" r="1.8" fill="#8a4a18"/>
<text x="471.8" y="160.97" font-size="8.2" text-anchor="start" fill="#2b2b2b" stroke="#2b2b2b" stroke-width="0.12" textLength="8.01" lengthAdjust="spacingAndGlyphs">14</text>
<line x1="22.7" y1="220.5" x2="22.7" y2="359.2" stroke="#222" stroke-width="1.1"/>
<line x1="22.2" y1="358.7" x2="232.5" y2="358.7" stroke="#222" stroke-width="1.1"/>
<line x1="19.5" y1="223.2" x2="22.7" y2="223.2" stroke="#222" stroke-width="1"/>
<text x="15.7" y="226.04999999999998" font-size="8.2" text-anchor="end" fill="#2b2b2b" stroke="#2b2b2b" stroke-width="0.12" textLength="15.77" lengthAdjust="spacingAndGlyphs">1.00</text>
<line x1="19.5" y1="255.55" x2="22.7" y2="255.55" stroke="#222" stroke-width="1"/>
<text x="15.7" y="258.40000000000003" font-size="8.2" text-anchor="end" fill="#2b2b2b" stroke="#2b2b2b" stroke-width="0.12" textLength="15.77" lengthAdjust="spacingAndGlyphs">0.75</text>
<line x1="19.5" y1="287.9" x2="22.7" y2="287.9" stroke="#222" stroke-width="1"/>
<text x="15.7" y="290.75" font-size="8.2" text-anchor="end" fill="#2b2b2b" stroke="#2b2b2b" stroke-width="0.12" textLength="15.77" lengthAdjust="spacingAndGlyphs">0.50</text>
<line x1="19.5" y1="320.25" x2="22.7" y2="320.25" stroke="#222" stroke-width="1"/>
<text x="15.7" y="323.1" font-size="8.2" text-anchor="end" fill="#2b2b2b" stroke="#2b2b2b" stroke-width="0.12" textLength="15.77" lengthAdjust="spacingAndGlyphs">0.25</text>
<line x1="19.5" y1="352.6" x2="22.7" y2="352.6" stroke="#222" stroke-width="1"/>
<text x="15.7" y="355.45000000000005" font-size="8.2" text-anchor="end" fill="#2b2b2b" stroke="#2b2b2b" stroke-width="0.12" textLength="15.77" lengthAdjust="spacingAndGlyphs">0.00</text>
<line x1="30.9" y1="358.7" x2="30.9" y2="361.6" stroke="#222" stroke-width="1"/>
<text x="30.9" y="372.2" font-size="8.2" text-anchor="middle" fill="#2b2b2b" stroke="#2b2b2b" stroke-width="0.12" textLength="4.39" lengthAdjust="spacingAndGlyphs">0</text>
<line x1="44.71" y1="358.7" x2="44.71" y2="361.6" stroke="#222" stroke-width="1"/>
<text x="44.71" y="372.2" font-size="8.2" text-anchor="middle" fill="#2b2b2b" stroke="#2b2b2b" stroke-width="0.12" textLength="4.39" lengthAdjust="spacingAndGlyphs">8</text>
<line x1="58.519999999999996" y1="358.7" x2="58.519999999999996" y2="361.6" stroke="#222" stroke-width="1"/>
<text x="58.519999999999996" y="372.2" font-size="8.2" text-anchor="middle" fill="#2b2b2b" stroke="#2b2b2b" stroke-width="0.12" textLength="8.79" lengthAdjust="spacingAndGlyphs">10</text>
<line x1="72.33" y1="358.7" x2="72.33" y2="361.6" stroke="#222" stroke-width="1"/>
<text x="72.33" y="372.2" font-size="8.2" text-anchor="middle" fill="#2b2b2b" stroke="#2b2b2b" stroke-width="0.12" textLength="8.79" lengthAdjust="spacingAndGlyphs">12</text>
<line x1="86.14" y1="358.7" x2="86.14" y2="361.6" stroke="#222" stroke-width="1"/>
<text x="86.14" y="372.2" font-size="8.2" text-anchor="middle" fill="#2b2b2b" stroke="#2b2b2b" stroke-width="0.12" textLength="8.2" lengthAdjust="spacingAndGlyphs">11</text>
<line x1="99.94999999999999" y1="358.7" x2="99.94999999999999" y2="361.6" stroke="#222" stroke-width="1"/>
<text x="99.94999999999999" y="372.2" font-size="8.2" text-anchor="middle" fill="#2b2b2b" stroke="#2b2b2b" stroke-width="0.12" textLength="4.39" lengthAdjust="spacingAndGlyphs">9</text>
<line x1="113.75999999999999" y1="358.7" x2="113.75999999999999" y2="361.6" stroke="#222" stroke-width="1"/>
<text x="113.75999999999999" y="372.2" font-size="8.2" text-anchor="middle" fill="#2b2b2b" stroke="#2b2b2b" stroke-width="0.12" textLength="4.39" lengthAdjust="spacingAndGlyphs">6</text>
<line x1="127.57" y1="358.7" x2="127.57" y2="361.6" stroke="#222" stroke-width="1"/>
<text x="127.57" y="372.2" font-size="8.2" text-anchor="middle" fill="#2b2b2b" stroke="#2b2b2b" stroke-width="0.12" textLength="4.39" lengthAdjust="spacingAndGlyphs">5</text>
<line x1="141.38" y1="358.7" x2="141.38" y2="361.6" stroke="#222" stroke-width="1"/>
<text x="141.38" y="372.2" font-size="8.2" text-anchor="middle" fill="#2b2b2b" stroke="#2b2b2b" stroke-width="0.12" textLength="4.39" lengthAdjust="spacingAndGlyphs">2</text>
<line x1="155.19" y1="358.7" x2="155.19" y2="361.6" stroke="#222" stroke-width="1"/>
<text x="155.19" y="372.2" font-size="8.2" text-anchor="middle" fill="#2b2b2b" stroke="#2b2b2b" stroke-width="0.12" textLength="4.39" lengthAdjust="spacingAndGlyphs">7</text>
<line x1="169.0" y1="358.7" x2="169.0" y2="361.6" stroke="#222" stroke-width="1"/>
<text x="169.0" y="372.2" font-size="8.2" text-anchor="middle" fill="#2b2b2b" stroke="#2b2b2b" stroke-width="0.12" textLength="4.39" lengthAdjust="spacingAndGlyphs">1</text>
<line x1="182.81" y1="358.7" x2="182.81" y2="361.6" stroke="#222" stroke-width="1"/>
<text x="182.81" y="372.2" font-size="8.2" text-anchor="middle" fill="#2b2b2b" stroke="#2b2b2b" stroke-width="0.12" textLength="8.79" lengthAdjust="spacingAndGlyphs">13</text>
<line x1="196.62" y1="358.7" x2="196.62" y2="361.6" stroke="#222" stroke-width="1"/>
<text x="196.62" y="372.2" font-size="8.2" text-anchor="middle" fill="#2b2b2b" stroke="#2b2b2b" stroke-width="0.12" textLength="4.39" lengthAdjust="spacingAndGlyphs">3</text>
<line x1="210.43" y1="358.7" x2="210.43" y2="361.6" stroke="#222" stroke-width="1"/>
<text x="210.43" y="372.2" font-size="8.2" text-anchor="middle" fill="#2b2b2b" stroke="#2b2b2b" stroke-width="0.12" textLength="4.39" lengthAdjust="spacingAndGlyphs">4</text>
<line x1="224.24" y1="358.7" x2="224.24" y2="361.6" stroke="#222" stroke-width="1"/>
<text x="224.24" y="372.2" font-size="8.2" text-anchor="middle" fill="#2b2b2b" stroke="#2b2b2b" stroke-width="0.12" textLength="8.79" lengthAdjust="spacingAndGlyphs">14</text>
<line x1="284.5" y1="220.5" x2="284.5" y2="359.2" stroke="#222" stroke-width="1.1"/>
<line x1="284.0" y1="358.7" x2="494.5" y2="358.7" stroke="#222" stroke-width="1.1"/>
<line x1="281.3" y1="223.2" x2="284.5" y2="223.2" stroke="#222" stroke-width="1"/>
<text x="277.5" y="226.04999999999998" font-size="8.2" text-anchor="end" fill="#2b2b2b" stroke="#2b2b2b" stroke-width="0.12" textLength="15.77" lengthAdjust="spacingAndGlyphs">1.00</text>
<line x1="281.3" y1="255.55" x2="284.5" y2="255.55" stroke="#222" stroke-width="1"/>
<text x="277.5" y="258.40000000000003" font-size="8.2" text-anchor="end" fill="#2b2b2b" stroke="#2b2b2b" stroke-width="0.12" textLength="15.77" lengthAdjust="spacingAndGlyphs">0.75</text>
<line x1="281.3" y1="287.9" x2="284.5" y2="287.9" stroke="#222" stroke-width="1"/>
<text x="277.5" y="290.75" font-size="8.2" text-anchor="end" fill="#2b2b2b" stroke="#2b2b2b" stroke-width="0.12" textLength="15.77" lengthAdjust="spacingAndGlyphs">0.50</text>
<line x1="281.3" y1="320.25" x2="284.5" y2="320.25" stroke="#222" stroke-width="1"/>
<text x="277.5" y="323.1" font-size="8.2" text-anchor="end" fill="#2b2b2b" stroke="#2b2b2b" stroke-width="0.12" textLength="15.77" lengthAdjust="spacingAndGlyphs">0.25</text>
<line x1="281.3" y1="352.6" x2="284.5" y2="352.6" stroke="#222" stroke-width="1"/>
<text x="277.5" y="355.45000000000005" font-size="8.2" text-anchor="end" fill="#2b2b2b" stroke="#2b2b2b" stroke-width="0.12" textLength="15.77" lengthAdjust="spacingAndGlyphs">0.00</text>
<line x1="293.1" y1="358.7" x2="293.1" y2="361.6" stroke="#222" stroke-width="1"/>
<text x="293.1" y="372.2" font-size="8.2" text-anchor="middle" fill="#2b2b2b" stroke="#2b2b2b" stroke-width="0.12" textLength="4.39" lengthAdjust="spacingAndGlyphs">0</text>
<line x1="306.91" y1="358.7" x2="306.91" y2="361.6" stroke="#222" stroke-width="1"/>
<text x="306.91" y="372.2" font-size="8.2" text-anchor="middle" fill="#2b2b2b" stroke="#2b2b2b" stroke-width="0.12" textLength="4.39" lengthAdjust="spacingAndGlyphs">8</text>
<line x1="320.72" y1="358.7" x2="320.72" y2="361.6" stroke="#222" stroke-width="1"/>
<text x="320.72" y="372.2" font-size="8.2" text-anchor="middle" fill="#2b2b2b" stroke="#2b2b2b" stroke-width="0.12" textLength="8.79" lengthAdjust="spacingAndGlyphs">10</text>
<line x1="334.53000000000003" y1="358.7" x2="334.53000000000003" y2="361.6" stroke="#222" stroke-width="1"/>
<text x="334.53000000000003" y="372.2" font-size="8.2" text-anchor="middle" fill="#2b2b2b" stroke="#2b2b2b" stroke-width="0.12" textLength="8.79" lengthAdjust="spacingAndGlyphs">12</text>
<line x1="348.34000000000003" y1="358.7" x2="348.34000000000003" y2="361.6" stroke="#222" stroke-width="1"/>
<text x="348.34000000000003" y="372.2" font-size="8.2" text-anchor="middle" fill="#2b2b2b" stroke="#2b2b2b" stroke-width="0.12" textLength="8.2" lengthAdjust="spacingAndGlyphs">11</text>
<line x1="362.15000000000003" y1="358.7" x2="362.15000000000003" y2="361.6" stroke="#222" stroke-width="1"/>
<text x="362.15000000000003" y="372.2" font-size="8.2" text-anchor="middle" fill="#2b2b2b" stroke="#2b2b2b" stroke-width="0.12" textLength="4.39" lengthAdjust="spacingAndGlyphs">9</text>
<line x1="375.96000000000004" y1="358.7" x2="375.96000000000004" y2="361.6" stroke="#222" stroke-width="1"/>
<text x="375.96000000000004" y="372.2" font-size="8.2" text-anchor="middle" fill="#2b2b2b" stroke="#2b2b2b" stroke-width="0.12" textLength="4.39" lengthAdjust="spacingAndGlyphs">6</text>
<line x1="389.77000000000004" y1="358.7" x2="389.77000000000004" y2="361.6" stroke="#222" stroke-width="1"/>
<text x="389.77000000000004" y="372.2" font-size="8.2" text-anchor="middle" fill="#2b2b2b" stroke="#2b2b2b" stroke-width="0.12" textLength="4.39" lengthAdjust="spacingAndGlyphs">5</text>
<line x1="403.58000000000004" y1="358.7" x2="403.58000000000004" y2="361.6" stroke="#222" stroke-width="1"/>
<text x="403.58000000000004" y="372.2" font-size="8.2" text-anchor="middle" fill="#2b2b2b" stroke="#2b2b2b" stroke-width="0.12" textLength="4.39" lengthAdjust="spacingAndGlyphs">2</text>
<line x1="417.39000000000004" y1="358.7" x2="417.39000000000004" y2="361.6" stroke="#222" stroke-width="1"/>
<text x="417.39000000000004" y="372.2" font-size="8.2" text-anchor="middle" fill="#2b2b2b" stroke="#2b2b2b" stroke-width="0.12" textLength="4.39" lengthAdjust="spacingAndGlyphs">7</text>
<line x1="431.20000000000005" y1="358.7" x2="431.20000000000005" y2="361.6" stroke="#222" stroke-width="1"/>
<text x="431.20000000000005" y="372.2" font-size="8.2" text-anchor="middle" fill="#2b2b2b" stroke="#2b2b2b" stroke-width="0.12" textLength="4.39" lengthAdjust="spacingAndGlyphs">1</text>
<line x1="445.01" y1="358.7" x2="445.01" y2="361.6" stroke="#222" stroke-width="1"/>
<text x="445.01" y="372.2" font-size="8.2" text-anchor="middle" fill="#2b2b2b" stroke="#2b2b2b" stroke-width="0.12" textLength="8.79" lengthAdjust="spacingAndGlyphs">13</text>
<line x1="458.82000000000005" y1="358.7" x2="458.82000000000005" y2="361.6" stroke="#222" stroke-width="1"/>
<text x="458.82000000000005" y="372.2" font-size="8.2" text-anchor="middle" fill="#2b2b2b" stroke="#2b2b2b" stroke-width="0.12" textLength="4.39" lengthAdjust="spacingAndGlyphs">3</text>
<line x1="472.63" y1="358.7" x2="472.63" y2="361.6" stroke="#222" stroke-width="1"/>
<text x="472.63" y="372.2" font-size="8.2" text-anchor="middle" fill="#2b2b2b" stroke="#2b2b2b" stroke-width="0.12" textLength="4.39" lengthAdjust="spacingAndGlyphs">4</text>
<line x1="486.44000000000005" y1="358.7" x2="486.44000000000005" y2="361.6" stroke="#222" stroke-width="1"/>
<text x="486.44000000000005" y="372.2" font-size="8.2" text-anchor="middle" fill="#2b2b2b" stroke="#2b2b2b" stroke-width="0.12" textLength="8.79" lengthAdjust="spacingAndGlyphs">14</text>
<text x="127.4" y="214.6" font-size="10" text-anchor="middle" fill="#222" stroke="#222" stroke-width="0.12" textLength="149.8" lengthAdjust="spacingAndGlyphs">Sample proportion in each cluster</text>
<text x="389.8" y="214.6" font-size="10" text-anchor="middle" fill="#222" stroke="#222" stroke-width="0.12" textLength="157.5" lengthAdjust="spacingAndGlyphs">Cell type proportion in each cluster</text>
<rect x="24.90" y="223.50" width="12.00" height="98.50" fill="#ebbdaf"/>
<rect x="24.90" y="322.00" width="12.00" height="5.80" fill="#d86e60"/>
<rect x="24.90" y="327.80" width="12.00" height="1.00" fill="#c4021f"/>
<rect x="24.90" y="328.80" width="12.00" height="18.00" fill="#bcc0da"/>
<rect x="24.90" y="346.80" width="12.00" height="4.80" fill="#6c80aa"/>
<rect x="24.90" y="351.60" width="12.00" height="0.90" fill="#0f4b87"/>
<rect x="38.71" y="223.50" width="12.00" height="103.70" fill="#ebbdaf"/>
<rect x="38.71" y="327.20" width="12.00" height="2.00" fill="#d86e60"/>
<rect x="38.71" y="329.20" width="12.00" height="0.80" fill="#c4021f"/>
<rect x="38.71" y="330.00" width="12.00" height="19.00" fill="#bcc0da"/>
<rect x="38.71" y="349.00" width="12.00" height="2.80" fill="#6c80aa"/>
<rect x="38.71" y="351.80" width="12.00" height="0.70" fill="#0f4b87"/>
<rect x="52.52" y="223.50" width="12.00" height="103.30" fill="#ebbdaf"/>
<rect x="52.52" y="326.80" width="12.00" height="11.70" fill="#d86e60"/>
<rect x="52.52" y="338.50" width="12.00" height="2.30" fill="#c4021f"/>
<rect x="52.52" y="340.80" width="12.00" height="8.20" fill="#bcc0da"/>
<rect x="52.52" y="349.00" width="12.00" height="3.50" fill="#0f4b87"/>
<rect x="66.33" y="223.50" width="12.00" height="34.50" fill="#ebbdaf"/>
<rect x="66.33" y="258.00" width="12.00" height="8.80" fill="#c4021f"/>
<rect x="66.33" y="266.80" width="12.00" height="82.20" fill="#bcc0da"/>
<rect x="66.33" y="349.00" width="12.00" height="3.50" fill="#6c80aa"/>
<rect x="80.14" y="223.50" width="12.00" height="19.10" fill="#ebbdaf"/>
<rect x="80.14" y="242.60" width="12.00" height="14.00" fill="#d86e60"/>
<rect x="80.14" y="256.60" width="12.00" height="3.50" fill="#c4021f"/>
<rect x="80.14" y="260.10" width="12.00" height="88.90" fill="#bcc0da"/>
<rect x="80.14" y="349.00" width="12.00" height="3.50" fill="#6c80aa"/>
<rect x="93.95" y="223.50" width="12.00" height="27.50" fill="#ebbdaf"/>
<rect x="93.95" y="251.00" width="12.00" height="34.50" fill="#d86e60"/>
<rect x="93.95" y="285.50" width="12.00" height="5.60" fill="#c4021f"/>
<rect x="93.95" y="291.10" width="12.00" height="24.10" fill="#bcc0da"/>
<rect x="93.95" y="315.20" width="12.00" height="30.30" fill="#6c80aa"/>
<rect x="93.95" y="345.50" width="12.00" height="7.00" fill="#0f4b87"/>
<rect x="107.76" y="223.50" width="12.00" height="22.90" fill="#ebbdaf"/>
<rect x="107.76" y="246.40" width="12.00" height="24.60" fill="#d86e60"/>
<rect x="107.76" y="271.00" width="12.00" height="11.60" fill="#c4021f"/>
<rect x="107.76" y="282.60" width="12.00" height="36.60" fill="#bcc0da"/>
<rect x="107.76" y="319.20" width="12.00" height="21.60" fill="#6c80aa"/>
<rect x="107.76" y="340.80" width="12.00" height="11.70" fill="#0f4b87"/>
<rect x="121.57" y="223.50" width="12.00" height="15.50" fill="#ebbdaf"/>
<rect x="121.57" y="239.00" width="12.00" height="31.60" fill="#d86e60"/>
<rect x="121.57" y="270.60" width="12.00" height="15.40" fill="#c4021f"/>
<rect x="121.57" y="286.00" width="12.00" height="25.00" fill="#bcc0da"/>
<rect x="121.57" y="311.00" width="12.00" height="21.70" fill="#6c80aa"/>
<rect x="121.57" y="332.70" width="12.00" height="19.80" fill="#0f4b87"/>
<rect x="135.38" y="223.50" width="12.00" height="2.00" fill="#ebbdaf"/>
<rect x="135.38" y="225.50" width="12.00" height="52.10" fill="#d86e60"/>
<rect x="135.38" y="277.60" width="12.00" height="24.90" fill="#c4021f"/>
<rect x="135.38" y="302.50" width="12.00" height="20.20" fill="#bcc0da"/>
<rect x="135.38" y="322.70" width="12.00" height="21.90" fill="#6c80aa"/>
<rect x="135.38" y="344.60" width="12.00" height="7.90" fill="#0f4b87"/>
<rect x="149.19" y="223.50" width="12.00" height="2.30" fill="#ebbdaf"/>
<rect x="149.19" y="225.80" width="12.00" height="49.20" fill="#d86e60"/>
<rect x="149.19" y="275.00" width="12.00" height="18.80" fill="#c4021f"/>
<rect x="149.19" y="293.80" width="12.00" height="15.80" fill="#bcc0da"/>
<rect x="149.19" y="309.60" width="12.00" height="26.30" fill="#6c80aa"/>
<rect x="149.19" y="335.90" width="12.00" height="16.60" fill="#0f4b87"/>
<rect x="163.00" y="223.50" width="12.00" height="5.40" fill="#ebbdaf"/>
<rect x="163.00" y="228.90" width="12.00" height="15.80" fill="#d86e60"/>
<rect x="163.00" y="244.70" width="12.00" height="35.10" fill="#c4021f"/>
<rect x="163.00" y="279.80" width="12.00" height="17.10" fill="#bcc0da"/>
<rect x="163.00" y="296.90" width="12.00" height="38.60" fill="#6c80aa"/>
<rect x="163.00" y="335.50" width="12.00" height="17.00" fill="#0f4b87"/>
<rect x="176.81" y="223.50" width="12.00" height="0.70" fill="#ebbdaf"/>
<rect x="176.81" y="224.20" width="12.00" height="14.00" fill="#d86e60"/>
<rect x="176.81" y="238.20" width="12.00" height="16.60" fill="#c4021f"/>
<rect x="176.81" y="254.80" width="12.00" height="1.40" fill="#bcc0da"/>
<rect x="176.81" y="256.20" width="12.00" height="44.90" fill="#6c80aa"/>
<rect x="176.81" y="301.10" width="12.00" height="51.40" fill="#0f4b87"/>
<rect x="190.62" y="223.50" width="12.00" height="2.90" fill="#d86e60"/>
<rect x="190.62" y="226.40" width="12.00" height="31.10" fill="#c4021f"/>
<rect x="190.62" y="257.50" width="12.00" height="1.30" fill="#bcc0da"/>
<rect x="190.62" y="258.80" width="12.00" height="8.80" fill="#6c80aa"/>
<rect x="190.62" y="267.60" width="12.00" height="84.90" fill="#0f4b87"/>
<rect x="204.43" y="223.50" width="12.00" height="29.30" fill="#d86e60"/>
<rect x="204.43" y="252.80" width="12.00" height="41.90" fill="#c4021f"/>
<rect x="204.43" y="294.70" width="12.00" height="6.10" fill="#bcc0da"/>
<rect x="204.43" y="300.80" width="12.00" height="47.50" fill="#6c80aa"/>
<rect x="204.43" y="348.30" width="12.00" height="4.20" fill="#0f4b87"/>
<rect x="218.24" y="223.50" width="12.00" height="20.00" fill="#ebbdaf"/>
<rect x="218.24" y="243.50" width="12.00" height="2.30" fill="#d86e60"/>
<rect x="218.24" y="245.80" width="12.00" height="46.60" fill="#c4021f"/>
<rect x="218.24" y="292.40" width="12.00" height="16.70" fill="#bcc0da"/>
<rect x="218.24" y="309.10" width="12.00" height="14.20" fill="#6c80aa"/>
<rect x="218.24" y="323.30" width="12.00" height="29.20" fill="#0f4b87"/>
<rect x="287.10" y="223.50" width="12.00" height="4.10" fill="#c7c5c9"/>
<rect x="287.10" y="227.60" width="12.00" height="1.30" fill="#f68c0c"/>
<rect x="287.10" y="228.90" width="12.00" height="1.00" fill="#39a9e0"/>
<rect x="287.10" y="229.90" width="12.00" height="3.90" fill="#0d6b4e"/>
<rect x="287.10" y="233.80" width="12.00" height="7.90" fill="#f8bd0b"/>
<rect x="287.10" y="241.70" width="12.00" height="10.50" fill="#104b8c"/>
<rect x="287.10" y="252.20" width="12.00" height="36.00" fill="#c8001f"/>
<rect x="287.10" y="288.20" width="12.00" height="35.70" fill="#e8007a"/>
<rect x="287.10" y="323.90" width="12.00" height="27.90" fill="#9189c1"/>
<rect x="300.91" y="223.50" width="12.00" height="3.80" fill="#39a9e0"/>
<rect x="300.91" y="227.30" width="12.00" height="1.10" fill="#0d6b4e"/>
<rect x="300.91" y="228.40" width="12.00" height="65.00" fill="#f8bd0b"/>
<rect x="300.91" y="293.40" width="12.00" height="23.20" fill="#104b8c"/>
<rect x="300.91" y="316.60" width="12.00" height="1.40" fill="#c8001f"/>
<rect x="300.91" y="318.00" width="12.00" height="1.70" fill="#e8007a"/>
<rect x="300.91" y="319.70" width="12.00" height="32.10" fill="#9189c1"/>
<rect x="314.72" y="223.50" width="12.00" height="3.30" fill="#c7c5c9"/>
<rect x="314.72" y="226.80" width="12.00" height="2.60" fill="#f68c0c"/>
<rect x="314.72" y="229.40" width="12.00" height="1.10" fill="#39a9e0"/>
<rect x="314.72" y="230.50" width="12.00" height="11.20" fill="#0d6b4e"/>
<rect x="314.72" y="241.70" width="12.00" height="7.90" fill="#f8bd0b"/>
<rect x="314.72" y="249.60" width="12.00" height="21.00" fill="#104b8c"/>
<rect x="314.72" y="270.60" width="12.00" height="29.30" fill="#c8001f"/>
<rect x="314.72" y="299.90" width="12.00" height="14.60" fill="#e8007a"/>
<rect x="314.72" y="314.50" width="12.00" height="37.30" fill="#9189c1"/>
<rect x="328.53" y="223.50" width="12.00" height="18.20" fill="#39a9e0"/>
<rect x="328.53" y="241.70" width="12.00" height="46.50" fill="#0d6b4e"/>
<rect x="328.53" y="288.20" width="12.00" height="35.00" fill="#f8bd0b"/>
<rect x="328.53" y="323.20" width="12.00" height="5.70" fill="#104b8c"/>
<rect x="328.53" y="328.90" width="12.00" height="4.30" fill="#c8001f"/>
<rect x="328.53" y="333.20" width="12.00" height="8.30" fill="#e8007a"/>
<rect x="328.53" y="341.50" width="12.00" height="10.30" fill="#9189c1"/>
<rect x="342.34" y="223.50" width="12.00" height="26.10" fill="#0d6b4e"/>
<rect x="342.34" y="249.60" width="12.00" height="57.90" fill="#f8bd0b"/>
<rect x="342.34" y="307.50" width="12.00" height="28.40" fill="#104b8c"/>
<rect x="342.34" y="335.90" width="12.00" height="9.60" fill="#c8001f"/>
<rect x="342.34" y="345.50" width="12.00" height="6.30" fill="#e8007a"/>
<rect x="356.15" y="223.50" width="12.00" height="13.50" fill="#c7c5c9"/>
<rect x="356.15" y="237.00" width="12.00" height="10.80" fill="#f68c0c"/>
<rect x="356.15" y="247.80" width="12.00" height="12.30" fill="#39a9e0"/>
<rect x="356.15" y="260.10" width="12.00" height="11.40" fill="#0d6b4e"/>
<rect x="356.15" y="271.50" width="12.00" height="16.70" fill="#f8bd0b"/>
<rect x="356.15" y="288.20" width="12.00" height="18.70" fill="#104b8c"/>
<rect x="356.15" y="306.90" width="12.00" height="14.90" fill="#c8001f"/>
<rect x="356.15" y="321.80" width="12.00" height="16.70" fill="#e8007a"/>
<rect x="356.15" y="338.50" width="12.00" height="13.30" fill="#9189c1"/>
<rect x="369.96" y="223.50" width="12.00" height="10.30" fill="#c7c5c9"/>
<rect x="369.96" y="233.80" width="12.00" height="13.20" fill="#f68c0c"/>
<rect x="369.96" y="247.00" width="12.00" height="5.70" fill="#39a9e0"/>
<rect x="369.96" y="252.70" width="12.00" height="64.20" fill="#0d6b4e"/>
<rect x="369.96" y="316.90" width="12.00" height="11.10" fill="#f8bd0b"/>
<rect x="369.96" y="328.00" width="12.00" height="5.80" fill="#104b8c"/>
<rect x="369.96" y="333.80" width="12.00" height="3.80" fill="#c8001f"/>
<rect x="369.96" y="337.60" width="12.00" height="9.70" fill="#e8007a"/>
<rect x="369.96" y="347.30" width="12.00" height="4.50" fill="#9189c1"/>
<rect x="383.77" y="223.50" width="12.00" height="22.20" fill="#c7c5c9"/>
<rect x="383.77" y="245.70" width="12.00" height="11.30" fill="#f68c0c"/>
<rect x="383.77" y="257.00" width="12.00" height="11.00" fill="#39a9e0"/>
<rect x="383.77" y="268.00" width="12.00" height="9.60" fill="#0d6b4e"/>
<rect x="383.77" y="277.60" width="12.00" height="19.70" fill="#f8bd0b"/>
<rect x="383.77" y="297.30" width="12.00" height="21.40" fill="#104b8c"/>
<rect x="383.77" y="318.70" width="12.00" height="12.80" fill="#c8001f"/>
<rect x="383.77" y="331.50" width="12.00" height="14.00" fill="#e8007a"/>
<rect x="383.77" y="345.50" width="12.00" height="6.30" fill="#9189c1"/>
<rect x="397.58" y="223.50" width="12.00" height="32.70" fill="#f68c0c"/>
<rect x="397.58" y="256.20" width="12.00" height="35.50" fill="#39a9e0"/>
<rect x="397.58" y="291.70" width="12.00" height="8.70" fill="#0d6b4e"/>
<rect x="397.58" y="300.40" width="12.00" height="24.60" fill="#f8bd0b"/>
<rect x="397.58" y="325.00" width="12.00" height="17.00" fill="#104b8c"/>
<rect x="397.58" y="342.00" width="12.00" height="4.40" fill="#e8007a"/>
<rect x="397.58" y="346.40" width="12.00" height="5.40" fill="#9189c1"/>
<rect x="411.39" y="223.50" width="12.00" height="2.40" fill="#f68c0c"/>
<rect x="411.39" y="225.90" width="12.00" height="55.30" fill="#39a9e0"/>
<rect x="411.39" y="281.20" width="12.00" height="2.60" fill="#0d6b4e"/>
<rect x="411.39" y="283.80" width="12.00" height="60.80" fill="#f8bd0b"/>
<rect x="411.39" y="344.60" width="12.00" height="3.20" fill="#104b8c"/>
<rect x="411.39" y="347.80" width="12.00" height="1.20" fill="#e8007a"/>
<rect x="411.39" y="349.00" width="12.00" height="2.80" fill="#9189c1"/>
<rect x="425.20" y="223.50" width="12.00" height="44.30" fill="#c7c5c9"/>
<rect x="425.20" y="267.80" width="12.00" height="11.90" fill="#f68c0c"/>
<rect x="425.20" y="279.70" width="12.00" height="22.80" fill="#0d6b4e"/>
<rect x="425.20" y="302.50" width="12.00" height="17.60" fill="#104b8c"/>
<rect x="425.20" y="320.10" width="12.00" height="8.80" fill="#c8001f"/>
<rect x="425.20" y="328.90" width="12.00" height="14.00" fill="#e8007a"/>
<rect x="425.20" y="342.90" width="12.00" height="8.90" fill="#9189c1"/>
<rect x="439.01" y="223.50" width="12.00" height="44.50" fill="#f68c0c"/>
<rect x="439.01" y="268.00" width="12.00" height="55.90" fill="#39a9e0"/>
<rect x="439.01" y="323.90" width="12.00" height="6.40" fill="#0d6b4e"/>
<rect x="439.01" y="330.30" width="12.00" height="12.20" fill="#f8bd0b"/>
<rect x="439.01" y="342.50" width="12.00" height="5.30" fill="#104b8c"/>
<rect x="439.01" y="347.80" width="12.00" height="0.70" fill="#e8007a"/>
<rect x="439.01" y="348.50" width="12.00" height="3.30" fill="#9189c1"/>
<rect x="452.82" y="223.50" width="12.00" height="20.90" fill="#f68c0c"/>
<rect x="452.82" y="244.40" width="12.00" height="60.30" fill="#39a9e0"/>
<rect x="452.82" y="304.70" width="12.00" height="5.80" fill="#0d6b4e"/>
<rect x="452.82" y="310.50" width="12.00" height="22.30" fill="#f8bd0b"/>
<rect x="452.82" y="332.80" width="12.00" height="8.10" fill="#104b8c"/>
<rect x="452.82" y="340.90" width="12.00" height="3.00" fill="#e8007a"/>
<rect x="452.82" y="343.90" width="12.00" height="7.90" fill="#9189c1"/>
<rect x="466.63" y="223.50" width="12.00" height="70.30" fill="#f68c0c"/>
<rect x="466.63" y="293.80" width="12.00" height="44.80" fill="#39a9e0"/>
<rect x="466.63" y="338.60" width="12.00" height="7.00" fill="#0d6b4e"/>
<rect x="466.63" y="345.60" width="12.00" height="4.10" fill="#f8bd0b"/>
<rect x="466.63" y="349.70" width="12.00" height="2.10" fill="#104b8c"/>
<rect x="480.44" y="223.50" width="12.00" height="19.10" fill="#39a9e0"/>
<rect x="480.44" y="242.60" width="12.00" height="9.70" fill="#0d6b4e"/>
<rect x="480.44" y="252.30" width="12.00" height="2.60" fill="#f8bd0b"/>
<rect x="480.44" y="254.90" width="12.00" height="17.20" fill="#104b8c"/>
<rect x="480.44" y="272.10" width="12.00" height="41.90" fill="#c8001f"/>
<rect x="480.44" y="314.00" width="12.00" height="37.80" fill="#9189c1"/>
<rect x="49.10" y="380.00" width="6.60" height="6.00" fill="#ebbdaf"/>
<text x="58.9" y="385.7" font-size="8.2" text-anchor="start" fill="#2b2b2b" stroke="#2b2b2b" stroke-width="0.12" textLength="59.53" lengthAdjust="spacingAndGlyphs">CAR D0 on day 3</text>
<rect x="49.10" y="391.30" width="6.60" height="6.00" fill="#d86e60"/>
<text x="58.9" y="397.0" font-size="8.2" text-anchor="start" fill="#2b2b2b" stroke="#2b2b2b" stroke-width="0.12" textLength="59.53" lengthAdjust="spacingAndGlyphs">CAR D0 on day 8</text>
<rect x="49.10" y="402.60" width="6.60" height="6.00" fill="#c4021f"/>
<text x="58.9" y="408.3" font-size="8.2" text-anchor="start" fill="#2b2b2b" stroke="#2b2b2b" stroke-width="0.12" textLength="63.79" lengthAdjust="spacingAndGlyphs">CAR D0 on day 16</text>
<rect x="132.30" y="380.00" width="6.60" height="6.00" fill="#bcc0da"/>
<text x="142" y="385.7" font-size="8.2" text-anchor="start" fill="#2b2b2b" stroke="#2b2b2b" stroke-width="0.12" textLength="59.53" lengthAdjust="spacingAndGlyphs">CAR D5 on day 8</text>
<rect x="132.30" y="391.30" width="6.60" height="6.00" fill="#6c80aa"/>
<text x="142" y="397.0" font-size="8.2" text-anchor="start" fill="#2b2b2b" stroke="#2b2b2b" stroke-width="0.12" textLength="63.79" lengthAdjust="spacingAndGlyphs">CAR D5 on day 13</text>
<rect x="132.30" y="402.60" width="6.60" height="6.00" fill="#0f4b87"/>
<text x="142" y="408.3" font-size="8.2" text-anchor="start" fill="#2b2b2b" stroke="#2b2b2b" stroke-width="0.12" textLength="63.79" lengthAdjust="spacingAndGlyphs">CAR D5 on day 21</text>
<rect x="259.20" y="380.00" width="6.50" height="6.00" fill="#c7c5c9"/>
<text x="269" y="385.7" font-size="8.2" text-anchor="start" fill="#2b2b2b" stroke="#2b2b2b" stroke-width="0.12" textLength="36.88" lengthAdjust="spacingAndGlyphs">CD4 naive</text>
<rect x="259.20" y="391.30" width="6.50" height="6.00" fill="#0d6b4e"/>
<text x="269" y="397.0" font-size="8.2" text-anchor="start" fill="#2b2b2b" stroke="#2b2b2b" stroke-width="0.12" textLength="36.88" lengthAdjust="spacingAndGlyphs">CD8 naive</text>
<rect x="259.20" y="402.60" width="6.50" height="6.00" fill="#c8001f"/>
<text x="269" y="408.3" font-size="8.2" text-anchor="start" fill="#2b2b2b" stroke="#2b2b2b" stroke-width="0.12" textLength="11.41" lengthAdjust="spacingAndGlyphs">Tfh</text>
<rect x="314.50" y="380.00" width="6.50" height="6.00" fill="#f68c0c"/>
<text x="323" y="385.7" font-size="8.2" text-anchor="start" fill="#2b2b2b" stroke="#2b2b2b" stroke-width="0.12" textLength="68.94" lengthAdjust="spacingAndGlyphs">CD8 early activated</text>
<rect x="314.50" y="391.30" width="6.50" height="6.00" fill="#f8bd0b"/>
<text x="323" y="397.0" font-size="8.2" text-anchor="start" fill="#2b2b2b" stroke="#2b2b2b" stroke-width="0.12" textLength="90.45" lengthAdjust="spacingAndGlyphs">CD8 terminally exhausted</text>
<rect x="314.50" y="402.60" width="6.50" height="6.00" fill="#e8007a"/>
<text x="323" y="408.3" font-size="8.2" text-anchor="start" fill="#2b2b2b" stroke="#2b2b2b" stroke-width="0.12" textLength="13.61" lengthAdjust="spacingAndGlyphs">Th1</text>
<rect x="422.00" y="380.00" width="6.50" height="6.00" fill="#39a9e0"/>
<text x="431.3" y="385.7" font-size="8.2" text-anchor="start" fill="#2b2b2b" stroke="#2b2b2b" stroke-width="0.12" textLength="74.93" lengthAdjust="spacingAndGlyphs">CD8 effector memory</text>
<rect x="422.00" y="391.30" width="6.50" height="6.00" fill="#104b8c"/>
<text x="431.3" y="397.0" font-size="8.2" text-anchor="start" fill="#2b2b2b" stroke="#2b2b2b" stroke-width="0.12" textLength="90.02" lengthAdjust="spacingAndGlyphs">CD8 precursor exhausted</text>
<rect x="422.00" y="402.60" width="6.50" height="6.00" fill="#9189c1"/>
<text x="431.3" y="408.3" font-size="8.2" text-anchor="start" fill="#2b2b2b" stroke="#2b2b2b" stroke-width="0.12" textLength="15.95" lengthAdjust="spacingAndGlyphs">Treg</text>
</svg></body></html>
